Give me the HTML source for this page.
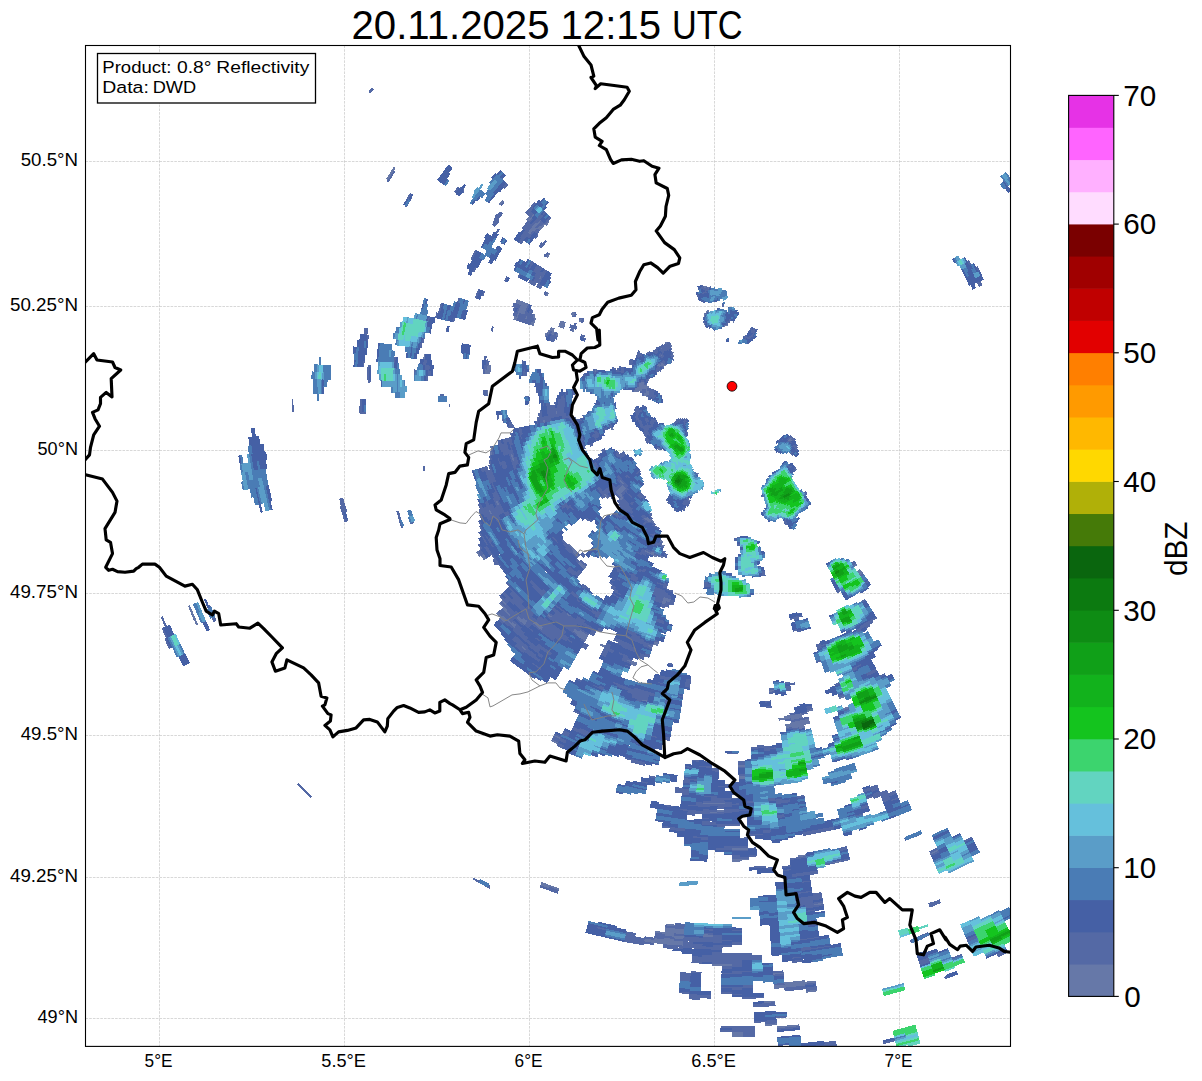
<!DOCTYPE html><html><head><meta charset="utf-8"><title>Radar</title><style>html,body{margin:0;padding:0;background:#fff}</style></head><body><svg width="1202" height="1081" viewBox="0 0 1202 1081" style="display:block;font-family:'Liberation Sans',sans-serif">
<rect width="1202" height="1081" fill="#fff"/>
<defs><clipPath id="fc"><rect x="85.5" y="45.5" width="925.0" height="1000.9"/></clipPath></defs>
<g clip-path="url(#fc)">
<path d="M159.50 45.5V1046.4M344.50 45.5V1046.4M529.50 45.5V1046.4M714.50 45.5V1046.4M899.50 45.5V1046.4M85.5 161.50H1010.5M85.5 306.50H1010.5M85.5 450.50H1010.5M85.5 593.50H1010.5M85.5 735.50H1010.5M85.5 877.50H1010.5M85.5 1018.50H1010.5" stroke="#b0b0b0" stroke-opacity="0.62" stroke-width="0.8" stroke-dasharray="2.6 1.1" fill="none"/>
<g fill="none" stroke-width="2.18" shape-rendering="crispEdges"><path fill="#5469a5" d="M339.8 501.9L342.8 500.6L348.5 521.1L344.3 522.4ZM291.8 398.7L293.3 398.7L293.8 412.4L292.3 412.4ZM359.8 402.4L364.8 402.4L366.0 414.4L363.0 414.4L362.3 408.7L359.8 407.9ZM368.5 365.0L370.5 365.0L370.0 382.5L368.3 382.5ZM190.0 611.2L192.0 611.2L195.5 620.0L193.7 620.0ZM206.2 605.0L210.0 605.0L216.2 620.0L213.7 622.5ZM296.9 784.3L298.4 782.8L311.9 796.8L310.4 798.3ZM386.2 181.2L392.4 170.0L395.4 171.2L388.7 182.5ZM404.4 206.2L410.4 196.2L412.4 197.5L406.2 207.9ZM455.4 193.7L459.9 187.5L464.9 186.2L463.6 192.5L458.6 196.2ZM499.8 203.7L503.6 201.2L504.3 202.9L501.1 206.2ZM492.3 224.9L496.1 213.7L499.8 213.7L498.6 222.4L494.8 227.4ZM501.1 240.4L504.8 240.4L504.8 243.9L501.1 243.9ZM539.8 244.9L544.8 241.2L546.0 242.9L541.0 246.9ZM543.5 253.6L547.3 253.6L547.3 256.9L543.5 256.9ZM504.8 278.6L507.8 278.6L507.8 281.9L504.8 281.9ZM543.5 292.4L546.0 292.4L546.0 295.4L543.5 295.4ZM476.1 293.6L479.9 290.6L482.9 293.6L478.6 297.9ZM368.7 364.8L370.5 364.8L370.5 382.3L368.7 382.3ZM462.4 347.3L469.9 346.1L469.9 352.3L467.4 358.5L462.9 358.5ZM482.9 364.8L487.4 358.5L489.4 364.8L486.1 373.5L482.9 372.3ZM438.7 402.2L439.9 393.5L443.6 393.5L447.4 402.2ZM448.6 403.5L449.9 403.5L449.9 407.2L448.6 407.2ZM360.0 402.2L366.2 402.2L366.2 413.5L360.0 413.5ZM446.1 327.8L447.9 327.8L447.9 332.3L446.1 332.3ZM491.6 328.1L493.1 328.1L493.1 331.6L491.6 331.6ZM559.8 322.3L564.8 322.3L564.8 327.3L559.8 327.3ZM572.3 312.3L576.0 312.3L576.0 316.8L572.3 316.8ZM578.5 317.8L583.5 317.8L583.5 322.3L578.5 322.3ZM571.0 324.8L576.0 324.8L576.0 329.3L571.0 329.3ZM579.8 336.1L583.5 336.1L583.5 339.8L579.8 339.8ZM368.0 92.1L372.0 87.6L374.0 89.1L370.0 93.6ZM501.0 411.9L506.0 412.9L515.0 427.9L508.0 427.9ZM483.6 392.4L488.0 392.4L488.0 396.0L483.6 396.0ZM497.0 411.9L499.0 411.9L499.0 416.9L497.0 416.9ZM524.9 396.0L528.9 396.0L528.9 403.9L524.9 403.9ZM667.8 359.0L671.8 359.0L671.8 363.0L667.8 363.0ZM628.9 360.0L631.9 360.0L631.9 363.6L628.9 363.6ZM494.0 560.0L498.0 560.0L498.0 565.0L494.0 565.0ZM667.8 663.9L672.8 663.9L672.8 666.9L667.8 666.9ZM721.6 303.0L724.4 303.0L724.4 307.0L721.6 307.0ZM725.6 338.9L728.4 338.9L728.4 341.5L725.6 341.5ZM680.0 419.9L687.0 419.9L687.0 429.9L680.0 429.9ZM789.3 616.9L793.9 612.9L800.9 613.5L798.9 616.9L791.9 618.8ZM789.0 617.0L794.0 613.0L801.0 613.6L798.0 617.0ZM760.0 702.9L770.0 702.9L770.0 705.9L760.0 705.9ZM726.9 751.0L737.9 751.0L737.9 754.0L726.9 754.0ZM679.9 881.9L697.9 880.9L697.9 884.3L680.9 884.9ZM731.9 917.5L749.9 917.5L749.9 919.1L731.9 919.1ZM679.8 882.0L697.3 882.0L697.3 884.5L679.8 884.5ZM777.1 1027.2L798.4 1026.0L798.4 1029.7L777.1 1031.7ZM732.2 917.9L749.7 917.9L749.7 919.2L732.2 919.2ZM759.7 917.4L769.7 917.4L769.7 918.7L759.7 918.7ZM928.6 903.1L937.4 900.8L938.8 903.6L930.3 907.5ZM910.1 940.0L918.0 936.5L927.7 932.1L928.6 935.6L919.8 940.0L911.0 943.5ZM944.0 976.9L954.1 973.9L954.9 976.0L945.3 979.2ZM904.0 838.1L919.1 832.2L920.0 835.3L905.3 840.8ZM928.2 903.1L937.4 900.4L938.7 904.0L929.7 907.7ZM472.1 879.1L474.1 877.9L490.7 885.8L489.6 888.8ZM396.1 510.5L398.8 510.5L403.5 527.2L401.1 528.2ZM409.5 512.5L412.1 512.5L413.8 523.2L409.5 524.9ZM422.8 466.0L424.8 466.0L424.8 470.6L422.8 470.6Z"/>
<path stroke="#6678a8" d="M686.7 419.7L685.8 418.4M724.3 325.5L728.0 325.1M732.9 321.5L734.5 321.6M672.5 356.4L673.3 354.9M672.1 353.5L672.9 352.0M704.0 324.1L705.5 323.4M664.9 366.2L665.4 364.5M662.9 366.9L663.8 364.0M661.3 366.4L662.6 362.2M670.2 346.6L671.2 345.1M659.2 367.2L660.1 364.2M703.6 316.7L705.3 316.1M657.6 366.7L658.5 363.7M661.0 356.5L661.8 354.9M704.2 314.6L705.9 314.0M791.6 437.9L788.4 441.3M665.8 343.7L666.9 342.2M706.1 312.1L709.2 311.1M791.9 440.0L790.7 441.4M660.9 348.9L661.8 347.2M648.6 395.4L648.2 390.5M648.1 388.1L648.1 386.1M648.3 380.8L648.4 378.8M647.0 397.1L646.5 390.9L646.4 384.7M645.1 395.8L644.8 392.2M644.7 389.7L644.7 384.6M643.0 389.8L643.0 381.5M641.3 391.4L641.3 381.4M647.1 354.1L647.9 352.1M639.6 391.5L639.5 382.9M698.4 474.5L696.4 473.7M637.9 391.6L637.7 386.1M659.7 449.6L658.3 447.9M636.1 391.7L636.0 387.8M634.4 391.8L634.3 389.6M707.3 288.3L709.5 287.7M703.4 287.5L707.3 286.5M796.6 468.7L794.8 470.1M690.5 501.1L688.1 500.2M612.6 430.1L611.7 427.6M595.2 372.3L595.5 369.4M623.5 484.4L619.9 480.2M625.8 489.3L621.9 485.2M624.5 490.5L620.6 486.3M623.3 491.7L619.3 487.5M622.0 492.9L618.1 488.7M622.7 496.1L616.8 489.8M653.9 522.1L646.5 517.6M623.4 499.2L615.5 491.0M650.7 522.2L643.3 517.5M622.2 500.4L619.9 498.2M576.8 425.4L574.9 416.7M574.4 423.0L573.2 417.0M579.8 322.1L581.2 319.0M608.1 498.3L604.0 493.5M572.4 331.7L573.6 328.5M662.9 542.2L659.8 540.7M664.3 546.5L661.1 545.1M573.1 315.9L574.5 312.7M571.5 315.2L573.0 312.0M556.9 414.4L556.4 410.8M562.6 328.3L564.9 322.0M561.0 327.8L563.3 321.4M556.5 336.3L557.5 332.8M559.3 327.2L561.7 320.8M663.2 557.3L659.8 555.9M654.4 553.5L651.0 551.9M656.6 556.4L644.5 550.5M553.2 335.4L554.2 331.8M551.5 334.9L553.6 328.2M550.8 331.3L551.9 327.6M544.4 423.1L543.7 419.3M548.2 333.9L549.3 330.3M545.6 336.7L546.6 333.0M546.1 296.0L547.9 292.3M532.6 325.7L535.0 318.3M530.9 325.2L532.2 321.2M533.2 318.2L534.6 314.3M856.7 564.1L853.2 566.5M525.4 319.5L526.8 315.5M523.4 314.8L527.6 303.5M539.0 279.7L541.1 275.9M671.0 600.2L663.1 597.7M521.7 314.3L526.0 302.9M860.7 569.8L857.1 572.3M670.5 601.8L662.5 599.4M520.1 313.7L524.4 302.2M861.7 571.2L858.0 573.7M666.2 602.4L662.0 601.0M516.0 320.6L522.8 301.6M546.9 257.1L549.5 253.5M862.7 572.6L859.0 575.1M665.7 604.0L661.5 602.7M577.0 552.9L568.2 544.3M514.4 320.1L515.7 315.9M519.5 305.1L521.2 300.9M578.8 556.9L572.6 551.1M517.9 304.5L519.6 300.3M513.7 461.8L511.1 453.7M516.3 303.9L518.0 299.7M585.8 567.4L579.2 561.8M584.7 568.7L578.0 563.2M489.3 373.9L489.9 365.0M487.4 395.2L487.2 390.4M487.5 373.8L488.2 364.8M485.8 373.7L486.1 369.0M545.8 224.9L549.0 221.3M492.3 450.9L491.1 446.2M538.9 230.4L544.8 223.3M491.8 455.5L490.5 450.9M537.6 229.3L540.7 225.5M533.5 231.6L536.5 227.8M529.4 234.1L540.9 219.9M528.1 233.0L536.7 222.2M498.6 505.6L496.3 501.1M528.2 221.7L534.4 214.3M526.8 220.6L530.1 216.6M658.6 643.4L653.6 641.9M658.1 645.1L653.1 643.6M652.6 647.0L647.6 645.5M491.5 514.5L489.1 509.9M571.0 616.8L566.6 613.7M588.2 636.0L579.1 630.5M605.2 647.0L600.2 644.5M587.3 637.5L574.0 629.3M586.5 639.0L573.0 630.7M636.8 663.7L626.7 660.1M585.6 640.5L576.4 634.9M551.7 617.6L547.3 614.1M636.2 665.4L630.9 663.5M499.4 205.0L502.9 200.6M486.3 558.8L483.0 554.0M484.9 559.8L481.6 555.0M480.4 556.4L477.2 551.6M775.0 690.5L769.2 691.2M543.1 628.5L534.4 621.5M542.1 629.9L533.3 622.8M424.3 359.7L424.9 353.9M527.3 622.2L522.9 618.3M526.2 623.5L517.7 615.9M506.3 604.7L502.2 600.4M525.1 624.8L516.5 617.1M507.7 611.1L499.7 602.7M510.5 616.2L502.2 607.9M516.3 626.3L511.8 622.2M515.1 627.6L502.5 615.6M647.8 701.5L641.9 699.8M505.6 621.2L497.2 612.8M504.4 622.4L500.0 618.0M845.0 696.0L839.1 698.1M812.8 709.5L806.7 710.9M801.8 713.8L784.1 717.1M526.1 650.3L521.1 646.4M802.2 715.5L778.6 719.6M802.6 717.2L790.5 719.5M849.1 707.4L843.0 709.5M809.1 719.3L791.1 722.9M809.5 720.9L785.5 725.6M809.9 722.6L785.7 727.3M804.4 725.6L792.0 728.0M804.7 727.3L798.3 728.6M745.5 765.9L738.4 766.1M745.9 776.3L738.6 776.5M745.9 778.0L738.6 778.2M560.5 738.7L553.9 735.4M558.2 743.4L551.5 740.0M387.1 179.5L394.8 167.1M725.0 804.1L702.6 803.2M724.8 811.1L716.9 810.8M717.4 812.6L709.4 812.2M748.4 848.9L731.7 849.2M748.8 859.3L731.7 859.6M806.5 855.4L797.8 856.7M740.5 861.2L731.7 861.3M841.8 860.9L833.0 862.8M938.8 850.2L930.2 853.9M823.4 903.4L813.9 905.0M559.0 889.5L541.1 883.0M549.7 888.0L540.5 884.6M675.6 925.8L665.7 924.7M684.7 930.2L665.2 928.1M684.5 931.9L665.0 929.8M713.1 935.3L703.0 934.9M684.4 933.6L664.8 931.6M713.0 937.1L702.9 936.6M674.7 934.4L655.1 932.0M684.1 937.1L664.4 935.0M683.9 938.8L673.8 937.8M674.1 939.6L664.0 938.4M683.6 942.2L654.1 938.9M683.5 943.9L644.2 939.1M683.3 945.7L643.9 940.8M732.3 965.1L711.6 964.7M197.1 624.8L188.9 605.5M783.6 973.2L772.8 974.0M805.3 981.3L784.0 983.6M815.9 981.7L773.7 986.1M805.7 984.8L773.8 987.9M817.1 990.3L806.1 991.7M775.3 1001.6L764.0 1002.3M776.8 1024.1L765.2 1024.8M799.4 1025.5L776.6 1027.5M743.5 1032.5L731.7 1032.6M743.6 1034.2L731.7 1034.3M743.6 1035.9L731.7 1036.0"/>
<path stroke="#5469a5" d="M747.4 343.2L748.7 343.7M748.8 341.9L750.1 342.4M744.5 338.7L746.7 339.3M743.2 336.6L746.9 337.6L750.5 338.8M745.4 335.4L747.7 336.0M748.9 336.4L752.0 337.6M750.4 335.1L753.5 336.3M751.9 333.8L754.2 334.7M687.2 420.4L686.4 419.2M748.7 330.9L750.1 331.4M750.6 331.5L754.9 333.2M686.5 422.3L683.8 418.6M750.2 329.6L755.6 331.6M685.8 424.2L683.0 420.4M682.7 420.0L681.8 418.7M750.7 327.9L752.2 328.4M752.8 328.6L757.2 330.4M684.4 425.2L683.5 424.0M681.2 420.9L679.8 418.7M680.4 422.8L677.7 418.7M709.1 327.5L710.6 327.0M725.2 323.6L727.8 323.4M687.9 434.0L685.2 431.3M678.4 422.9L676.3 419.6M672.6 360.2L673.3 358.8M705.4 327.2L706.9 326.6M726.1 321.8L730.0 321.6M686.8 435.3L685.6 434.1M676.9 423.9L675.4 421.5M671.5 358.5L672.8 355.9M704.7 325.7L706.2 325.0M728.3 319.9L731.1 319.8M675.5 424.8L673.9 422.4M670.5 356.7L672.4 353.1M705.1 323.6L706.6 322.9M665.3 365.0L665.8 363.4M670.6 352.7L671.4 351.2M703.3 322.5L704.9 321.8M780.2 439.6L778.0 441.6M660.9 396.6L660.7 394.9M662.3 369.3L663.1 366.4M663.6 364.5L665.1 360.4M669.1 351.8L669.9 350.3M670.3 349.6L671.2 348.1M783.3 439.1L782.0 440.3M660.0 371.4L660.7 368.4M660.9 367.6L661.4 365.9M662.4 362.7L663.4 359.8M667.6 351.0L670.5 346.1M703.0 318.8L704.7 318.1M658.1 372.3L659.4 366.7M660.0 364.6L660.9 361.7M662.1 358.4L663.9 354.4M665.4 351.3L670.5 343.0M791.1 435.7L787.2 440.1M655.8 397.4L655.4 394.2M655.2 392.0L655.1 390.2M656.1 373.3L657.7 366.2M658.3 364.1L658.9 362.4M660.5 357.8L661.2 356.1M661.6 355.3L665.0 348.5L669.1 342.0M705.4 314.1L707.2 313.5M792.5 436.8L791.2 438.2M788.8 440.9L787.5 442.2M654.3 399.0L653.3 388.9M658.9 357.1L660.8 352.9M661.1 352.1L666.1 343.3M793.8 437.9L791.6 440.4M791.0 441.1L789.7 442.5M779.5 451.3L777.9 452.4M652.6 399.2L651.6 389.0M659.6 351.4L661.1 348.4M661.5 347.6L663.2 344.8M795.1 439.0L792.9 441.6M792.3 442.3L790.9 443.7M650.7 398.1L649.8 387.6M656.3 354.5L658.3 350.2M659.3 348.0L660.2 346.3M656.1 422.1L654.7 419.0M649.2 399.8L648.5 394.9M648.2 391.0L648.1 387.6M648.4 379.3L648.6 377.4M654.7 353.8L658.0 346.8M794.8 444.6L792.4 447.1M654.5 422.8L652.5 418.2M646.4 385.2L646.4 383.2M646.5 382.2L646.7 378.7M653.1 353.2L654.5 350.0M797.1 444.7L793.6 448.4M653.6 424.9L650.9 418.9M644.9 392.7L644.7 389.2M644.6 385.1L644.8 381.6M797.3 447.0L794.8 449.6M792.9 451.4L790.3 453.8M652.7 427.1L649.9 421.0M645.6 408.2L645.1 406.2M643.4 396.0L643.0 389.3M643.0 382.0L643.1 379.9M648.7 354.7L650.1 351.4M702.8 302.2L704.7 301.6M797.5 449.3L796.0 450.8M793.0 453.7L791.4 455.1M651.2 427.9L649.6 424.6M648.5 422.1L646.6 417.2M643.6 407.1L643.1 405.0M641.4 393.0L641.3 390.9M641.3 381.9L641.4 379.8M700.7 301.1L702.7 300.4M649.6 428.6L644.9 417.8M639.5 383.4L639.6 381.3M696.9 473.9L694.9 473.1M662.1 449.7L659.6 446.8M648.9 430.9L645.8 424.5M641.4 412.6L640.5 409.0M637.7 386.7L637.8 382.9M658.6 448.3L657.2 446.6M649.8 436.1L644.2 425.2M639.8 413.1L638.4 407.8M640.6 357.0L641.9 353.3M697.4 296.9L699.4 296.1M789.7 465.3L787.9 466.6M657.3 449.4L655.9 447.7M647.5 435.5L643.4 427.7L640.1 419.6M638.6 415.2L636.3 406.5M638.5 358.1L640.2 352.7M696.7 295.2L698.8 294.5M701.6 293.5L706.9 291.9M792.1 465.7L788.9 468.0M649.7 442.2L643.3 431.3M642.0 428.7L637.9 418.8L635.0 408.5M632.7 391.9L632.6 389.6M636.8 357.6L639.2 350.5M704.3 290.8L709.9 289.4M648.2 443.2L645.1 438.3M637.0 421.2L635.1 415.8M633.0 365.6L633.4 363.4M702.2 289.7L707.8 288.1M709.0 287.8L711.2 287.4M795.6 467.4L793.7 468.8M630.3 370.5L630.7 368.3M631.3 365.2L632.6 359.5M700.0 288.6L703.9 287.4M795.2 469.8L793.3 471.2M629.6 364.9L631.0 359.1M701.2 286.4L703.4 285.7M622.9 373.3L623.9 367.1M621.2 373.0L622.2 366.8M763.5 495.3L761.1 495.9M619.5 372.8L619.8 370.4M620.0 368.9L620.5 366.5M617.8 372.6L618.4 368.2M616.1 372.4L616.4 369.9M614.6 370.2L615.0 367.6M689.1 498.7L686.7 497.8M612.9 369.9L613.3 367.3M688.5 500.4L686.1 499.4M616.1 424.3L615.3 421.8M689.9 502.7L683.4 500.2M689.3 504.3L682.8 501.8M640.4 472.1L638.6 470.1M688.7 506.0L682.1 503.3M670.6 497.7L668.2 496.4M639.2 473.3L637.3 471.3M625.5 455.9L622.9 451.7M611.9 428.0L610.3 423.3M806.1 491.8L803.9 493.4M637.9 474.5L636.1 472.5M624.0 456.8L621.4 452.6M610.2 428.6L609.3 426.0M807.1 493.2L804.8 494.8M685.4 508.4L682.8 507.4M668.9 500.8L666.5 499.4M622.6 457.7L619.9 453.5M684.8 510.0L682.2 509.0M670.1 503.4L667.6 502.0M621.1 458.7L616.1 450.3M606.9 429.7L606.1 427.1M807.2 497.4L804.8 499.0M618.4 457.7L615.8 453.2M605.3 430.3L604.4 427.6M677.0 510.6L674.4 509.4M596.9 372.5L597.2 369.6M630.0 478.6L626.5 474.6M595.0 374.7L595.2 371.8M627.1 478.0L625.2 475.7M593.5 372.1L593.8 369.2M645.4 497.7L639.3 492.6M599.6 434.9L598.6 432.1M644.3 499.0L638.2 494.0M604.9 451.4L603.6 448.7M598.8 437.8L596.2 430.3M786.3 520.2L783.5 521.3M641.3 498.8L637.0 495.3M628.3 486.9L618.0 475.1M603.4 452.2L602.1 449.5M597.2 438.4L594.5 430.8M787.0 521.8L784.2 523.0M628.8 489.9L623.2 484.0M620.2 480.6L616.7 476.2M596.6 441.4L593.7 433.8M787.6 523.5L784.8 524.6M627.6 491.2L625.4 489.0M622.2 485.6L616.9 479.3M593.1 437.2L592.1 434.3M584.4 376.3L584.7 373.3M632.1 497.8L624.2 490.2M621.0 486.7L618.9 484.4M601.2 459.2L598.6 454.1M740.2 537.6L737.0 537.7M652.0 514.9L649.3 513.2M625.1 493.6L622.9 491.4M619.7 487.9L617.6 485.5M599.7 460.0L598.2 457.2M592.8 445.8L591.6 442.9M584.0 418.1L583.4 415.0M737.6 539.4L734.4 539.5M651.1 516.4L648.4 514.7M633.8 503.8L631.4 501.8M623.9 494.8L621.7 492.6M618.4 489.0L616.3 486.7M598.2 460.8L596.7 458.1M591.2 446.5L590.0 443.5M652.5 519.2L649.7 517.6M632.7 505.2L630.2 503.1M624.6 498.0L622.3 495.7M617.1 490.2L609.8 481.5M581.2 421.5L580.5 418.3M583.9 341.4L584.8 338.3M646.9 517.8L642.0 514.5M629.5 504.7L623.1 498.8M615.8 491.3L608.5 482.6M599.4 469.6L594.9 462.1M579.5 421.9L578.8 418.7M583.0 338.3L584.0 335.2M740.5 544.5L737.3 544.6M655.5 525.0L650.3 522.0M643.7 517.8L641.0 515.9M632.6 509.6L621.9 500.1M620.2 498.5L608.8 485.8M596.4 468.1L593.4 462.9M583.3 440.8L580.5 432.4M578.5 424.9L577.1 419.1M573.9 394.9L573.8 391.7M581.4 337.7L582.4 334.6M659.6 529.1L651.8 524.9M649.8 523.7L642.3 518.9M633.7 512.7L618.7 499.4M615.1 495.7L607.5 486.9M584.8 449.2L578.1 430.3M577.5 428.1L576.7 424.9M646.5 523.7L643.7 521.9M632.6 514.0L617.4 500.6M613.9 496.9L606.1 488.0M575.1 425.8L574.3 422.5M645.6 525.2L642.8 523.4M633.8 517.1L631.2 515.1M627.1 511.8L618.3 503.8M612.6 498.1L610.3 495.6M608.8 493.8L604.8 489.1M572.8 423.4L570.1 408.9M581.4 322.8L582.8 319.7M609.4 497.1L603.4 490.2M570.4 421.0L569.3 414.8M661.7 537.8L653.4 533.7M604.3 493.9L598.5 486.7M568.2 418.5L567.5 415.1M565.3 395.4L565.1 392.0M575.0 329.5L576.2 326.3M655.6 536.8L650.0 533.8M604.9 497.2L597.1 487.7M566.5 418.8L565.4 412.5M564.6 407.2L563.5 395.0M573.4 328.9L575.7 323.0M622.7 517.1L620.0 514.8M603.6 498.4L601.3 495.7M564.8 419.2L562.9 407.2L561.8 395.1M570.8 331.2L573.0 325.1M662.2 543.8L659.0 542.3M621.5 518.4L616.6 514.2M563.1 419.5L560.3 398.2M570.2 327.8L571.4 324.5M574.6 316.6L576.1 313.4M661.5 545.3L655.6 542.6M618.1 517.8L613.2 513.4M560.8 416.8L558.5 398.3M663.6 548.1L660.4 546.7M658.0 545.6L649.3 541.3M559.1 417.1L557.3 404.5M654.5 545.9L645.8 541.4M557.4 417.4L556.8 413.9M556.4 411.3L556.0 407.8M555.7 405.2L555.3 401.6M665.2 552.5L661.8 551.1M555.7 417.7L553.9 404.9M667.4 555.3L664.0 553.9M554.0 418.0L552.2 405.0M666.8 556.9L663.4 555.5M655.1 551.9L651.8 550.3M619.8 530.4L614.5 526.1M552.3 418.3L550.5 405.2M555.6 339.4L556.6 335.9M660.2 556.1L653.9 553.3M651.5 552.1L645.3 549.0M551.2 421.8L548.4 402.2M553.2 342.1L555.9 332.3M644.9 550.7L641.6 548.9M549.5 422.1L546.7 402.4M551.5 341.7L553.3 334.9M764.8 571.2L761.1 571.8M649.9 555.2L640.8 550.4M547.8 422.5L546.6 415.5M549.8 341.2L551.6 334.4M765.1 572.9L761.4 573.5M646.2 555.3L639.9 552.0M546.1 422.8L544.9 415.8M543.6 406.4L543.3 402.7M549.8 334.4L550.9 330.8M765.4 574.6L761.7 575.3M642.5 555.3L636.2 551.8M543.8 419.8L543.1 416.1M547.3 337.2L548.3 333.5M542.7 423.5L540.5 409.7M592.2 521.8L589.5 519.0M541.0 423.8L539.2 413.2M537.5 393.4L537.4 389.5M588.6 520.5L585.9 517.6M538.7 420.7L538.0 416.9M708.1 583.0L704.2 582.5M537.6 424.4L536.9 420.6M711.4 585.1L703.9 584.2M711.2 586.9L703.7 585.9M573.3 510.7L568.8 504.7M646.3 570.7L642.7 569.0M569.8 508.9L565.3 502.8M645.6 572.3L638.7 568.9M568.4 510.0L563.9 503.8M641.6 572.3L637.9 570.5M564.9 508.1L562.5 504.8M525.5 375.8L525.8 371.7M667.8 584.7L663.9 583.4M563.5 509.1L561.1 505.8M523.8 375.7L524.4 368.0M544.5 295.2L546.4 291.5M667.3 586.4L656.4 582.5M522.9 364.7L523.4 360.5M532.0 321.7L533.3 317.7M666.7 588.0L662.8 586.7M636.0 575.3L632.3 573.4M529.3 324.7L532.9 313.7M854.8 561.3L851.3 563.7M673.3 591.8L665.7 589.5M638.6 578.5L628.2 573.1M527.6 324.2L532.6 309.6M855.7 562.7L852.2 565.1M665.7 591.3L654.6 587.4M637.8 580.1L630.7 576.5M621.3 571.1L614.5 566.9M522.2 435.1L520.5 427.3M526.0 323.7L531.0 309.0M540.0 288.8L541.9 285.1M668.8 594.1L654.0 589.0M637.0 581.7L629.8 578.0M620.4 572.6L616.7 570.4M521.4 439.2L518.8 427.6M524.3 323.2L525.6 319.1M526.6 316.0L528.1 311.9M538.4 288.1L540.4 284.2M671.9 596.8L653.3 590.6M522.6 322.7L529.2 304.2M536.9 287.3L546.5 270.2M671.4 598.5L652.7 592.2M521.0 322.1L523.5 314.4M537.1 283.1L539.2 279.2M540.9 276.3L545.1 269.3M674.7 601.2L670.5 600.0M663.5 597.9L652.1 593.8M519.3 321.6L521.9 313.8M533.8 285.7L541.6 271.7M674.3 602.9L670.0 601.7M663.0 599.5L655.1 596.8M620.2 580.5L616.4 578.3M585.2 555.6L581.9 552.7M517.7 321.1L520.3 313.2M532.3 284.9L542.1 267.5M673.8 604.5L665.8 602.2M662.5 601.2L654.5 598.5M584.1 557.0L580.7 554.0M512.1 437.4L511.1 433.1M509.7 425.8L509.0 421.5M530.7 284.1L532.8 280.2M534.4 277.2L540.7 266.6M669.5 605.2L665.2 603.9M661.9 602.8L654.0 600.1M615.0 581.5L611.2 579.2M580.0 555.6L576.7 552.6M518.3 464.4L515.6 456.5M512.3 445.5L510.3 437.3M515.6 316.3L519.7 304.6M529.2 283.3L531.3 279.4M534.9 272.9L539.2 265.6M545.5 256.1L548.1 252.5M863.7 574.0L860.0 576.6M839.8 588.7L835.8 590.8M669.1 606.8L660.9 604.3M572.9 551.5L561.5 539.6M516.7 465.0L508.6 437.7M513.9 315.8L515.3 311.5M516.5 308.2L518.1 304.0M533.4 272.0L537.7 264.7M840.6 590.2L836.6 592.3M664.7 607.3L660.4 606.0M613.3 584.5L609.4 582.1M586.8 566.0L580.3 560.5M577.6 558.2L562.9 543.7M516.5 469.4L513.5 461.4M511.2 454.2L509.9 449.8M508.0 442.5L506.9 438.1M503.9 422.8L503.3 418.3M513.5 311.4L516.5 303.4M615.9 588.0L611.9 585.7M579.5 562.2L576.1 559.2M570.5 554.0L564.4 547.9M514.9 470.0L509.5 454.4L505.2 438.5M513.3 307.1L514.9 302.8M618.6 591.5L611.1 587.2M578.4 563.5L575.0 560.4M558.0 543.4L552.3 536.9M507.9 455.2L503.5 438.9M528.9 269.4L533.3 262.0M621.4 595.0L613.7 590.8M506.2 455.7L502.8 443.3M498.2 419.5L497.6 414.9M529.5 265.0L531.9 261.1M540.8 247.8L546.1 240.8M868.6 581.1L864.8 583.7M504.6 456.2L500.2 439.7M539.4 246.8L542.2 243.0M802.3 615.5L789.7 618.9M619.7 598.1L612.0 593.8M581.4 572.8L577.8 569.8M506.9 468.6L504.0 460.2M501.7 452.7L498.5 440.1M518.4 277.8L520.6 273.7M798.8 618.3L794.2 619.6M580.3 574.1L576.7 571.1M505.3 469.2L502.4 460.7M579.2 575.5L569.2 566.9M503.7 469.8L500.8 461.3M664.8 621.8L656.1 619.1M578.1 576.8L568.0 568.2M500.6 466.3L497.8 457.7M488.1 365.3L488.6 360.6M664.3 623.4L655.6 620.8M573.7 575.4L566.9 569.4M485.6 395.3L485.5 390.5M486.1 369.5L486.9 360.4M491.7 331.2L492.9 326.5M535.0 238.2L537.9 234.4M589.8 589.9L582.4 584.5M493.4 455.1L492.1 450.4M483.9 395.3L483.8 390.5M484.1 373.7L484.7 364.5M485.1 360.7L485.6 355.9M536.2 233.8L539.2 230.0M544.5 223.7L550.6 216.9M585.3 588.8L581.4 585.9M505.3 281.0L507.4 276.6M534.9 232.7L537.9 228.9M540.3 225.9L543.5 222.2M865.6 599.7L861.4 602.3M797.4 629.5L792.7 630.7M491.4 460.2L490.0 455.5M528.2 238.6L533.8 231.2M536.2 228.2L542.2 221.1M802.1 630.0L797.4 631.3M491.0 465.0L489.6 460.3M526.8 237.6L529.7 233.7M495.5 482.2L489.2 465.0M520.3 243.9L528.4 232.6M536.4 222.6L545.5 212.2M509.6 515.1L507.2 510.7M493.9 482.9L489.0 469.8M518.9 242.9L529.6 228.2L541.2 214.3M508.1 515.9L505.7 511.6M499.7 500.0L492.2 483.3L485.9 466.1M520.0 238.3L531.2 223.4M579.2 597.2L571.5 591.4M506.6 516.8L494.0 492.1M490.7 484.2L484.3 466.6M523.9 229.9L532.7 218.8M601.2 613.5L596.8 610.9M578.1 598.6L570.4 592.8M502.9 513.7L498.4 505.2M496.5 501.5L492.5 492.8M484.3 472.0L482.7 467.2M522.5 228.9L528.5 221.3M600.3 615.0L592.0 610.0M580.9 602.7L576.7 599.7M501.4 514.5L492.8 497.7M482.6 472.5L481.0 467.7M529.7 217.0L533.1 213.1M659.0 641.7L654.1 640.3M637.1 634.4L628.0 630.7M599.4 616.5L579.5 603.8M499.9 515.4L495.3 506.7M482.4 295.8L484.2 291.0M528.4 215.9L531.7 212.0M967.9 260.7L970.3 265.3M977.9 281.7L979.9 286.5M640.8 637.7L627.3 632.3M598.6 618.0L594.1 615.4M500.6 520.3L491.7 503.3M527.1 214.8L533.5 207.4M979.5 281.1L981.5 285.9M644.7 640.8L631.0 635.7M499.2 521.1L490.1 504.1M525.8 213.7L535.4 202.7M653.1 645.4L626.0 635.5M497.7 522.0L486.5 500.6M475.9 298.5L479.3 289.1M976.8 266.7L979.1 271.5M876.6 617.3L859.7 627.1M820.9 643.9L816.0 645.6M648.0 645.6L625.3 637.1M493.8 518.7L491.3 514.1M489.3 510.3L484.9 501.3M873.4 621.3L856.3 630.8M826.0 644.0L816.5 647.3M652.1 648.7L642.5 645.6M492.3 519.6L485.4 506.4M870.2 625.2L865.6 627.9M861.8 629.9L857.0 632.4M822.1 647.2L817.0 648.9M602.7 630.2L598.0 627.6M490.8 520.4L483.9 507.1M632.7 645.7L614.4 637.9M601.9 631.7L597.2 629.1M585.1 622.0L576.5 616.5M546.4 592.9L542.5 589.3M489.3 521.2L480.2 503.5M636.7 649.0L613.7 639.5M596.8 630.9L575.6 617.9M545.2 594.2L530.8 580.3M485.4 517.8L478.7 504.3M650.0 655.3L644.9 653.7M636.1 650.7L617.4 643.1M595.9 632.4L570.5 616.5M567.0 614.0L554.9 604.7M544.1 595.5L529.6 581.5M481.6 514.3L479.2 509.4M496.1 233.5L499.1 229.0M649.5 657.0L639.7 653.8M635.5 652.3L621.2 646.7M612.7 642.9L607.8 640.5M595.1 633.9L590.4 631.2M582.3 626.4L561.6 612.1M542.9 596.8L531.8 586.2M482.4 519.4L479.9 514.6M473.5 271.6L475.8 266.6M673.1 664.8L667.7 663.6M644.3 657.1L639.1 655.4M594.2 635.4L589.5 632.7M577.2 625.2L552.7 607.4M643.8 658.8L638.5 657.0M611.2 646.0L606.3 643.6M589.1 634.5L569.8 622.4L551.6 608.8M492.0 542.5L489.1 537.9M481.7 525.4L479.1 520.6M453.0 322.2L454.3 316.9M458.1 302.9L459.8 297.7M821.2 660.3L816.0 661.9M610.5 647.6L605.5 645.2M579.6 630.8L554.5 613.2M493.3 547.7L485.0 534.5M482.7 530.6L479.9 525.8M493.1 225.5L502.1 212.9M628.4 657.0L618.5 653.0M614.4 651.2L604.7 646.7M574.4 629.6L553.4 614.6M471.4 259.6L476.3 250.1M494.5 220.4L500.7 211.8M632.5 660.4L622.6 656.6M613.7 652.8L604.0 648.3M573.4 631.0L548.4 612.8M487.7 545.4L479.4 531.9M627.1 660.2L621.9 658.2M608.3 652.3L603.2 649.8M576.8 635.2L551.3 617.3M504.3 571.1L485.9 545.9M631.4 663.7L621.3 659.8M607.6 653.8L602.5 651.4M584.7 642.0L579.9 639.1M554.7 622.1L546.2 615.5M496.6 564.1L493.2 559.6M490.5 555.8L484.5 546.8M691.0 680.2L685.3 679.4M606.8 655.4L601.7 653.0M588.4 646.0L583.4 643.2M566.3 632.5L561.6 629.3M690.7 682.0L685.1 681.1M670.2 678.4L659.6 675.9M630.2 666.9L624.8 664.9M606.1 657.0L601.0 654.5M587.5 647.5L582.6 644.7M565.3 633.9L544.0 618.2M510.4 586.3L506.6 582.0M481.9 549.1L478.8 544.3M690.5 683.7L684.8 682.8M669.8 680.0L659.1 677.6M586.7 649.0L581.7 646.2M568.7 638.3L538.9 616.2M531.3 609.6L527.1 605.7M523.7 602.5L508.8 587.1M483.3 554.5L480.1 549.7M789.8 682.7L784.2 683.7M690.2 685.4L684.5 684.5M572.2 642.5L554.6 630.6L537.8 617.5M534.1 614.4L525.9 607.0M522.5 603.7L511.0 592.1M481.9 555.4L478.7 550.6M430.3 376.1L430.5 370.4M439.0 313.6L441.9 302.9M504.0 188.5L507.8 184.2M795.4 683.3L789.7 684.5M690.0 687.1L684.3 686.2M566.8 641.2L536.6 618.8M533.0 615.7L509.8 593.3M428.6 376.1L429.1 365.0M436.1 318.3L437.5 312.7M502.7 187.4L506.5 183.1M790.5 686.1L784.8 687.1M774.7 688.7L769.0 689.5M663.6 684.0L657.9 682.6M561.5 639.7L535.7 620.3L512.2 598.3M426.7 381.3L426.8 375.5M427.1 370.7L427.4 364.9M862.0 664.6L851.8 669.2M790.8 687.8L785.1 688.9M560.5 641.1L542.7 628.2M534.8 621.8L518.7 607.3L503.6 591.7M425.3 370.6L426.1 359.4M857.8 668.4L852.4 670.8M791.2 689.5L785.4 690.6M775.2 692.2L769.4 692.9M555.1 639.5L541.7 629.6M533.7 623.1L521.2 612.1M513.8 604.9L502.3 592.8M423.9 365.1L424.4 359.2M554.1 640.9L536.6 627.7L520.0 613.3M508.8 602.3L504.7 598.0M428.2 322.1L429.5 316.3M531.5 625.8L526.9 621.9M523.2 618.6L514.9 610.9M507.5 603.5L499.8 595.2M422.7 343.2L423.6 337.3M683.1 696.6L677.2 695.6M667.0 693.6L661.1 692.3M530.4 627.1L525.8 623.2M518.0 616.2L506.0 604.3M420.3 348.4L421.1 342.5M840.2 683.0L834.6 685.0M533.5 631.9L524.7 624.5M516.9 617.5L500.9 601.5M876.3 669.1L865.9 674.2M770.9 701.5L764.9 702.1M655.4 694.5L633.7 688.2M523.9 626.2L507.3 610.7M414.7 375.6L415.0 369.5M877.1 670.7L866.7 675.8M655.0 696.2L633.4 690.0L612.2 682.2M540.1 641.5L535.3 637.8M514.5 620.0L510.1 615.8M671.0 701.5L665.0 700.3M649.2 696.4L616.8 685.9M521.6 628.8L501.0 609.1M771.6 706.6L765.5 707.3M670.7 703.2L664.7 701.9M648.7 698.1L626.7 691.4M551.8 654.0L537.6 643.9M524.8 633.7L515.9 626.0M512.1 622.5L499.7 610.3M648.3 699.8L631.5 694.8M550.8 655.5L536.6 645.3M528.1 638.6L514.8 627.3M502.8 615.9L498.5 611.5M885.3 674.2L879.8 677.1M642.4 699.9L631.0 696.5M540.5 650.4L522.4 636.2L505.3 620.8M844.4 694.4L838.5 696.5M641.9 701.6L635.9 699.8M604.1 688.3L598.4 685.8M539.5 651.8L512.4 629.9M508.6 626.3L504.1 622.1M812.0 706.1L805.9 707.6M603.5 689.9L592.5 685.0M543.2 656.5L528.9 645.9M503.2 623.6L498.8 619.3M812.4 707.8L806.3 709.3M581.8 681.7L576.2 678.8M542.2 657.9L537.1 654.3M528.2 647.6L514.5 636.3M795.8 713.3L789.6 714.4M536.5 656.0L513.3 637.6M807.5 712.5L801.4 713.9M540.2 660.8L525.7 650.0M521.5 646.7L512.2 638.9M539.2 662.2L515.5 644.0M791.0 719.4L784.7 720.5M524.0 653.1L514.4 645.3M394.6 363.1L395.1 356.7M454.8 192.6L458.5 187.4M808.7 717.6L790.8 721.2M541.1 669.8L531.0 662.7M849.7 709.0L843.6 711.2M1008.9 177.5L1012.8 182.7M792.5 728.0L786.0 729.0M798.8 728.5L792.3 729.7M670.2 738.3L663.6 737.0M669.9 740.0L663.3 738.7M657.6 737.6L651.0 736.1M763.7 745.7L756.9 746.2M579.8 713.4L573.7 710.5M770.1 746.8L750.7 748.4M776.6 747.8L763.5 749.2M367.9 380.3L368.3 367.1M770.5 750.3L763.6 750.9M367.1 341.8L368.0 335.0M649.2 746.3L636.2 743.1M363.1 367.3L363.6 360.4M366.2 335.2L367.2 328.4M361.8 412.5L361.1 399.1M364.5 335.0L365.5 328.1M360.1 412.7L359.7 405.7M591.9 733.8L579.4 728.5M407.5 199.3L411.1 193.3M745.4 762.4L738.3 762.6M699.5 761.3L692.4 760.6M591.3 735.4L572.8 727.3M745.4 764.2L738.3 764.4M590.6 737.0L572.0 728.9M745.6 767.6L738.4 767.8M712.3 767.4L698.5 766.4M718.9 769.4L711.7 769.1M692.2 767.5L685.1 766.7M570.3 733.8L563.8 730.7M718.8 771.1L711.6 770.8M569.6 735.4L563.0 732.3M645.3 763.2L625.2 758.0M568.8 736.9L562.3 733.8M745.8 774.5L738.5 774.7M644.9 764.9L631.2 761.5M561.2 737.1L554.7 733.9M566.6 741.6L560.0 738.5M565.9 743.2L553.1 737.0M697.8 780.2L683.6 778.7M558.9 741.8L552.3 738.5M690.7 781.3L683.4 780.4M564.4 746.3L557.7 743.1M732.3 785.2L724.8 785.1M690.6 783.0L683.2 782.2M656.2 777.9L648.8 776.4M563.7 747.9L557.0 744.7M732.3 786.9L717.8 786.6M689.8 789.9L675.3 788.1M647.9 783.3L640.5 781.6M346.2 512.0L342.0 498.0M739.4 793.7L731.7 793.8M689.7 791.6L675.1 789.8M344.6 512.5L340.3 498.5M689.5 793.3L674.8 791.5M345.2 519.8L340.7 505.8M717.9 797.0L703.1 796.3M689.3 795.1L681.7 794.2M739.5 798.9L710.2 798.4M775.6 798.4L767.9 799.2M725.0 800.7L710.1 800.2M804.5 796.1L796.8 797.4M783.0 799.3L768.0 800.9M754.0 801.9L746.3 802.2M732.3 802.5L702.7 801.4M790.4 800.1L775.4 801.9M739.5 804.1L724.5 804.1M703.1 803.2L695.3 802.6M790.6 801.8L775.6 803.7M732.3 805.9L695.2 804.3M724.9 807.6L717.0 807.4M710.2 807.1L687.7 805.3M739.6 809.3L724.4 809.3M877.5 785.4L863.0 790.4M754.5 810.5L724.3 811.0M717.4 810.9L702.1 810.1M673.1 807.0L665.3 805.8M878.1 787.0L863.5 792.1M732.3 812.8L716.9 812.6M709.9 812.3L679.8 809.6M878.7 788.7L871.2 791.3M724.8 814.5L687.0 812.2M694.8 814.7L686.8 813.9M879.9 791.9L872.3 794.6M784.9 814.8L776.9 815.7M887.5 790.9L865.7 798.6M785.1 816.5L777.1 817.4M709.6 819.2L701.5 818.7M888.2 792.5L873.4 797.9M895.9 791.3L881.2 797.0M717.0 823.0L701.3 822.1M896.5 792.9L881.8 798.6M739.9 824.9L701.2 823.9M890.0 797.4L882.4 800.2M868.3 805.1L860.5 807.5M724.6 826.6L716.4 826.4M890.6 799.0L882.9 801.8M868.8 806.7L861.0 809.2M898.5 797.7L890.8 800.8M771.1 830.2L762.8 830.8M685.7 829.5L662.1 826.4M863.0 814.0L855.0 816.3M771.2 831.9L762.9 832.5M685.5 831.2L669.5 829.2M763.6 834.2L747.4 835.1M834.0 827.1L802.5 833.3M748.0 838.5L739.6 838.7M708.6 838.2L692.3 837.1M834.4 828.8L802.8 835.0M708.5 839.9L700.1 839.4M748.3 847.2L723.7 847.4M756.5 848.5L747.9 848.9M732.3 849.2L715.6 848.9M748.5 850.6L731.7 850.9M756.8 855.4L748.1 855.8M740.4 856.0L731.7 856.1M748.7 857.5L731.7 857.8M847.1 847.1L838.6 849.2M847.5 848.8L839.0 850.9M806.8 857.1L789.8 859.5M765.9 867.0L748.6 867.9M791.2 866.3L782.3 867.3M774.4 868.1L765.5 868.8M850.1 858.9L841.3 861.0M833.5 862.7L824.7 864.5M791.6 869.7L782.7 870.8M817.7 871.1L791.7 874.9M818.0 872.8L791.9 876.7M810.6 881.0L801.5 882.4M938.0 848.6L929.5 852.3M939.5 851.7L930.8 855.5M972.2 837.7L963.9 842.0M812.2 891.3L794.1 893.8M821.6 893.2L812.3 894.8M821.9 894.9L794.7 899.0M822.2 896.6L794.9 900.7M822.5 898.3L795.1 902.4M813.8 901.5L795.3 904.1M823.1 901.7L795.5 905.9M814.4 905.0L804.8 906.4M823.7 905.1L805.1 908.1M815.2 910.1L805.5 911.5M558.5 891.1L549.2 887.8M557.9 892.7L539.9 886.2M685.1 925.0L675.2 924.0M817.1 922.0L807.2 923.5M685.0 926.7L675.1 925.8M817.4 923.7L807.5 925.2M741.7 930.4L731.7 930.5M713.3 930.2L703.3 929.7M684.8 928.4L665.4 926.4M713.1 933.6L703.1 933.2M722.7 935.6L712.6 935.3M722.6 937.3L712.5 937.1M684.2 935.3L674.2 934.4M722.6 939.1L683.6 937.0M664.9 935.0L654.8 933.7M939.9 900.4L930.5 904.1M732.3 940.9L683.4 938.7M674.3 937.9L654.6 935.4M940.6 902.0L931.1 905.7M742.0 942.5L731.7 942.6M722.5 942.5L673.6 939.5M664.5 938.5L654.3 937.1M635.7 934.2L625.6 932.3M819.5 937.4L799.7 940.2M742.0 944.2L731.7 944.3M693.3 943.0L683.1 942.2M654.6 938.9L644.5 937.4M635.4 935.9L625.3 934.0M606.7 930.1L596.8 927.7M732.3 946.1L712.2 945.7M703.0 945.3L683.0 943.9M644.7 939.2L625.0 935.7M722.5 947.7L682.8 945.6M644.4 940.9L624.6 937.4M722.4 949.4L663.1 945.3M653.9 944.1L624.3 939.1M683.0 949.1L662.9 947.0M643.9 944.3L624.0 940.8M811.1 947.4L800.8 948.8M722.4 952.9L712.0 952.6M830.9 946.0L801.0 950.5M752.1 954.4L711.9 954.4M762.1 955.6L701.9 955.6M762.2 957.4L691.9 956.8M762.3 959.1L691.7 958.5M802.4 957.3L791.9 958.5M742.3 961.5L691.6 960.2M742.3 963.3L711.6 963.0M702.1 962.6L691.5 961.9M802.8 960.7L792.2 961.9M742.3 965.0L731.7 965.1M742.4 966.7L721.6 966.7M732.3 968.5L721.6 968.5M752.7 971.6L731.7 972.0M783.4 971.5L772.7 972.3M742.5 973.6L721.5 973.6M701.5 972.9L690.8 972.3M691.2 974.0L680.4 973.2M783.7 974.9L773.0 975.8M691.0 975.8L680.3 974.9M690.9 977.5L680.1 976.6M690.8 979.2L680.0 978.4M690.7 981.0L679.8 980.1M784.5 983.5L773.6 984.4M753.2 985.5L742.2 985.8M976.7 935.5L966.7 939.9M753.2 987.2L721.3 987.5M977.5 937.1L967.3 941.5M816.2 983.4L805.2 984.8M742.8 989.2L731.7 989.3M929.1 958.0L918.6 961.5M805.9 986.5L784.4 988.8M929.6 959.6L919.1 963.2M816.6 986.8L784.6 990.5M732.3 992.8L721.2 992.7M930.2 961.3L919.7 964.8M816.9 988.5L805.9 990.0M742.9 994.4L731.7 994.5M689.8 993.0L678.8 992.2M711.0 995.9L689.2 994.7M764.3 997.1L742.4 997.9M710.9 997.6L689.1 996.4M962.0 954.9L951.5 959.0M700.2 998.9L689.0 998.2M166.0 626.9L161.7 616.6M775.4 1003.4L753.3 1004.5M167.1 638.2L162.6 627.8M775.5 1005.1L753.4 1006.2M170.0 648.7L165.3 638.4M1007.1 949.9L996.8 954.9M1007.9 951.5L997.5 956.4M787.4 1016.3L775.9 1017.2M776.6 1020.6L753.9 1021.8M776.7 1022.3L765.1 1023.0M754.6 1027.0L720.6 1027.3M754.7 1028.7L731.7 1029.1M799.6 1027.3L776.7 1029.3M754.7 1030.4L720.5 1030.7M754.8 1032.2L743.0 1032.5M754.9 1033.9L743.1 1034.2M754.9 1035.6L743.1 1035.9M836.0 1041.6L824.1 1043.4M836.3 1043.4L812.8 1046.7M836.6 1045.1L824.6 1046.9M895.3 1040.2L883.3 1043.0"/>
<path stroke="#4560a5" d="M746.7 343.0L747.9 343.4M726.2 340.9L729.1 340.6M743.3 340.2L744.6 340.5M746.5 341.1L749.3 342.1M727.6 339.0L728.9 338.9M742.8 338.3L745.0 338.8M746.2 339.2L751.5 341.1M750.1 338.7L753.0 339.9M747.2 335.9L749.4 336.6M751.5 337.4L754.5 338.7M746.8 333.9L750.9 335.3M753.1 336.1L756.1 337.5M748.2 332.6L752.4 334.0M753.7 334.5L755.1 335.1M688.5 422.0L686.9 420.0M749.7 331.2L751.1 331.7M754.4 333.0L755.8 333.6M687.1 423.1L686.2 421.9M755.1 331.4L756.5 332.0M686.4 425.0L685.5 423.8M683.3 420.8L682.4 419.6M713.3 329.7L714.8 329.3M720.4 327.9L721.9 327.6M751.8 328.3L753.2 328.8M686.5 427.7L684.1 424.9M683.8 424.4L680.9 420.5M722.1 325.8L723.7 325.5M686.8 430.4L682.1 425.1M681.7 424.6L680.1 422.4M710.2 327.1L711.7 326.6M721.9 324.1L725.6 323.6M685.5 431.6L683.6 429.6M679.7 424.7L678.1 422.5M706.4 326.8L711.1 325.0M725.0 321.9L726.6 321.8M731.7 319.8L734.6 319.8M687.6 436.1L686.4 434.9M685.9 434.5L684.7 433.3M677.6 424.8L676.6 423.4M671.1 359.5L671.7 358.0M705.7 325.2L707.3 324.6M724.8 320.2L728.8 319.9M730.6 319.8L732.3 319.8M732.9 318.1L735.8 318.2M676.2 425.8L675.2 424.4M667.3 364.4L667.9 362.8M669.5 358.8L670.7 356.2M706.2 323.1L707.7 322.5M725.8 318.3L731.1 318.1M731.7 316.3L735.9 316.4M665.7 363.8L668.0 357.9L670.8 352.2M704.4 322.0L707.1 320.9M725.6 316.6L732.3 316.3M731.7 314.6L734.8 314.7M736.8 314.8L738.5 314.9M784.7 435.2L779.9 439.9M778.3 441.2L776.0 443.1M662.1 402.8L660.9 396.1M664.9 360.9L666.9 356.1L669.3 351.4M669.7 350.7L670.6 349.2M703.7 320.4L705.3 319.7M724.2 315.0L732.3 314.6M731.7 312.9L738.7 313.2M787.7 434.4L786.5 435.8M785.1 437.3L782.9 439.5M782.3 440.0L779.1 442.9M658.9 394.3L658.7 392.6M660.6 368.9L661.0 367.1M663.3 360.3L665.4 355.3L667.8 350.5M704.2 318.3L705.9 317.7M725.3 313.2L728.4 313.0M729.2 312.9L732.3 312.9M731.7 311.1L737.5 311.3M789.0 435.6L782.2 442.5M658.7 403.6L658.3 401.8M658.2 401.0L657.6 397.9M657.5 397.1L656.9 391.4M660.8 362.1L662.3 358.0M663.7 354.8L665.7 350.8M704.8 316.2L706.5 315.6M729.1 311.2L732.3 311.1M787.6 439.7L784.3 442.9M777.5 448.5L774.8 450.4M656.7 402.7L655.7 396.9M655.5 394.7L655.2 391.5M655.9 374.6L656.2 372.8M658.7 362.8L659.3 361.1M659.6 360.3L660.7 357.3M706.7 313.7L708.4 313.1M729.1 309.5L730.9 309.4M778.5 449.9L775.8 451.8M663.3 424.8L662.4 423.1M654.5 400.3L654.2 398.5M653.8 377.1L655.0 370.0L656.8 363.1M658.4 358.4L659.1 356.7M660.6 353.4L661.4 351.7M716.7 309.2L719.9 308.6M727.6 307.8L729.5 307.7M790.0 442.1L788.7 443.5M780.6 450.5L779.1 451.6M661.1 424.4L660.2 422.7M652.8 400.6L652.5 398.7M652.0 378.2L652.2 376.3M652.5 374.1L653.4 369.4M657.3 356.5L659.8 350.9M793.2 441.2L791.9 442.6M791.3 443.3L789.9 444.7M781.7 451.9L780.1 453.0M659.6 425.2L658.7 423.5M650.9 399.5L650.6 397.6M650.2 378.1L650.5 376.1M650.6 375.2L651.7 369.1M655.7 355.8L656.5 354.1M658.0 350.6L659.6 347.6M795.5 441.3L791.2 445.9M658.7 427.3L655.9 421.6M654.9 419.4L654.1 417.6M648.5 377.9L649.7 370.1M654.1 355.2L654.9 353.4M795.8 443.5L794.5 445.0M792.7 446.8L791.3 448.2M657.2 428.1L654.3 422.4M652.7 418.7L652.0 416.9M646.4 383.7L646.5 381.7M646.7 379.2L647.2 374.2M652.0 355.9L653.3 352.7M794.0 448.0L790.3 451.5M656.5 430.3L653.4 424.5M651.1 419.4L649.8 416.0M644.7 382.1L645.0 378.5M649.8 356.8L651.7 352.0M707.7 302.5L709.6 301.9M713.6 301.0L718.6 300.1M795.2 449.2L792.6 451.7M654.2 429.8L652.5 426.6M650.1 421.4L647.7 415.2M646.0 409.7L645.5 407.7M643.1 380.4L643.3 378.4M648.2 356.2L648.9 354.2M704.2 301.7L706.2 301.1M716.3 298.7L718.3 298.4M796.4 450.4L792.6 454.1M652.7 430.7L651.0 427.4M649.8 425.0L648.3 421.7M646.7 417.7L644.6 411.2M644.3 410.1L643.4 406.6M641.4 380.3L641.7 376.7M646.6 355.6L647.3 353.6M702.2 300.6L704.2 299.9M798.8 450.5L796.1 453.2M795.3 453.9L793.7 455.3M786.6 461.1L782.2 464.2M665.6 450.9L662.0 446.9M652.0 432.9L649.4 428.2M645.1 418.3L641.8 407.0M639.6 381.8L639.8 378.1M642.5 362.7L644.6 356.0M698.6 300.1L702.1 298.8M706.2 297.5L709.9 296.5M798.8 452.9L794.9 456.6M659.9 447.2L658.6 445.5M653.1 438.0L648.6 430.4M646.0 425.0L642.8 416.9M641.9 414.2L641.3 412.1M640.6 409.5L640.1 407.4M637.8 383.4L637.9 381.2M640.9 362.2L643.5 353.9M698.0 298.5L709.4 294.9M775.8 471.8L772.4 473.5M697.8 476.1L695.8 475.3M657.5 447.0L655.2 444.0M652.5 440.3L649.6 435.6M644.4 425.7L641.8 419.2L639.6 412.6M638.5 408.2L638.0 406.1M636.0 388.3L636.0 386.1M639.6 360.2L640.8 356.5M698.9 296.3L709.0 293.2M792.4 463.3L789.3 465.6M788.3 466.3L786.5 467.6M770.4 476.3L768.4 477.1M656.2 448.1L653.8 445.0M651.1 441.3L647.2 435.1M640.2 420.1L638.5 414.7M634.3 390.1L634.3 387.9M638.0 359.7L638.6 357.6M698.3 294.6L702.0 293.4M706.5 292.1L708.6 291.5M793.4 464.6L791.7 466.0M789.3 467.7L787.4 469.0M767.9 479.2L765.8 480.0M650.7 443.7L649.4 441.8M643.5 431.8L641.7 428.2M632.6 390.1L632.5 387.9M634.6 366.0L636.9 357.1M696.1 293.6L698.2 292.8M701.0 291.9L704.8 290.7M709.4 289.5L711.6 289.0M794.5 466.0L788.4 470.4M641.1 431.0L636.8 420.8M635.3 416.2L634.2 412.4M630.9 390.2L630.8 387.9M631.7 372.6L633.1 365.1M633.3 363.9L634.3 360.0M700.5 290.2L702.6 289.5M794.1 468.5L789.4 471.9M637.3 426.8L633.0 414.5M629.1 390.2L629.1 387.9M629.8 374.1L630.4 370.1M698.3 289.2L700.4 288.4M793.7 470.9L790.3 473.3M633.7 422.4L631.3 415.0M627.4 390.3L627.3 388.0M628.3 372.1L629.0 368.0M697.7 287.5L701.6 286.2M625.7 390.4L625.6 386.1M626.6 371.8L627.3 367.7M623.9 390.4L623.9 388.0M624.7 373.5L625.6 367.4M622.7 375.2L623.0 372.8M621.0 375.0L621.3 372.6M619.3 374.8L619.6 372.3M619.8 370.9L620.1 368.4M617.6 374.6L617.8 372.1M615.8 374.4L616.1 371.9M691.7 497.8L687.4 496.2M615.7 409.3L614.6 402.6M614.1 374.3L614.7 369.7M617.1 421.8L616.4 419.3M612.2 397.1L611.9 392.4M612.4 374.1L613.0 369.4M686.5 499.6L684.1 498.6M610.7 399.4L610.5 396.8M610.9 371.8L611.3 369.2M683.9 500.4L681.5 499.3M633.4 461.0L630.5 457.1M614.4 424.9L613.6 422.3M683.2 502.0L676.8 499.0M673.3 497.3L669.1 494.9M639.0 470.5L634.4 465.1M633.3 463.8L626.7 454.5M613.5 427.5L612.0 422.8M767.3 508.6L764.7 509.3M682.5 503.5L670.1 497.5M640.7 474.9L638.8 472.9M637.7 471.7L634.4 467.9M629.3 461.3L625.2 455.4M605.5 373.4L605.8 370.7M686.0 506.8L675.3 502.1M673.7 501.4L667.3 497.9M639.5 476.1L637.6 474.1M636.4 472.8L633.1 469.1M626.6 460.5L623.8 456.4M609.5 426.5L608.7 423.8M604.4 404.6L604.0 401.9M603.8 373.2L604.1 370.4M763.8 513.1L761.1 513.7M683.3 507.6L676.6 504.7M675.0 503.9L668.5 500.5M638.2 477.3L633.3 471.9M629.2 467.0L627.5 464.8M625.2 461.5L622.3 457.3M608.6 429.2L607.7 426.5M602.1 373.0L602.4 370.2M806.2 496.0L803.9 497.5M764.3 514.8L761.5 515.4M682.7 509.2L677.9 507.2M674.2 505.5L669.6 503.1M643.6 484.9L638.2 479.8M635.4 476.8L632.0 473.0M629.3 469.9L627.6 467.7M623.7 462.5L620.9 458.3M606.2 427.5L605.4 424.9M600.4 372.8L600.7 370.0M682.0 510.8L670.9 505.7M642.5 486.2L634.7 478.7L627.6 470.6M619.7 459.6L618.2 457.2M616.0 453.7L613.5 449.1M604.6 428.1L603.7 425.4M599.3 405.3L598.6 400.2M598.6 372.6L599.0 369.8M808.1 498.8L805.8 500.4M679.2 511.5L676.5 510.4M637.8 484.3L626.3 471.7M617.0 458.6L613.1 452.0M612.2 450.4L610.9 447.8M604.5 433.1L602.8 428.1M597.6 405.5L596.9 400.3M596.7 374.8L597.0 372.0M809.1 500.3L806.7 501.9M633.2 482.1L629.6 478.2M626.8 475.0L623.5 470.9M603.7 435.9L602.7 433.2M595.8 405.8L595.5 402.9M594.8 377.1L595.0 374.2M770.6 520.2L767.8 521.0M630.3 481.6L626.7 477.6M625.5 476.1L619.2 468.1M602.1 436.5L601.0 433.8M593.2 374.5L593.5 371.6M811.1 503.2L808.6 504.8M639.7 493.0L637.5 491.0M630.8 484.5L620.7 473.0M601.4 439.4L599.4 434.4M598.8 432.5L597.8 429.7M591.2 394.0L591.1 391.1M807.8 507.3L805.3 508.9M785.7 518.6L782.9 519.7M648.3 502.0L643.9 498.7M638.6 494.3L636.3 492.3M631.3 487.5L624.3 480.0L617.9 472.1M616.7 470.5L612.2 463.9M607.3 455.8L604.7 451.0M599.8 440.1L598.7 437.3M596.3 430.7L595.4 427.9M788.7 519.3L785.9 520.4M643.3 500.4L640.9 498.5M637.4 495.6L627.9 486.6M618.3 475.5L610.7 464.9M605.8 456.7L603.2 451.8M598.2 440.7L597.1 437.9M594.7 431.3L593.8 428.4M587.9 376.6L588.4 371.1M791.7 519.8L786.5 522.0M642.2 501.7L628.5 489.6M617.0 476.6L613.6 472.1M604.3 457.5L601.6 452.5M593.9 434.2L592.9 431.3M588.5 414.5L588.0 411.5M585.8 389.2L585.8 386.1M586.2 376.5L586.4 373.4M799.4 518.1L796.6 519.5M792.4 521.4L787.2 523.6M635.1 498.2L627.2 490.8M617.2 479.7L615.3 477.3M602.8 458.3L600.1 453.3M594.9 442.0L592.9 436.8M592.2 434.8L591.2 431.9M584.2 381.5L584.5 375.8M797.8 520.8L787.8 525.2M636.0 501.2L631.7 497.4M619.2 484.8L615.5 480.4M602.5 461.4L601.0 458.7M593.3 442.7L589.6 432.4M582.4 381.4L582.7 375.7M793.8 524.6L788.5 526.8M748.1 536.9L739.7 537.6M639.0 505.8L624.8 493.3M617.9 485.9L615.9 483.5M601.0 462.3L599.5 459.6M591.7 443.3L589.7 437.9M584.6 420.7L583.9 417.6M792.1 527.2L789.1 528.4M648.8 514.9L639.7 508.5M637.9 507.2L633.4 503.5M631.7 502.1L623.6 494.5M616.6 487.0L612.9 482.6M611.5 480.9L609.6 478.3M599.5 463.2L598.0 460.4M590.1 444.0L588.0 438.5M583.5 423.7L582.2 418.0M650.2 517.8L638.6 509.9M636.9 508.6L632.3 504.8M630.6 503.4L624.3 497.6M610.1 481.9L608.2 479.4M602.3 470.9L595.2 458.9M588.5 444.6L587.4 441.7M581.8 424.1L581.1 421.0M740.4 542.7L737.2 542.9M642.4 514.8L629.1 504.4M608.8 483.0L605.2 478.2M600.8 471.9L599.1 469.2M595.2 462.5L593.6 459.7M585.0 440.2L583.0 434.5M582.3 432.4L579.4 421.4M582.2 340.9L583.2 337.8M759.7 542.2L756.5 542.8M641.4 516.2L632.2 509.3M609.1 486.2L602.2 477.0M597.9 470.5L596.2 467.7M593.7 463.4L590.8 458.0M585.3 445.9L583.2 440.3M580.7 432.9L578.3 424.5M573.8 392.2L573.7 388.9M580.5 340.4L581.5 337.2M652.2 525.1L649.4 523.4M642.7 519.2L633.3 512.3M607.8 487.3L599.2 475.7M578.2 430.7L577.4 427.6M572.4 397.8L572.0 388.9M743.5 547.7L740.2 547.9M661.3 531.9L646.1 523.4M644.1 522.2L632.2 513.7M606.5 488.4L599.4 479.0M583.2 449.8L578.6 437.7L575.0 425.3M743.7 549.5L740.3 549.7M655.5 530.9L645.2 524.9M643.2 523.6L633.4 516.8M631.5 515.4L626.7 511.5M610.7 496.0L608.5 493.5M605.1 489.5L597.9 480.0M573.4 426.2L572.6 422.9M570.1 409.4L569.4 403.2M659.8 535.0L645.3 527.1L631.7 517.7L619.1 507.1M603.8 490.6L596.5 481.0M571.1 423.8L570.3 420.5M569.3 415.3L568.0 406.3M567.0 395.3L566.8 389.0M653.8 533.9L645.8 529.4M598.8 487.1L595.1 482.0M568.8 421.4L568.1 418.0M567.6 415.6L565.3 394.9M764.4 551.9L761.0 552.6M741.1 554.8L737.6 555.0M660.9 539.4L655.2 536.6M650.4 534.0L644.9 530.9M628.4 519.5L623.4 515.5M597.4 488.1L595.4 485.3M567.1 421.7L566.4 418.3M565.4 413.0L564.6 406.7M563.6 395.5L563.4 392.0M764.8 553.6L761.3 554.3M660.2 540.9L649.4 535.4L639.0 529.2M627.3 520.8L622.3 516.8M620.4 515.2L617.8 512.9M601.6 496.1L594.0 486.4M561.8 395.6L561.6 389.1M738.3 558.4L734.8 558.5M659.5 542.5L653.6 539.7M641.0 532.5L635.5 529.0M623.9 520.3L621.2 518.1M617.0 514.5L614.4 512.1M594.7 490.2L592.6 487.4M560.3 398.7L560.0 392.2M738.3 560.2L734.8 560.2M656.0 542.8L650.2 539.8M620.4 519.7L617.7 517.5M593.3 491.2L589.4 485.9M561.4 419.8L560.7 416.3M558.6 398.8L558.4 395.2M738.4 561.9L734.8 562.0M660.8 546.9L657.6 545.4M649.8 541.6L646.7 539.9M617.0 519.1L612.1 514.7M591.9 492.3L589.8 489.4M559.7 420.2L559.0 416.6M557.4 405.0L556.8 398.4M760.0 561.5L756.4 562.0M662.9 549.7L659.6 548.3M657.3 547.2L654.0 545.7M646.2 541.6L634.1 534.3L622.6 526.0M558.0 420.5L557.3 416.9M556.0 408.3L555.6 404.7M760.3 563.2L756.7 563.7M653.7 547.4L636.9 538.1M629.5 533.2L621.6 527.3M610.1 517.5L607.4 515.0M601.2 508.7L598.8 506.0M556.3 420.8L555.6 417.2M738.6 567.1L734.9 567.2M664.5 554.1L661.1 552.7M653.0 549.0L636.0 539.6M623.4 530.9L606.2 516.3M600.0 509.9L595.4 504.8M554.6 421.1L553.9 417.5M760.8 566.6L757.2 567.2M738.6 568.8L734.9 568.9M663.9 555.7L660.5 554.3M652.2 550.6L646.1 547.4M622.4 532.3L619.4 530.1M614.9 526.4L605.0 517.5M594.4 506.3L592.0 503.5M552.9 421.5L552.2 417.8M764.2 567.8L760.6 568.4M645.7 549.2L642.5 547.4M618.8 531.7L613.4 527.4M606.5 521.3L603.8 518.8M593.1 507.5L588.7 502.2M764.5 569.5L760.8 570.1M642.1 549.2L638.8 547.3M636.4 545.9L627.8 540.4M607.7 524.8L597.1 514.4L587.3 503.2M546.0 386.7L546.1 382.9M732.3 574.1L725.2 574.0M652.9 556.6L649.5 555.0M641.2 550.7L637.9 548.8M606.6 526.1L597.0 516.8L588.0 506.9M546.6 416.0L545.0 402.5M761.9 573.5L758.1 574.0M732.3 575.8L728.4 575.8M649.2 556.8L645.8 555.1M640.4 552.2L637.1 550.3M605.4 527.3L602.6 524.8M595.9 518.2L586.7 508.0M546.8 426.0L546.0 422.3M544.9 416.3L543.6 406.0M543.3 403.2L543.0 399.4M542.6 390.0L542.8 376.2M548.1 340.8L550.0 333.9M762.2 575.2L758.4 575.7M755.5 576.1L751.7 576.5M648.4 558.3L642.0 555.1M636.6 552.1L633.3 550.1M606.8 530.8L601.4 526.0M599.4 524.1L585.4 509.1M545.1 426.4L544.3 422.6M543.2 416.6L541.3 399.5M541.1 396.7L541.3 372.8M546.5 340.4L547.4 336.7M647.7 559.9L635.3 553.3M608.2 534.3L602.7 529.6M598.2 525.3L595.4 522.6M593.4 520.6L584.1 510.2M539.9 403.5L539.1 382.8M539.4 376.6L539.9 369.3M653.1 564.3L634.5 554.8M589.8 519.3L582.7 511.3M537.4 390.0L537.4 382.8M537.8 373.1L538.1 369.2M652.4 565.9L648.8 564.3M640.0 559.9L633.6 556.3M586.2 518.0L579.2 509.8M575.3 504.8L571.0 498.8M540.0 427.5L538.6 420.3M535.6 386.7L535.8 379.3M711.5 583.4L707.6 583.0M661.2 571.4L651.2 567.3M585.0 519.1L569.6 499.8M538.3 427.8L537.5 424.0M533.9 383.2L534.0 379.2M660.6 573.0L644.2 565.9M583.7 520.3L568.2 500.8M535.9 424.8L535.2 420.9M532.2 383.2L532.3 379.2M829.9 562.6L826.4 564.5M656.7 573.4L640.3 565.9M637.6 564.5L631.0 560.8M594.7 534.0L591.8 531.2M580.1 518.8L573.0 510.3M569.1 505.1L566.8 501.8M534.9 428.5L534.1 424.6M711.0 588.6L703.5 587.7M649.5 572.2L645.9 570.5M643.1 569.2L630.1 562.3M578.8 519.9L569.5 508.5M529.2 400.8L529.0 396.8M652.1 575.2L645.1 572.1M639.2 569.2L635.5 567.3M592.4 536.5L589.4 533.7M570.6 512.8L568.1 509.6M564.2 504.2L561.9 500.8M527.8 404.5L527.5 400.5M527.5 372.3L527.8 368.3M668.4 583.1L664.5 581.8M661.5 580.8L641.1 572.1M638.4 570.7L634.7 568.8M569.2 513.9L564.6 507.7M530.6 433.1L529.0 425.6M526.1 404.7L525.8 400.6M525.8 372.2L526.4 364.5M754.0 593.7L749.9 594.1M664.4 583.6L650.5 578.3L637.1 572.0M570.1 517.8L563.2 508.7M561.4 506.2L559.0 502.8M528.9 433.5L527.3 425.9M524.3 368.5L525.1 360.7M656.9 582.7L649.6 579.8M643.4 577.0L636.4 573.6M594.3 545.2L591.2 542.4M564.3 513.1L559.7 506.8M528.1 437.5L525.6 426.3M522.1 375.6L523.0 364.2M548.0 284.7L550.1 281.1M663.2 586.9L652.4 582.8M642.7 578.6L635.6 575.1M632.7 573.6L629.0 571.6M572.2 525.6L567.1 519.6M526.4 437.9L523.9 426.6M520.2 379.3L520.4 375.1M548.3 280.7L550.5 277.0M666.2 589.7L655.2 585.8M641.9 580.1L638.1 578.3M628.6 573.4L625.0 571.3M622.2 569.7L612.3 563.4M597.7 552.6L591.6 547.5M525.7 441.9L522.2 426.9M543.2 286.3L550.9 273.0M672.9 593.5L665.2 591.2M641.2 581.7L637.4 579.9M631.1 576.7L620.9 570.9M596.6 553.9L590.5 548.8M524.0 442.4L522.1 434.6M541.7 285.5L549.5 272.1M676.0 596.2L668.3 594.0M630.3 578.2L620.0 572.4M617.2 570.7L613.5 568.4M598.5 557.6L595.2 555.0M592.6 552.9L589.4 550.1M523.4 446.5L521.3 438.7M527.9 312.4L530.8 304.8M540.2 284.7L548.0 271.1M835.0 579.5L831.1 581.5M675.6 597.9L671.4 596.7M636.3 583.2L629.0 579.5M619.5 574.1L612.6 569.8M591.5 554.2L588.2 551.4M562.1 524.3L557.1 517.9M522.8 450.6L517.1 427.9M835.8 581.0L831.9 583.0M675.2 599.5L671.0 598.4M618.6 575.6L611.7 571.3M590.4 555.5L587.1 552.7M558.3 522.4L555.7 518.9M516.3 432.5L515.4 428.2M836.6 582.6L832.7 584.6M627.9 582.8L610.7 572.7M589.3 556.9L586.0 554.0M515.4 436.7L513.7 428.6M541.3 272.1L543.6 268.4M837.4 584.1L833.5 586.1M655.6 597.0L651.5 595.5M623.6 582.5L619.8 580.3M616.8 578.6L609.8 574.2M563.1 533.6L560.2 530.2M514.7 440.8L512.8 432.7M838.2 585.6L834.3 587.7M622.8 584.0L608.8 575.6M561.8 534.7L558.9 531.3M519.9 463.9L512.0 436.9M509.1 422.0L508.4 417.6M532.5 280.6L534.7 276.7M839.0 587.1L835.1 589.2M628.9 589.2L614.6 581.3M563.1 538.8L557.6 532.4M519.7 468.2L518.1 464.0M515.7 456.9L512.2 445.0M508.0 426.2L506.7 417.8M532.9 276.3L535.1 272.4M661.4 604.5L653.4 601.7M628.2 590.8L610.3 580.7M561.8 540.0L556.2 533.6M518.1 468.8L516.5 464.6M515.2 312.0L516.7 307.8M531.4 275.5L533.6 271.6M660.9 606.1L652.8 603.3M627.4 592.3L612.8 584.2M563.3 544.1L552.4 531.6M518.0 473.1L516.3 468.9M510.1 450.3L507.8 442.0M526.1 281.8L528.2 277.8M531.9 271.1L536.3 263.8M660.3 607.8L656.0 606.3M626.6 593.8L615.4 587.8M576.5 559.5L570.2 553.6M564.8 548.2L551.0 532.6M523.0 488.6L514.7 469.6M501.1 415.0L500.6 410.5M524.6 281.0L526.7 276.9M530.4 270.3L534.8 262.9M845.9 591.3L841.8 593.5M625.8 595.4L618.1 591.3M575.3 560.8L557.6 543.1M552.6 537.3L547.1 530.5M521.4 489.4L513.9 472.3L507.8 454.7M499.4 415.2L498.8 410.7M523.0 280.2L525.1 276.1M526.9 273.0L529.1 269.0M867.7 579.7L863.8 582.3M846.7 592.8L842.6 595.0M797.3 613.3L788.9 615.6M659.3 611.1L651.0 608.2M625.0 596.9L620.9 594.8M583.6 570.1L565.0 553.4L548.3 534.8M516.4 482.7L514.5 478.4M511.6 471.3L506.1 455.2M502.9 443.8L501.9 439.3M497.6 415.4L497.1 410.8M521.5 279.4L523.6 275.3M525.3 272.1L529.7 264.6M847.5 594.3L843.5 596.5M801.8 613.8L789.3 617.3M624.2 598.5L612.8 592.3M582.5 571.4L569.8 560.4L557.9 548.4M555.4 545.8L552.3 542.3M549.9 539.5L547.0 535.9M510.0 471.9L504.4 455.7M519.9 278.6L522.1 274.5M523.8 271.3L526.1 267.2M869.6 582.5L865.8 585.2M848.4 595.8L844.3 598.1M662.2 615.6L653.8 612.9M578.2 570.1L574.6 567.1M565.7 558.9L559.5 552.7M511.5 480.3L506.8 468.1M504.2 460.7L501.6 452.2M522.3 270.5L528.9 259.2M870.6 583.9L866.7 586.6M852.9 595.3L845.1 599.6M665.7 618.5L653.2 614.5M618.9 599.6L611.1 595.3M577.1 571.4L570.3 565.6M519.0 499.9L511.5 484.6L505.1 468.7M502.6 461.2L497.8 444.5M520.8 269.6L525.3 261.9M868.1 587.8L860.6 592.7M799.2 620.0L794.7 621.2M665.2 620.1L656.7 617.5M618.1 601.1L610.3 596.8M569.5 567.2L563.0 561.1M519.5 504.5L509.8 485.0M506.7 477.7L503.5 469.3M500.9 461.7L498.3 453.2M519.3 268.8L523.8 261.0M807.9 619.1L803.3 620.6M795.6 622.8L791.0 624.0M668.9 622.9L664.3 621.6M617.3 602.7L605.7 596.1M568.4 568.5L564.9 565.3M553.1 553.5L549.9 550.0M512.1 493.9L500.5 465.9M498.0 458.2L496.6 453.6M517.8 267.9L520.1 263.8M796.0 624.5L791.4 625.7M672.6 625.7L663.8 623.3M616.5 604.2L604.8 597.6M577.1 578.1L573.3 575.1M567.2 569.8L551.5 554.3M510.5 494.7L500.3 470.7L492.7 445.8M514.2 270.9L520.8 259.2M796.5 626.1L791.8 627.3M668.0 626.3L655.0 622.4M611.9 603.6L603.9 599.1M572.6 576.7L565.7 570.7M556.6 562.1L547.3 552.3M505.3 487.6L498.7 471.3L493.3 454.6M484.7 365.0L485.1 360.2M506.9 281.7L509.0 277.3M514.8 266.3L517.1 262.1M528.5 244.2L536.5 233.4M833.9 614.7L829.4 616.6M796.9 627.8L792.2 629.0M667.5 627.9L654.5 624.1M611.0 605.2L599.3 598.3M592.4 593.8L584.9 588.5M581.8 586.2L577.9 583.2M555.4 563.3L546.1 553.5M505.5 492.3L497.8 473.9L491.6 455.1M482.6 369.2L483.4 360.0M529.6 239.7L535.2 232.3M543.2 222.6L549.3 215.7M801.6 628.3L796.9 629.6M671.3 630.7L662.4 628.3M606.4 604.5L602.1 602.0M584.2 590.2L580.3 587.3M560.5 570.7L550.8 561.1M502.1 489.0L495.4 472.3M492.7 464.4L491.2 459.8M525.7 242.2L528.5 238.2M541.9 221.4L545.1 217.8M866.5 601.2L862.3 603.8M810.6 627.4L801.6 630.1M662.4 630.1L657.7 628.7M583.2 591.6L575.8 586.0M569.3 580.7L565.5 577.5M559.3 571.9L549.5 562.3M510.5 509.5L506.1 501.2M498.8 485.7L490.9 464.5M524.2 241.2L527.1 237.2M540.6 220.3L546.8 213.4M952.9 258.6L955.3 262.9M867.4 602.7L863.2 605.3M666.2 632.9L657.2 630.4M578.6 590.3L554.6 569.8M511.1 514.2L504.5 502.0M497.2 486.3L495.3 481.8M868.4 604.1L864.1 606.7M577.6 591.7L553.4 571.0M514.3 522.8L509.4 514.6M507.4 511.2L493.7 482.4M540.9 214.7L544.3 211.0M962.3 268.8L970.2 285.6M869.3 605.6L865.0 608.2M602.9 610.5L598.6 608.0M576.5 593.1L560.6 580.1L545.8 565.9M505.9 512.0L499.4 499.6M517.4 242.0L520.3 237.8M530.8 223.8L537.0 216.5M542.7 210.2L546.1 206.6M967.9 276.1L973.5 289.1M664.9 638.0L660.0 636.6M602.0 612.0L597.7 609.4M571.9 591.7L556.1 578.4L541.4 563.8M494.2 492.5L490.5 483.7M516.0 241.0L524.2 229.5M532.4 219.2L535.7 215.4M544.5 205.7L548.1 202.1M967.5 271.3L975.1 288.4M664.4 639.6L655.1 637.0M597.2 611.2L592.9 608.5M581.9 601.2L577.7 598.3M570.8 593.1L566.9 589.9M560.2 584.4L537.1 561.6M505.1 517.7L502.6 513.2M492.7 493.2L490.6 488.6M487.4 480.6L484.1 471.5M514.6 240.0L520.1 232.1M534.0 214.6L537.4 210.8M540.1 207.8L543.6 204.2M964.8 262.3L974.9 283.5M664.0 641.3L654.6 638.6M592.4 610.3L580.5 602.4M577.1 600.0L569.4 594.1M503.6 518.5L501.1 514.1M493.0 498.1L487.3 485.0M485.8 481.2L482.5 472.1M532.7 213.5L536.1 209.7M538.9 206.7L542.4 203.0M964.1 257.4L976.5 282.9M872.9 611.5L868.6 614.2M641.4 636.0L636.6 634.2M628.5 630.9L619.5 627.0M579.9 604.1L568.3 595.5M502.1 519.4L499.6 514.9M495.5 507.2L487.5 489.9M484.2 481.8L479.4 468.2M468.4 354.3L469.8 344.6M531.4 212.4L534.8 208.5M537.6 205.5L544.4 198.4M970.0 264.8L972.3 269.5M976.1 277.5L978.1 282.2M873.9 612.9L865.4 618.0M654.1 642.1L649.2 640.5M645.2 639.2L640.3 637.5M627.8 632.5L614.6 626.5M594.6 615.6L567.2 596.9M521.5 551.2L518.4 547.1M508.0 532.2L500.4 519.8M491.9 503.8L489.7 499.1M482.6 482.4L477.7 468.8M466.2 358.7L468.0 344.3M479.2 299.6L482.6 290.4M533.2 207.7L539.9 200.5M977.7 276.8L979.7 281.5M874.8 614.4L866.3 619.5M845.9 630.1L841.2 632.3M653.6 643.7L644.2 640.7M631.5 635.9L613.8 628.1M597.7 619.5L581.6 609.4L566.2 598.2M523.1 555.9L510.3 538.8L498.9 520.7M490.3 504.6L488.1 499.9M465.0 353.9L466.3 344.1M477.6 299.1L480.9 289.8M494.4 260.3L501.5 247.6M503.7 244.1L506.5 239.7M973.1 263.3L977.5 272.2M979.2 276.0L981.3 280.8M875.7 615.9L854.7 627.7M850.9 629.6L846.2 631.9M824.8 640.7L819.9 642.5M626.4 635.7L608.9 627.5M576.9 608.3L561.4 596.7M518.8 553.3L507.5 537.8L497.4 521.6M486.7 501.0L484.6 496.3M463.2 353.7L464.6 343.8M490.7 263.7L500.1 246.7M978.8 271.0L982.9 280.2M860.1 626.9L855.5 629.3M851.7 631.2L838.2 637.3M829.9 640.7L820.5 644.1M625.8 637.3L616.6 633.2M608.5 629.3L603.9 626.9M572.0 607.0L567.8 603.9M549.9 589.1L534.4 574.0L520.1 557.7M506.2 539.0L493.6 518.3M485.2 501.8L483.0 497.0M476.0 479.8L472.8 470.4M461.5 353.4L462.9 343.5M489.1 262.9L493.8 254.1M495.9 250.4L498.6 245.9M500.8 242.2L503.6 237.8M856.7 630.6L852.0 633.0M830.5 642.3L825.5 644.2M643.0 645.7L615.9 634.8M603.5 628.6L590.6 621.3M548.7 590.3L528.1 569.7M522.1 562.8L515.8 555.0M507.5 543.9L499.3 531.5M497.1 527.8L492.1 519.1M485.7 506.8L483.4 502.1M489.8 257.9L492.3 253.2M866.0 627.6L861.3 630.2M826.6 645.6L821.6 647.4M651.6 650.4L633.1 644.0L615.2 636.4M598.4 627.9L573.5 612.3M547.5 591.6L526.8 570.9M520.8 564.0L504.6 542.7L490.5 520.0M484.1 507.6L481.8 502.8M464.2 319.9L466.8 310.1M866.8 629.1L862.1 631.7M822.6 648.9L817.6 650.6M641.8 649.0L632.3 645.5M597.6 629.4L584.6 621.7M576.9 616.7L572.5 613.7M561.2 605.4L557.1 602.0M542.8 589.6L527.4 574.1L513.2 557.3L500.4 539.5L489.0 520.8M480.5 504.0L478.2 499.1M462.5 319.5L465.2 309.6M818.6 652.0L813.4 653.7M645.9 652.2L636.2 648.9M576.0 618.2L556.0 603.4M531.2 580.7L517.8 565.8M512.0 558.6L497.7 538.6L485.2 517.3M460.8 319.1L463.5 309.1M494.9 238.6L497.8 234.0M645.4 653.8L635.6 650.5M529.9 581.9L516.5 566.9M510.6 559.7L498.8 543.4M486.2 522.9L481.4 513.8M463.1 304.4L464.7 299.3M477.1 267.8L481.6 258.5M490.9 241.8L496.4 233.1M640.1 653.9L635.0 652.1M621.7 646.9L612.2 642.6M590.8 631.5L581.9 626.1M562.0 612.4L553.8 606.1M532.2 586.6L521.6 575.5M512.3 564.6L503.0 552.5M484.7 523.7L482.1 519.0M475.5 267.1L480.1 257.8M486.9 245.2L494.9 232.1M639.6 655.6L607.0 642.1M589.9 633.0L576.8 624.9M541.8 598.1L523.7 580.3M511.0 565.7L501.6 553.5M483.2 524.6L480.6 519.8M455.8 317.8L459.9 303.0M469.9 275.4L480.8 252.6M485.4 244.3L490.8 235.4M672.7 666.5L667.3 665.3M639.0 657.2L610.8 645.8M540.6 599.3L519.1 577.8M512.8 570.6L491.7 542.1M489.3 538.3L481.5 525.0M454.1 317.4L458.3 302.5M468.3 274.8L479.3 251.8M481.5 247.8L489.3 234.5M638.5 658.8L610.0 647.4M554.9 613.5L550.5 610.1M539.4 600.6L514.4 575.2M511.5 571.7L508.0 567.5M499.1 555.9L493.1 547.3M485.2 535.0L482.4 530.2M451.3 321.8L456.6 301.9M468.8 269.5L477.8 251.0M485.0 238.3L487.9 233.5M633.1 658.8L627.9 656.8M619.0 653.2L613.9 651.0M553.8 614.9L549.4 611.4M538.3 601.9L513.1 576.3M510.2 572.9L494.6 552.6L480.9 531.1M447.5 331.4L448.6 325.9M449.6 321.5L452.2 311.2M467.2 268.8L469.5 263.7M681.6 673.5L666.2 670.4M623.0 656.8L613.2 652.6M537.1 603.2L518.9 585.3L502.2 565.8L487.4 545.0M447.9 321.1L449.2 315.6M691.4 676.8L660.8 670.9M622.4 658.4L607.8 652.1M547.7 614.4L543.3 610.9M532.2 601.0L528.1 597.2M514.3 582.8L510.5 578.6M507.5 575.1L504.0 570.7M486.2 546.3L480.5 537.2M448.7 310.7L450.2 305.3M691.2 678.5L660.4 672.5M621.7 660.0L607.1 653.6M580.3 639.4L554.3 621.8M546.6 615.8L542.2 612.2M509.6 580.1L505.9 575.8M484.8 547.3L479.0 538.1M444.5 320.3L448.5 304.9M685.8 679.5L680.2 678.5M675.6 677.7L660.0 674.2M630.8 665.3L606.4 655.2M583.9 643.5L574.6 637.9M570.6 635.4L565.9 632.2M562.0 629.6L545.1 616.8M489.1 556.8L480.3 543.4M881.4 644.7L871.9 650.0M778.9 681.1L773.3 682.0M685.6 681.2L679.9 680.2M660.0 676.0L654.5 674.6M625.3 665.1L605.7 656.8M583.0 645.0L564.9 633.7M544.4 618.5L540.0 614.8M532.5 608.3L510.1 585.9M487.7 557.8L481.6 548.7M441.2 319.5L443.8 308.9M877.7 648.8L868.0 654.0M784.4 682.0L778.7 682.9M685.3 682.9L679.6 682.0M659.6 677.7L654.1 676.3M629.6 668.5L600.2 656.1M582.1 646.5L568.3 638.0M527.5 606.1L523.3 602.1M432.0 376.2L432.6 365.2M439.5 319.1L443.5 303.4M873.9 652.8L864.1 657.8M685.0 684.6L679.3 683.7M664.3 680.6L653.6 677.9M614.3 664.4L599.4 657.6M581.3 648.0L571.8 642.3M538.1 617.8L533.8 614.1M526.3 607.4L522.1 603.4M511.4 592.5L507.5 588.2M430.5 370.9L431.3 359.8M437.8 318.7L439.1 313.1M874.8 654.4L855.3 663.9M790.2 684.4L784.5 685.4M684.8 686.3L679.0 685.4M663.9 682.3L653.2 679.6M613.6 666.0L603.5 661.5M580.4 649.5L566.4 640.9M537.0 619.1L532.6 615.4M510.1 593.6L506.2 589.4M429.1 365.5L430.1 354.4M499.3 191.4L503.0 187.0M875.6 655.9L851.1 667.6M689.8 688.8L678.7 687.1M668.8 685.1L663.1 683.9M658.4 682.7L647.6 679.8M579.5 651.0L561.0 639.4M512.5 598.7L504.9 590.5M426.8 376.0L427.1 370.2M427.4 365.3L428.4 354.2M433.3 323.2L434.5 317.5M488.0 202.8L505.3 181.9M871.6 659.9L861.5 664.8M780.3 689.7L774.5 690.5M668.4 686.8L647.1 681.5M578.7 652.5L560.1 640.8M425.0 381.3L425.1 375.4M426.1 359.9L426.6 354.1M429.5 333.3L432.9 317.1M493.2 193.3L504.0 180.7M872.4 661.4L857.4 668.6M780.6 691.4L774.7 692.2M577.8 654.0L572.7 651.0M568.6 648.4L554.7 639.2M521.6 612.4L513.5 604.6M423.6 370.5L424.0 364.6M428.8 327.7L431.2 316.7M873.2 663.0L867.9 665.6M858.5 670.0L853.1 672.3M786.2 692.2L775.0 693.9M610.9 672.3L600.5 667.7M558.6 644.0L553.7 640.6M520.4 613.7L508.4 601.9M505.1 598.4L501.1 594.0M422.2 365.0L422.7 359.1M427.1 327.4L428.3 321.6M501.1 178.8L505.1 174.4M874.0 664.5L868.7 667.2M786.5 693.9L780.6 694.9M683.4 694.9L677.5 693.9M667.3 691.9L661.5 690.6M625.4 679.9L599.8 669.3M553.1 642.3L531.1 625.4M515.3 611.2L507.2 603.1M420.5 364.9L420.9 358.9M426.5 321.7L427.8 315.9M499.8 177.6L503.8 173.3M874.8 666.1L869.4 668.7M661.6 692.4L634.7 684.9M624.8 681.5L599.1 670.9M538.9 634.0L530.0 626.8M421.0 342.9L421.9 337.0M875.6 667.6L870.2 670.3M682.9 698.3L676.9 697.3M666.6 695.3L660.7 694.0M655.9 692.8L629.0 684.8M624.3 683.2L598.3 672.4M542.2 638.7L533.1 631.6M418.0 353.6L419.4 342.2M476.4 201.0L480.0 196.2M497.2 175.3L501.3 170.9M866.4 674.0L860.9 676.5M840.8 684.6L829.9 688.4M765.4 702.1L759.4 702.7M671.7 698.1L665.8 696.9M634.1 688.4L613.1 680.7L592.6 671.6M545.6 643.4L523.5 625.8M415.7 359.0L416.9 347.5M425.3 304.5L426.9 298.7M471.8 204.5L475.3 199.6M492.2 178.3L496.3 173.8M867.1 675.6L861.6 678.1M836.2 688.1L825.1 691.7M771.1 703.2L759.6 704.4M682.3 701.7L665.4 698.6M612.7 682.4L601.9 677.9M558.4 654.2L539.7 641.2M535.7 638.1L514.1 619.7M414.0 358.8L414.6 352.8M422.2 309.4L423.8 303.5M877.9 672.2L862.3 679.7M836.7 689.7L825.6 693.4M771.4 704.9L759.7 706.1M682.0 703.4L670.5 701.4M654.6 697.8L648.7 696.3M617.2 686.1L596.1 677.1M557.4 655.7L538.9 642.7L521.3 628.4M878.7 673.8L868.1 678.9M837.3 691.4L831.5 693.3M681.8 705.1L670.2 703.1M654.2 699.5L648.3 698.0M627.2 691.5L616.1 687.5M611.4 685.6L595.4 678.7M556.5 657.1L551.4 653.7M538.0 644.2L524.4 633.4M410.6 358.5L411.8 346.8M879.5 675.3L874.0 678.1M837.8 693.0L832.0 695.0M670.4 704.9L664.3 703.6M653.8 701.2L647.8 699.7M632.0 695.0L620.8 691.1M610.7 687.2L605.0 684.9M555.5 658.6L550.4 655.2M537.0 645.6L527.7 638.3M843.8 692.8L837.9 694.8M805.6 704.1L799.6 705.4M653.4 702.9L647.4 701.3M631.5 696.6L620.2 692.8M610.1 688.9L599.1 684.2M554.6 660.0L540.1 650.1M407.1 358.2L407.7 352.1M886.1 675.7L880.6 678.6M811.6 704.4L794.3 708.3M681.0 710.2L669.2 708.2M647.4 703.1L641.4 701.5M636.4 700.0L619.6 694.4M609.4 690.5L603.7 688.1M598.9 686.0L588.1 680.9M558.5 664.6L553.2 661.2M548.9 658.3L539.1 651.5M512.8 630.2L508.2 626.0M892.0 674.5L886.5 677.5M806.4 707.5L794.6 710.0M635.9 701.6L624.5 697.9M592.9 685.2L582.2 679.9M562.5 669.0L542.8 656.2M529.3 646.3L502.9 623.3M892.8 676.0L887.3 679.0M806.8 709.1L795.0 711.7M602.8 691.5L581.4 681.5M561.6 670.5L541.8 657.6M537.5 654.6L527.8 647.3M514.8 636.6L510.1 632.4M502.0 624.9L497.6 620.5M893.7 677.5L888.1 680.6M807.2 710.8L795.3 713.4M586.2 685.8L575.4 680.3M560.7 672.0L555.3 668.7M550.8 665.8L536.1 655.7M513.7 637.9L509.0 633.7M500.8 626.1L496.3 621.7M459.1 195.6L462.7 190.5M585.5 687.4L574.6 681.9M559.8 673.5L539.8 660.5M512.6 639.2L495.1 622.9M457.6 194.6L464.8 184.7M590.0 691.5L568.7 680.6M558.9 675.0L538.8 661.9M515.9 644.3L493.9 624.2M396.0 369.0L396.8 356.8M456.2 193.6L459.9 188.4M1005.5 187.4L1009.2 192.6M679.3 720.5L661.4 717.2M584.0 690.5L578.2 687.6M558.0 676.4L523.6 652.8M514.8 645.6L501.2 633.6M394.2 368.9L394.6 362.6M1003.3 181.6L1010.6 191.6M679.1 722.2L672.7 721.1M557.1 677.9L529.8 659.7L504.3 638.9M556.2 679.4L540.7 669.5M531.4 663.0L521.4 655.5M844.0 711.0L837.9 713.1M550.2 677.8L520.4 656.9M844.6 712.7L838.4 714.7M549.3 679.2L524.1 661.9M839.4 716.2L833.2 718.2M672.0 728.0L653.7 724.3M548.4 680.7L523.1 663.3M840.0 717.9L833.7 719.8M792.8 729.7L786.3 730.7M671.7 729.7L653.3 726.0M547.5 682.2L541.9 678.6M527.3 668.6L512.4 657.2M805.1 729.0L798.6 730.3M787.0 732.4L780.5 733.4M671.4 731.4L653.0 727.7M601.0 711.3L589.3 706.3M541.4 680.3L511.3 658.5M381.7 386.7L381.7 380.0M665.1 732.0L652.6 729.4M611.8 717.3L594.2 710.4M577.9 702.9L571.9 700.0M535.3 678.4L510.3 659.8M443.5 184.7L447.3 179.3M670.8 734.9L652.2 731.1M622.9 722.9L599.2 714.3M577.1 704.5L571.2 701.5M442.1 183.7L449.6 173.3M670.5 736.6L651.8 732.7M628.3 726.5L621.9 724.4M616.5 722.6L604.4 718.2M576.4 706.0L570.4 703.1M377.3 361.8L379.2 342.8M440.6 182.7L452.0 167.3M664.1 737.1L651.4 734.4M439.2 181.7L450.6 166.3M663.7 738.8L657.1 737.5M580.5 711.8L574.4 708.9M437.8 180.7L449.3 165.2M782.4 743.6L775.7 744.4M663.4 740.5L650.6 737.8M626.8 731.4L620.3 729.4M597.1 720.9L579.3 713.2M896.8 709.2L890.7 712.3M782.7 745.3L769.6 746.9M656.9 741.0L650.2 739.5M626.3 733.1L613.8 729.0M590.6 720.1L578.6 714.8M369.6 380.3L370.1 367.2M897.6 710.8L891.4 713.8M838.7 734.6L832.1 736.5M782.9 747.0L776.1 747.9M764.0 749.2L750.8 750.1M662.8 743.9L643.7 739.7M776.8 749.5L770.0 750.3M764.1 750.9L757.3 751.4M732.3 752.3L725.4 752.2M662.4 745.6L643.2 741.4M839.7 737.9L833.1 739.9M777.1 751.3L763.8 752.6M662.1 747.3L630.4 739.7M618.6 736.1L600.0 729.5M364.9 405.9L364.6 399.0M365.8 354.6L367.1 341.3M777.3 753.0L751.1 755.3M661.8 749.0L648.7 746.2M636.6 743.2L630.0 741.4M618.1 737.8L599.4 731.1M587.9 726.5L575.7 721.0M363.6 412.4L362.9 399.0M363.5 360.9L364.7 347.5M365.4 341.6L366.3 334.7M900.7 716.9L894.4 720.0M834.5 743.0L827.8 744.9M764.6 756.1L751.2 757.0M655.1 749.4L635.7 744.8M593.2 730.6L574.9 722.6M361.4 367.2L364.6 334.5M835.0 744.7L828.3 746.6M822.4 748.1L815.6 749.7M758.3 758.3L751.3 758.7M592.6 732.2L574.2 724.2M359.7 367.1L362.8 334.3M409.0 200.2L412.6 194.2M896.4 722.9L890.1 726.0M751.9 760.4L744.8 760.7M629.0 746.5L622.3 744.5M579.9 728.7L573.5 725.7M358.0 367.0L361.1 334.0M404.3 205.0L407.8 198.9M891.2 727.3L884.8 730.2M706.0 761.8L699.0 761.2M647.6 753.1L615.5 744.2M357.8 347.3L358.6 340.3M712.5 763.9L692.2 762.3M653.7 756.2L615.0 745.8M354.5 366.9L354.9 359.8M355.4 353.7L356.1 346.6M824.1 754.8L810.7 757.9M712.4 765.6L692.1 764.0M627.6 751.5L608.1 745.4M590.0 738.6L571.3 730.5M353.7 353.6L354.4 346.5M699.0 766.4L685.3 765.0M659.5 760.9L652.4 759.5M627.1 753.2L607.6 747.0M577.1 735.0L564.6 729.1M745.6 769.4L738.4 769.5M712.2 769.1L691.7 767.5M633.1 756.6L607.0 748.6M582.5 739.2L569.8 733.6M745.7 771.1L738.5 771.3M712.1 770.8L698.2 769.8M692.0 769.2L684.8 768.4M658.8 764.3L629.1 757.3L600.1 748.0M575.7 738.1L569.1 735.2M745.7 772.8L738.5 773.0M718.8 772.8L698.1 771.6M651.9 764.7L644.8 763.1M619.2 756.2L605.9 751.9M581.2 742.4L568.4 736.7M845.8 757.7L832.3 761.6M718.7 774.6L697.9 773.3M562.0 735.6L555.5 732.3M852.8 757.3L845.8 759.5M718.6 776.3L711.3 776.0M705.0 775.6L697.8 775.0M605.2 755.3L598.3 752.9M579.8 745.6L560.8 736.9M718.6 778.0L711.2 777.7M704.9 777.3L690.8 776.1M598.2 754.7L591.3 752.1M579.1 747.2L566.2 741.4M746.0 779.7L738.6 779.9M718.5 779.7L711.2 779.4M697.9 778.5L683.8 777.0M677.5 776.2L663.4 774.0M597.6 756.3L590.7 753.7M578.4 748.8L565.4 743.0M746.0 781.5L738.6 781.6M725.4 781.6L711.1 781.2M677.2 777.9L669.9 776.8M571.4 747.6L558.5 741.6M753.0 782.9L731.7 783.4M725.3 783.4L711.0 782.9M697.6 781.9L690.2 781.2M677.0 779.6L669.6 778.5M577.1 752.0L564.0 746.1M746.2 784.9L731.7 785.2M725.3 785.1L710.9 784.6M676.8 781.3L669.4 780.2M576.4 753.6L563.2 747.7M739.2 786.8L731.7 786.9M718.3 786.7L710.8 786.3M690.4 784.7L682.9 783.9M655.8 779.6L648.5 778.1M575.7 755.2L568.9 752.2M739.3 788.6L731.7 788.6M725.2 788.6L710.7 788.1M655.5 781.3L641.3 778.3M746.3 790.1L731.7 790.4M725.2 790.3L710.6 789.8M690.0 788.2L682.5 787.3M655.2 783.0L640.9 779.9M746.4 791.8L710.5 791.5M654.8 784.7L647.4 783.2M746.5 793.6L738.9 793.8M732.3 793.8L717.5 793.6M647.5 785.0L633.2 781.7M346.9 519.3L344.4 512.1M838.1 781.5L830.7 783.5M753.7 795.0L738.9 795.5M732.3 795.5L703.2 794.5M696.6 794.0L689.0 793.3M647.2 786.7L625.9 781.5M322.9 393.8L322.9 379.0M753.8 796.7L738.9 797.2M732.3 797.3L717.4 797.0M703.6 796.3L688.8 795.0M632.8 785.1L625.4 783.2M796.8 793.9L789.2 795.0M753.8 798.4L739.0 798.9M710.7 798.5L681.5 795.9M646.5 790.0L625.0 784.9M782.7 797.6L775.1 798.5M753.9 800.2L724.5 800.7M710.6 800.2L695.6 799.1M625.0 786.7L617.6 784.6M797.3 797.3L782.5 799.4M746.8 802.2L731.7 802.5M703.2 801.5L695.5 800.9M804.8 797.8L789.9 800.2M775.9 801.9L768.2 802.6M754.1 803.6L739.0 804.1M695.8 802.6L680.8 801.1M797.9 800.7L790.1 801.9M754.2 805.3L731.7 805.9M695.7 804.4L680.6 802.8M805.4 801.2L775.8 805.4M739.6 807.6L724.4 807.6M717.5 807.4L709.7 807.1M688.2 805.4L680.4 804.5M623.2 793.4L615.6 791.3M869.9 786.3L862.5 788.8M805.7 802.9L797.9 804.2M783.8 806.2L776.0 807.1M754.4 808.8L739.1 809.3M717.5 809.1L680.2 806.2M658.8 803.0L651.0 801.6M702.6 810.1L672.6 806.9M665.8 805.9L650.7 803.3M806.3 806.3L798.5 807.6M754.6 812.2L731.7 812.8M680.3 809.7L650.4 805.0M871.6 791.2L864.1 793.7M799.2 809.3L791.3 810.4M747.2 814.3L724.3 814.5M687.5 812.3L650.1 806.7M879.3 790.3L871.7 793.0M784.6 813.1L776.7 814.0M747.3 816.0L701.8 815.2M687.3 814.0L671.9 812.1M872.8 794.4L865.1 797.0M792.3 813.8L784.4 814.8M754.8 817.4L746.8 817.8M739.8 818.0L701.6 817.0M687.1 815.7L671.7 813.8M792.6 815.5L784.6 816.6M754.9 819.2L746.9 819.5M739.8 819.7L731.7 819.8M717.1 819.5L709.1 819.2M686.9 817.4L656.5 813.1M852.2 804.6L844.4 806.7M785.3 818.2L777.2 819.1M762.6 820.4L746.9 821.2M739.8 821.4L693.8 819.8M686.8 819.1L656.2 814.8M762.7 822.1L747.0 823.0M739.9 823.2L716.5 823.0M701.8 822.2L686.1 820.8M867.8 803.4L860.0 805.9M762.8 823.9L747.1 824.7M701.7 823.9L693.5 823.3M897.2 794.5L889.6 797.5M716.9 826.4L701.0 825.6M671.0 822.4L655.3 820.0M897.8 796.1L890.2 799.1M861.5 809.0L846.2 813.4M678.4 825.2L662.6 822.9M891.3 800.6L883.5 803.5M869.4 808.3L854.1 813.0M786.3 826.8L778.1 827.7M770.9 828.4L755.0 829.5M678.2 826.9L662.3 824.6M899.1 799.3L884.1 805.1M869.9 810.0L847.1 816.8M840.0 818.6L824.4 822.2M786.5 828.5L770.6 830.2M763.3 830.8L747.3 831.6M740.0 831.8L724.0 831.8M701.2 830.8L685.2 829.4M899.8 800.9L884.7 806.7M832.8 822.1L809.4 826.9M786.7 830.2L770.7 831.9M763.4 832.5L747.4 833.3M701.1 832.5L685.0 831.1M893.1 805.4L885.3 808.3M833.2 823.8L802.0 829.8M787.0 832.0L763.1 834.3M700.9 834.3L669.3 830.9M893.7 807.0L885.9 810.0M833.6 825.5L794.7 832.7L755.3 836.5M740.1 837.0L708.4 836.4L676.8 833.7M901.7 805.8L886.5 811.6M841.7 825.3L833.5 827.3M803.0 833.2L794.7 834.4M771.7 837.1L755.4 838.2M740.1 838.7L708.1 838.2M692.8 837.1L676.6 835.4M909.7 804.3L887.1 813.2M842.1 827.0L833.9 828.9M795.4 836.1L787.1 837.2M771.8 838.8L763.4 839.4M748.1 840.2L708.0 839.9M700.6 839.4L684.3 838.0M787.8 838.8L771.5 840.5M748.2 842.0L716.1 842.0L684.1 839.7M780.1 841.5L771.6 842.3M748.2 843.7L707.8 843.3M700.3 842.9L683.9 841.5M896.8 815.1L888.9 818.1M748.3 845.4L707.7 845.1M692.2 844.0L683.7 843.2M867.0 827.2L858.8 829.7M851.6 831.7L843.3 833.8M724.2 847.4L707.6 846.8M852.0 833.3L843.7 835.5M716.1 848.9L707.5 848.5M756.6 850.3L748.0 850.6M732.3 850.9L715.5 850.6M756.7 852.0L731.7 852.6M699.7 851.5L691.1 850.8M756.7 853.7L723.6 854.3M699.6 853.2L691.0 852.6M748.6 855.8L739.9 856.0M707.7 855.5L690.8 854.3M707.6 857.2L690.7 856.0M266.4 460.4L265.1 451.8M814.4 852.3L805.8 853.8M707.5 858.9L698.7 858.4M266.1 468.8L262.3 443.8M814.7 854.0L806.0 855.5M707.4 860.6L690.4 859.5M271.3 501.5L267.4 484.9M264.4 469.1L260.6 444.0M271.7 510.0L265.7 485.2M262.7 469.4L258.0 436.0M848.0 850.5L839.4 852.5M807.1 858.8L790.0 861.2M261.0 469.7L256.2 436.2M807.3 860.5L790.3 862.9M257.9 461.7L253.7 428.0M848.8 853.8L840.1 855.9M807.6 862.2L790.5 864.6M257.6 470.3L252.0 428.1M849.2 855.5L840.5 857.6M807.9 863.9L790.7 866.4M766.0 868.7L748.6 869.6M255.9 470.6L251.1 436.7M849.6 857.2L832.6 861.1M808.2 865.7L782.5 869.0M774.5 869.8L757.1 871.0M254.2 470.9L251.4 453.7M250.4 445.8L249.4 436.9M816.8 866.0L791.1 869.8M774.7 871.5L757.2 872.7M261.7 512.7L255.6 487.4M817.1 867.7L782.8 872.5M817.4 869.4L783.0 874.2M792.2 874.9L783.2 875.9M948.7 830.2L932.7 837.7M792.4 876.6L783.4 877.6M949.5 831.8L933.4 839.3M809.8 875.9L783.6 879.4M810.1 877.6L801.0 879.0M240.8 464.5L239.4 455.4M810.3 879.3L801.2 880.7M784.4 882.7L775.3 883.6M802.0 882.3L775.4 885.4M960.4 834.1L952.1 838.2M810.9 882.7L775.6 887.1M811.1 884.4L775.7 888.8M811.4 886.2L793.4 888.7M946.8 846.5L938.3 850.4M811.7 887.9L802.4 889.2M947.5 848.0L939.0 851.9M811.9 889.6L793.8 892.1M948.3 849.6L931.5 857.1M776.8 895.6L758.5 896.9M973.0 839.2L964.6 843.6M940.9 854.9L932.2 858.7M812.5 893.0L794.3 895.6M777.0 897.4L767.5 898.1M941.6 856.5L932.9 860.3M812.8 894.7L794.5 897.3M777.1 899.1L767.7 899.8M974.7 842.2L966.2 846.6M777.3 900.8L758.8 902.1M975.5 843.8L967.0 848.2M976.3 845.3L967.8 849.7M977.1 846.8L968.6 851.3M822.8 900.0L813.3 901.6M977.9 848.4L969.4 852.8M805.3 906.3L795.7 907.6M769.0 911.9L759.3 912.5M824.0 906.8L805.3 909.8M778.3 912.9L759.4 914.2M824.3 908.5L814.7 910.2M778.5 914.6L768.7 915.4M815.5 911.8L805.8 913.2M824.9 912.0L806.0 914.9M778.8 918.1L759.7 919.4M778.9 919.8L759.8 921.1M779.1 921.5L759.9 922.8M779.2 923.2L760.0 924.6M816.8 920.3L807.0 921.8M779.4 924.9L769.5 925.7M779.5 926.7L769.6 927.5M741.7 928.7L703.4 928.0M779.7 928.4L769.7 929.2M732.3 930.5L712.8 930.1M817.6 925.5L807.7 926.9M779.8 930.1L769.8 930.9M741.8 932.1L703.2 931.5M780.0 931.8L769.9 932.6M722.7 933.9L712.6 933.6M808.7 930.3L798.7 931.6M780.1 933.6L770.1 934.4M741.8 935.6L722.2 935.6M818.4 930.6L798.9 933.3M780.3 935.3L770.2 936.1M741.9 937.3L722.1 937.3M703.4 936.7L683.7 935.3M818.7 932.3L799.1 935.0M780.4 937.0L770.3 937.8M741.9 939.0L722.1 939.0M617.3 927.1L598.0 922.7M819.0 934.0L799.3 936.8M780.6 938.7L770.4 939.5M741.9 940.8L731.7 940.9M626.4 930.7L607.0 926.6M819.3 935.7L799.5 938.5M780.7 940.5L770.5 941.3M732.3 942.6L722.0 942.5M626.1 932.4L587.8 923.6M829.1 935.8L819.0 937.5M780.9 942.2L770.7 943.0M732.3 944.3L692.8 942.9M597.3 927.8L587.4 925.2M829.4 937.5L790.3 943.0M712.7 945.7L702.5 945.3M606.3 931.8L586.9 926.9M810.4 942.3L790.4 944.7M606.0 933.5L586.5 928.6M781.3 947.4L771.0 948.2M605.6 935.1L586.0 930.3M791.3 948.1L771.2 949.9M722.4 951.2L682.5 949.1M624.5 940.9L585.6 931.9M830.6 944.3L810.6 947.5M801.3 948.7L771.3 951.6M712.5 952.6L672.5 949.8M840.7 944.2L830.4 946.1M801.5 950.4L771.4 953.3M712.4 954.4L682.2 952.5M209.0 608.7L205.0 599.1M841.0 945.9L801.2 952.2M781.9 954.2L771.5 955.1M702.4 955.7L692.0 955.0M801.9 953.9L781.6 956.0M812.1 954.3L781.7 957.7M822.2 954.5L801.9 957.4M792.4 958.4L781.9 959.5M752.3 961.3L741.8 961.5M832.4 954.5L782.0 961.2M752.4 963.0L741.8 963.3M712.1 963.0L701.6 962.6M209.2 630.5L204.8 620.8M822.8 957.9L802.3 960.8M772.6 963.7L762.0 964.3M752.4 964.7L741.8 965.0M207.6 631.2L203.2 621.5M813.0 961.1L802.5 962.5M752.5 966.5L741.9 966.7M772.9 967.1L762.2 967.8M752.6 968.2L731.7 968.5M773.0 968.8L762.3 969.5M752.6 969.9L721.6 970.2M773.1 970.6L762.4 971.2M732.3 972.0L721.5 971.9M773.2 972.3L742.0 973.6M773.3 974.0L721.5 975.4M701.4 974.7L690.7 974.0M763.2 976.4L752.4 976.8M742.6 977.1L721.4 977.1M701.3 976.4L690.5 975.7M783.9 976.6L773.1 977.5M701.2 978.1L690.4 977.5M784.0 978.4L773.2 979.2M701.1 979.9L690.3 979.2M701.1 981.6L690.2 980.9M1012.8 914.0L1003.1 919.1M926.8 951.5L916.5 954.9M701.0 983.3L690.1 982.6M976.0 933.9L966.0 938.3M937.3 949.6L917.0 956.6M742.7 985.7L721.3 985.7M700.9 985.0L689.9 984.4M937.8 951.2L917.5 958.2M700.8 986.8L689.8 986.1M948.3 949.2L938.0 953.0M928.5 956.4L918.1 959.9M753.3 988.9L742.3 989.2M732.3 989.3L721.2 989.2M816.4 985.1L805.4 986.6M753.4 990.7L721.2 990.9M690.1 989.6L679.1 988.7M753.4 992.4L731.7 992.8M711.1 992.4L678.9 990.4M764.1 993.6L742.4 994.4M711.0 994.1L689.3 993.0M930.8 962.9L920.2 966.5M764.2 995.4L731.7 996.2M188.8 663.5L183.8 653.5M187.2 664.3L182.2 654.3M173.4 635.4L169.0 625.1M185.7 665.0L180.7 655.0M171.8 636.1L167.4 625.8M184.1 665.8L179.1 655.8M170.3 636.8L165.8 626.5M764.5 1002.3L753.3 1002.8M168.7 637.5L164.2 627.2M171.6 648.0L166.9 637.7M1006.4 948.4L986.1 957.8M957.0 971.8L946.3 975.8M776.0 1012.0L753.6 1013.2M957.6 973.4L946.8 977.4M787.1 1012.8L753.7 1014.9M765.3 1016.1L753.8 1016.6M776.4 1017.2L753.8 1018.3M776.5 1018.9L753.9 1020.1M732.3 1029.1L720.5 1029.0M799.8 1029.0L776.8 1031.0M800.5 1035.9L777.3 1037.9M789.8 1043.9L777.8 1044.8M824.3 1041.7L800.9 1044.5M824.6 1043.4L801.1 1046.2M894.8 1038.5L882.9 1041.3"/>
<path stroke="#4a7cb5" d="M737.9 342.7L742.2 343.5M738.9 341.1L740.2 341.3M741.3 341.5L744.3 342.2L747.2 343.1M741.6 339.8L743.8 340.3M744.1 340.4L746.9 341.2M726.8 339.1L728.1 339.0M754.6 334.9L756.0 335.5M755.3 333.4L756.7 334.0M688.4 424.6L686.8 422.7M688.5 427.3L686.1 424.6M714.3 329.4L716.8 328.7M717.3 328.5L720.9 327.8M688.0 429.2L686.2 427.3M711.8 328.4L716.3 327.0M721.1 326.0L722.6 325.7M682.4 425.5L681.4 424.2M711.2 326.8L712.7 326.3M720.8 324.3L722.4 324.0M684.0 430.0L679.4 424.3M710.6 325.1L712.2 324.6M720.5 322.6L725.5 321.9M685.1 433.7L681.6 429.9M678.3 425.8L677.3 424.4M669.3 363.9L671.3 359.1M706.8 324.7L709.5 323.7M723.6 320.3L725.3 320.1M731.7 318.1L733.4 318.1M686.5 437.3L683.5 434.5M667.7 363.3L669.7 358.4M723.4 318.6L726.3 318.3M730.6 318.1L732.3 318.1M735.4 316.4L737.1 316.5M689.1 441.8L687.7 440.7M674.1 425.8L672.4 423.3M706.7 321.1L708.3 320.5M722.0 317.1L726.1 316.6M734.3 314.6L737.3 314.8M704.9 319.9L707.7 318.8M720.5 315.5L724.7 315.0M786.8 435.4L784.7 437.7M779.5 442.6L778.1 443.7M660.4 403.2L658.9 393.8M705.4 317.8L707.1 317.2M722.8 313.5L725.8 313.1M727.9 313.0L729.7 312.9M782.5 442.2L775.0 448.2M658.4 402.3L658.1 400.5M657.7 398.4L657.4 396.6M706.0 315.8L707.7 315.2M723.9 311.6L727.0 311.3M727.8 311.3L729.6 311.2M731.7 309.4L734.9 309.5M784.7 442.5L783.3 443.8M779.6 446.9L777.0 448.8M659.1 361.6L659.7 359.8M708.0 313.3L709.7 312.7M715.7 311.1L724.2 309.8M727.7 309.5L729.6 309.5M730.4 309.4L732.3 309.4M787.8 441.9L785.5 444.1M780.7 448.3L778.1 450.2M664.0 426.0L663.0 424.3M654.8 401.7L654.4 399.8M656.7 363.6L658.6 358.0M729.0 307.7L732.3 307.7M789.1 443.1L787.7 444.4M782.8 448.8L780.2 450.8M661.8 425.6L660.9 423.9M652.1 376.8L652.6 373.6M653.3 369.9L654.4 365.3M656.8 357.8L657.5 356.0M790.3 444.3L788.9 445.7M782.8 451.0L781.3 452.2M691.1 457.7L689.5 456.7M662.4 430.2L659.3 424.8M650.4 376.6L650.7 374.7M651.6 369.6L652.0 367.7M655.2 357.2L655.9 355.4M791.5 445.6L790.1 446.9M786.1 450.5L782.3 453.6M660.2 429.8L658.5 426.9M649.6 370.6L650.0 368.7M653.1 357.9L654.3 354.7M723.0 303.0L724.9 302.8M791.7 447.8L790.2 449.2M788.4 450.9L785.7 453.1M658.0 429.4L657.0 427.7M647.2 374.7L647.7 371.3M650.9 358.8L652.1 355.5M790.6 451.2L789.1 452.5M657.2 431.6L656.2 429.9M650.0 416.5L648.8 413.2M644.9 379.0L645.5 374.0M649.3 358.2L650.0 356.3M709.1 302.1L714.1 300.9M718.1 300.2L720.1 299.9M655.0 431.2L654.0 429.4M647.8 415.6L645.9 409.2M643.2 378.9L643.4 376.8M647.7 357.6L648.4 355.7M705.7 301.3L710.7 299.9M713.2 299.3L716.8 298.6M717.8 298.4L722.9 297.8M661.6 443.8L658.4 439.6M653.5 432.0L652.4 430.2M644.8 411.7L644.2 409.7M641.6 377.2L641.9 375.1M644.2 363.1L646.7 355.1M703.7 300.1L711.8 297.8M714.4 297.3L720.9 296.3L727.5 295.7M796.5 452.8L794.9 454.3M662.3 447.3L657.6 441.5L653.4 435.2M652.8 434.3L651.7 432.5M639.8 378.6L640.0 376.5M642.1 364.3L642.7 362.2M644.4 356.5L645.1 354.5M701.6 299.0L706.7 297.4M709.4 296.7L716.2 295.2M718.9 294.8L727.4 294.0M787.6 462.5L780.3 467.3M695.4 473.3L693.4 472.4M658.9 445.9L652.8 437.5M642.9 417.3L641.8 413.7M637.8 381.7L638.3 376.3M640.5 363.8L641.0 361.8M708.9 295.0L711.0 294.5M720.3 292.8L727.3 292.2M788.6 463.9L785.5 466.1M780.2 469.4L775.4 472.1M696.3 475.5L694.3 474.7M655.5 444.4L652.3 439.9M636.0 386.7L636.1 381.1M638.4 365.0L639.8 359.7M708.5 293.3L710.6 292.8M721.7 290.9L725.6 290.6M772.0 475.6L770.0 476.5M697.2 477.7L693.6 476.3M654.1 445.4L650.8 440.9M634.3 388.4L634.3 386.1M635.0 374.7L635.8 369.2M636.0 368.0L638.1 359.2M708.1 291.6L710.3 291.1M713.1 290.5L718.6 289.6M769.5 478.5L767.4 479.4M632.5 388.4L632.5 386.1M633.0 376.3L634.8 365.5M697.7 293.0L701.5 291.7M711.1 289.2L715.0 288.4M768.5 480.8L766.4 481.6M630.8 388.4L630.8 386.1M631.3 376.1L631.8 372.1M698.8 290.8L701.0 290.1M789.8 471.6L787.9 472.9M767.4 483.0L765.3 483.8M629.1 388.4L629.1 386.1M629.6 375.9L629.9 373.6M764.6 485.9L762.4 486.6M662.2 464.3L660.4 462.8M627.4 388.5L627.4 384.3M628.1 373.9L628.4 371.6M793.2 473.4L791.3 474.7M625.6 386.7L625.7 382.4M626.2 375.5L626.7 371.3M623.9 388.5L623.9 386.1M624.4 375.3L624.7 373.0M622.3 380.9L622.4 378.5M622.5 377.1L622.8 374.7M697.8 492.6L695.4 491.8M620.8 376.9L621.1 374.5M765.4 494.7L763.0 495.4M695.3 493.6L693.0 492.8M619.1 376.8L619.3 374.3M765.9 496.3L763.5 497.1M640.3 455.8L638.8 453.8M617.4 376.6L617.6 374.1M692.3 496.2L689.9 495.3M615.5 394.8L615.4 392.3M615.6 376.5L615.9 373.9M636.3 456.3L634.8 454.2M614.0 397.0L613.6 390.3M613.9 376.3L614.2 373.8M687.2 498.0L684.8 497.0M616.5 419.8L615.8 417.3M613.3 405.5L612.2 396.6M611.9 392.9L611.8 390.3M612.2 376.2L612.5 373.6M684.6 498.8L682.2 497.7M615.4 422.3L614.7 419.8M611.3 403.6L610.7 398.9M610.5 397.3L610.2 392.5M610.7 373.9L611.0 371.3M768.4 504.6L765.9 505.4M681.9 499.5L671.8 494.5M636.0 464.4L633.1 460.6M609.9 406.0L608.6 394.8M609.0 373.7L609.3 371.1M802.3 490.2L800.1 491.7M768.9 506.3L766.3 507.0M677.2 499.2L672.9 497.0M634.7 465.5L633.0 463.4M612.1 423.3L611.4 420.7M608.2 406.3L607.0 397.1M607.0 375.7L607.5 370.9M634.8 468.3L629.0 460.9M610.5 423.8L609.7 421.2M606.4 406.5L605.1 395.0M605.3 375.6L605.6 372.9M765.6 510.8L762.9 511.5M675.7 502.4L673.3 501.1M642.6 479.3L639.1 475.8M633.4 469.4L626.3 460.1M604.7 406.8L604.3 404.1M604.1 402.4L603.2 390.6M603.6 375.4L603.8 372.7M805.2 494.5L802.9 496.1M766.0 512.5L763.4 513.2M677.0 504.9L674.5 503.7M643.1 482.1L637.9 477.0M633.6 472.3L628.9 466.6M627.8 465.2L624.9 461.1M607.9 427.0L607.0 424.3M602.7 404.8L601.4 388.4M601.9 375.3L602.1 372.5M678.4 507.4L673.8 505.2M638.6 480.2L635.0 476.5M632.3 473.4L629.0 469.5M627.9 468.1L623.4 462.1M601.3 407.4L600.1 397.7M766.9 515.8L764.2 516.6M628.0 471.0L619.4 459.2M603.9 425.8L603.1 423.1M599.6 407.6L599.2 404.8M598.7 400.7L598.2 395.5M598.4 375.0L598.7 372.1M767.4 517.5L764.6 518.2M641.3 487.5L637.5 483.9M626.6 472.1L616.7 458.2M613.3 452.5L612.0 449.9M602.9 428.6L602.1 425.9M597.9 407.9L597.5 405.1M596.5 396.1L596.4 393.3M770.2 518.5L767.4 519.3M636.6 485.5L632.9 481.8M623.8 471.3L616.0 460.3L609.3 448.6M602.8 433.7L601.1 428.7M596.2 408.2L595.8 405.3M594.5 381.8L594.8 376.6M810.1 501.7L807.6 503.3M779.9 517.2L777.1 518.2M773.0 519.5L770.1 520.3M640.8 491.7L636.8 488.1M633.7 485.1L630.0 481.2M619.5 468.5L615.1 462.0M610.3 454.1L607.8 449.4M601.2 434.3L599.5 429.2M594.5 408.4L594.1 405.5M592.9 393.9L592.8 388.6M593.1 376.9L593.3 374.0M809.0 504.5L800.1 509.8M775.8 520.4L773.0 521.3M637.8 491.3L630.4 484.2M621.0 473.4L613.6 463.0M608.8 455.0L606.3 450.2M598.0 430.2L597.1 427.4M593.6 413.5L592.7 408.2M591.1 391.6L591.0 388.6M591.5 374.4L591.8 371.4M805.7 508.6L798.8 512.5M788.0 517.7L785.2 518.8M636.7 492.6L630.9 487.1M618.2 472.5L616.4 470.1M612.4 464.3L610.8 461.8M608.5 458.0L607.0 455.4M591.9 413.9L591.4 410.9M589.4 391.6L589.3 388.6M589.6 376.7L590.1 371.2M797.8 515.0L795.1 516.3M791.0 518.3L788.2 519.5M645.3 501.9L642.9 500.1M611.0 465.3L605.5 456.2M590.8 416.7L589.7 411.2M587.6 391.7L587.5 386.1M796.3 517.7L791.2 520.0M613.9 472.5L604.0 457.1M593.0 431.8L592.1 428.9M589.1 417.0L588.5 414.0M585.8 386.7L585.9 381.0M586.0 379.0L586.2 376.0M797.1 519.2L791.9 521.6M643.2 504.7L634.8 497.9M615.6 477.7L612.2 473.1M605.3 462.8L602.5 457.9M591.4 432.3L590.5 429.4M587.4 417.4L586.8 414.4M584.2 391.8L584.2 381.0M650.7 512.0L648.1 510.3M642.1 506.1L635.6 500.9M615.9 480.8L610.8 474.2M605.2 465.9L602.3 461.0M589.8 432.9L586.1 419.8M585.7 417.8L585.1 414.7M582.4 384.0L582.5 380.9M796.2 523.5L793.3 524.8M649.8 513.5L638.6 505.5M616.2 483.9L607.9 473.0M606.6 471.3L600.8 461.9M589.8 438.4L584.4 420.2M580.7 381.4L580.8 378.2M796.9 525.1L791.6 527.4M740.3 539.3L737.1 539.4M640.1 508.8L637.5 506.9M613.2 482.9L611.2 480.5M609.9 478.7L606.4 474.0M605.2 472.2L599.3 462.7M588.2 439.0L585.5 430.9M584.2 426.3L583.4 423.2M795.2 527.7L792.3 529.0M740.4 541.0L737.2 541.1M639.0 510.2L636.5 508.3M608.5 479.8L605.0 475.0M603.8 473.2L602.0 470.5M587.5 442.1L584.7 434.0M583.2 429.3L581.7 423.6M605.5 478.6L600.6 471.5M586.9 445.3L584.8 439.7M583.2 435.0L582.2 431.9M602.5 477.4L597.6 470.1M599.5 476.1L590.6 461.3M588.3 456.8L585.7 451.3M599.6 479.4L597.8 476.6M584.3 452.4L583.0 449.4M571.2 403.6L570.3 389.0M760.6 547.4L757.3 547.9M660.6 533.4L655.0 530.6M581.6 450.5L578.3 442.1M576.6 437.2L573.3 425.7M569.4 403.7L568.5 389.0M760.9 549.1L757.6 549.6M596.8 481.4L594.9 478.6M572.5 429.4L571.0 423.3M568.0 406.8L567.0 394.8M761.2 550.8L757.9 551.3M646.2 529.6L632.7 520.6L620.1 510.3M570.1 427.0L568.7 420.9M761.5 552.5L758.1 553.0M645.3 531.1L639.9 527.7M630.7 521.3L628.0 519.2M623.8 515.8L618.9 511.6M595.7 485.7L593.7 482.9M567.7 424.6L567.0 421.2M761.8 554.2L758.4 554.7M741.2 556.6L737.7 556.7M639.4 529.4L636.5 527.5M618.2 513.2L615.6 510.9M594.3 486.8L592.3 483.9M565.4 422.1L564.7 418.7M765.1 555.3L761.6 556.0M654.1 539.9L640.6 532.2M636.0 529.2L623.5 520.0M600.3 497.2L594.4 489.8M592.9 487.8L590.9 484.9M765.4 557.0L761.9 557.7M650.6 540.0L647.5 538.3M640.1 534.0L629.8 527.1L620.1 519.4M599.0 498.3L593.0 490.8M647.1 540.1L631.3 530.2L616.6 518.8M599.6 501.8L591.6 491.9M590.1 489.8L588.0 486.9M756.9 562.0L753.4 562.4M738.4 563.6L734.8 563.7M623.0 526.3L610.9 515.9M600.4 505.2L586.6 487.9M757.2 563.7L753.6 564.2M738.5 565.3L734.9 565.4M662.3 551.3L658.9 549.9M656.6 548.8L653.3 547.2M637.3 538.4L629.1 532.9M622.0 527.7L609.7 517.2M599.1 506.4L592.7 498.9M591.1 496.8L585.2 488.9M655.8 550.4L652.5 548.8M636.4 539.8L633.3 537.9M628.5 534.6L623.0 530.6M595.7 505.2L591.3 500.0M585.9 492.9L583.8 489.9M660.9 554.5L654.6 551.7M646.5 547.7L633.9 540.3L622.0 532.0M598.7 511.1L594.1 506.0M592.3 503.9L584.2 493.5M761.1 568.3L757.4 568.9M642.9 547.7L630.3 540.0L618.4 531.4M613.8 527.7L606.2 521.0M599.6 514.6L592.8 507.1M589.0 502.5L584.7 497.1M548.5 402.7L548.2 399.0M547.8 389.9L547.8 386.1M725.8 572.3L718.8 571.9M639.2 547.6L636.0 545.7M628.2 540.7L622.5 536.7M615.2 531.1L607.4 524.4M587.6 503.6L583.3 498.1M550.1 425.3L549.4 421.6M546.8 402.9L546.5 399.1M546.1 389.9L546.0 386.1M761.6 571.8L757.9 572.3M725.7 574.0L721.9 573.8M638.4 549.1L621.5 538.1M611.5 530.4L606.2 525.7M588.4 507.2L578.1 493.9M548.4 425.7L547.7 422.0M545.0 403.0L544.7 399.2M544.3 389.9L544.4 379.6M745.5 575.4L741.7 575.6M728.9 575.8L725.1 575.7M712.4 574.8L708.7 574.4M637.5 550.6L631.4 546.9M626.3 543.6L617.8 537.5M610.4 531.7L605.1 527.0M603.0 525.1L595.6 517.8M587.0 508.4L584.6 505.4M580.9 500.6L574.8 492.1M543.0 399.9L542.6 389.5M542.8 376.7L543.0 372.9M758.9 575.7L755.0 576.2M735.6 577.5L731.7 577.6M712.3 576.5L708.5 576.1M633.8 550.4L630.5 548.4M628.1 546.9L616.8 538.9M609.3 533.0L606.4 530.5M601.8 526.4L599.0 523.7M585.7 509.5L583.3 506.5M577.5 499.0L575.3 495.8M541.3 400.0L541.1 396.2M708.7 577.9L704.9 577.4M635.8 553.6L632.4 551.6M627.2 548.3L618.4 542.3M603.1 529.9L597.8 525.0M584.4 510.6L581.9 507.6M543.4 426.7L542.6 423.0M539.1 383.3L539.4 376.1M708.5 579.6L704.7 579.1M634.9 555.1L620.2 545.7M607.1 535.7L601.6 530.9M599.4 528.9L596.6 526.2M583.1 511.7L578.5 506.0M576.7 503.7L572.4 497.8M541.7 427.1L540.9 423.3M537.4 383.3L537.9 372.6M708.3 581.3L704.4 580.8M649.2 564.5L639.6 559.7M634.0 556.6L622.0 549.0M579.6 510.2L575.0 504.4M571.3 499.2L569.1 496.0M535.8 379.8L536.4 369.0M651.7 567.5L635.7 559.5M599.6 533.8L596.7 531.1M569.9 500.2L567.6 497.0M534.0 379.7L534.4 372.3M644.6 566.1L628.9 557.5M623.4 554.1L617.2 549.9M598.5 535.1L595.5 532.4M536.6 428.2L535.8 424.3M532.3 379.7L532.7 372.2M833.0 560.8L829.5 562.8M660.0 574.6L656.3 573.2M640.7 566.1L637.2 564.2M631.4 561.1L619.1 553.3M597.3 536.3L594.4 533.6M535.7 432.0L534.8 428.1M530.5 383.1L530.7 375.6M830.8 564.1L827.2 566.0M714.5 588.9L710.5 588.5M656.1 575.0L649.1 572.0M630.6 562.6L624.1 558.7M601.5 542.3L590.6 532.5M565.6 503.2L563.3 499.9M534.0 432.4L532.4 424.9M843.9 558.2L840.4 560.4M753.7 590.3L749.6 590.6M714.4 590.6L706.8 589.8M668.9 581.4L665.0 580.2M658.8 577.9L651.7 575.0M636.0 567.5L623.2 560.1M617.6 556.5L611.3 552.1M603.2 545.9L592.0 536.2M577.4 521.1L570.3 512.4M532.3 432.8L530.7 425.3M527.5 400.9L527.3 396.9M527.8 368.8L528.1 364.7M753.9 592.0L749.8 592.4M714.2 592.4L706.6 591.6M664.9 582.0L661.1 580.6M635.2 569.1L622.2 561.6M602.1 547.2L588.2 534.9M576.1 522.2L568.9 513.5M562.8 505.2L560.5 501.8M531.5 436.7L530.5 432.7M525.8 401.1L525.5 397.0M848.8 559.1L845.3 561.4M714.1 594.1L706.3 593.3M637.6 572.3L633.9 570.3M601.0 548.6L592.3 541.2M574.8 523.4L569.8 517.4M529.8 437.1L528.8 433.1M750.6 595.8L746.4 596.1M650.1 580.0L642.9 576.8M636.8 573.8L626.7 568.3M608.7 556.6L593.9 544.9M573.5 524.5L564.0 512.7M560.0 507.2L557.6 503.7M529.0 441.0L528.0 437.0M546.3 287.9L548.3 284.3M652.8 583.0L649.0 581.4M646.0 580.1L642.2 578.4M629.5 571.9L613.3 562.0M607.6 558.0L592.8 546.2M567.5 520.0L558.3 507.8M527.4 441.5L526.3 437.4M520.4 375.6L520.6 371.4M520.9 368.2L521.3 364.0M544.8 287.1L548.6 280.2M655.7 586.0L651.7 584.4M625.4 571.6L621.7 569.4M603.6 557.2L597.3 552.3M568.5 523.9L556.8 508.7M518.6 375.5L518.9 371.2M655.0 587.6L651.1 586.0M599.6 556.3L596.3 553.6M564.8 522.1L555.4 509.7M525.0 446.0L523.9 441.9M516.9 375.4L517.2 371.1M853.6 566.3L850.0 568.6M834.2 578.0L830.3 580.0M654.4 589.2L650.4 587.6M640.5 583.3L636.6 581.4M595.6 555.3L592.2 552.6M565.8 526.2L556.2 513.8M515.4 371.5L516.1 363.5M653.8 590.8L649.8 589.2M639.7 584.8L635.8 583.0M629.5 579.7L619.1 573.9M594.5 556.6L591.1 553.9M567.0 530.2L561.8 523.9M557.4 518.3L554.8 514.8M523.9 454.3L522.6 450.1M635.5 584.8L618.2 575.3M563.2 528.4L558.0 522.0M556.0 519.3L553.4 515.8M522.3 454.8L516.2 432.0M631.3 584.6L627.4 582.6M561.9 529.5L554.3 520.0M521.9 459.0L515.3 436.2M630.5 586.1L623.2 582.2M560.5 530.6L552.9 521.0M521.6 463.3L514.6 440.4M655.0 598.6L650.9 597.1M629.7 587.7L622.3 583.7M559.2 531.7L551.5 522.1M522.8 471.2L519.8 463.4M654.4 600.3L650.2 598.7M632.5 591.0L628.5 589.0M557.9 532.8L552.6 526.3M521.2 471.9L519.5 467.7M506.8 418.3L505.7 409.9M531.0 279.8L533.1 275.9M556.6 533.9L551.2 527.3M519.6 472.5L517.9 468.3M505.6 422.5L505.0 418.1M529.5 279.0L531.6 275.1M864.7 575.4L860.9 578.0M844.2 588.3L840.2 590.4M552.7 531.9L549.9 528.4M526.3 491.5L517.8 472.7M503.3 418.8L502.3 410.3M529.9 274.6L532.1 270.7M865.7 576.9L861.9 579.4M845.0 589.8L841.0 592.0M656.5 606.5L652.2 605.0M551.3 533.0L548.5 529.5M524.8 492.3L522.8 488.2M528.4 273.8L530.6 269.8M866.7 578.3L862.9 580.9M663.7 610.6L651.6 606.6M523.2 493.0L521.2 488.9M524.9 276.6L527.1 272.5M663.2 612.3L658.8 610.9M548.6 535.2L545.8 531.6M523.6 497.5L516.2 482.2M514.7 478.9L511.5 470.8M523.4 275.8L525.6 271.7M865.2 583.5L861.3 586.0M662.7 614.0L650.4 609.8M558.2 548.8L555.1 545.4M552.6 542.6L549.6 539.1M524.1 501.9L518.1 490.5M516.5 487.2L509.8 471.4M521.9 274.9L524.1 270.9M525.9 267.7L530.4 260.1M866.2 584.9L862.3 587.5M852.0 593.8L847.9 596.1M666.2 616.8L661.7 615.5M623.4 600.0L619.3 597.8M575.0 567.4L565.4 558.6M559.8 553.0L551.0 543.4M548.6 540.6L545.6 537.0M522.6 502.8L511.3 479.8M520.3 274.1L522.6 270.0M867.2 586.3L852.5 595.5M622.7 601.5L618.5 599.4M570.7 565.9L549.7 544.5M521.0 503.6L518.8 499.5M518.8 273.3L521.0 269.2M669.3 621.2L664.8 620.0M657.1 617.6L652.6 616.1M563.3 561.4L548.4 545.7M510.1 485.5L506.5 477.2M498.4 453.6L496.1 445.0M517.3 272.5L519.5 268.3M803.8 620.4L795.1 622.9M656.6 619.3L652.1 617.8M565.2 565.6L552.8 553.2M550.2 550.4L547.1 546.8M518.0 505.3L511.9 493.5M496.8 454.1L494.4 445.4M515.7 271.7L518.0 267.5M519.9 264.2L522.3 260.1M808.4 620.8L795.6 624.6M656.1 620.9L651.5 619.4M551.9 554.7L548.6 551.2M516.5 506.1L510.3 494.2M800.7 625.0L796.0 626.3M672.2 627.3L667.5 626.1M615.7 605.7L611.4 603.4M579.4 582.2L572.2 576.4M566.1 571.1L556.3 561.8M515.0 507.0L505.1 487.1M857.2 602.8L853.0 605.2M801.1 626.6L796.5 627.9M671.8 629.0L667.1 627.8M614.9 607.2L610.6 604.9M599.7 598.5L595.6 595.9M578.3 583.5L574.5 580.5M571.5 578.1L555.1 563.0M513.5 507.8L511.2 503.5M507.4 496.2L505.3 491.8M527.1 243.2L529.9 239.3M861.9 602.0L857.6 604.5M834.6 616.3L830.1 618.2M805.8 627.0L801.1 628.4M662.9 628.4L654.0 625.7M610.2 606.7L605.9 604.3M602.6 602.3L594.7 597.4M587.8 592.7L583.8 589.9M580.7 587.6L576.8 584.6M573.8 582.2L560.1 570.3M551.1 561.4L544.8 554.6M512.0 508.7L501.9 488.6M495.6 472.7L492.5 463.9M544.8 218.2L548.1 214.5M666.6 631.3L661.9 630.0M658.1 628.8L653.4 627.4M605.5 606.0L601.3 603.5M576.2 586.3L568.9 580.4M565.9 577.8L559.0 571.6M549.9 562.6L543.5 555.8M512.6 513.3L510.2 509.1M506.3 501.7L498.6 485.2M604.6 607.5L600.4 605.0M582.2 593.0L578.2 590.0M554.9 570.1L548.3 563.5M536.7 550.6L533.5 546.8M515.7 521.8L510.9 513.8M504.8 502.5L497.0 485.9M954.4 257.7L956.8 262.1M661.4 633.4L656.6 632.0M603.8 609.0L599.5 606.5M581.2 594.4L577.2 591.4M553.7 571.4L550.2 567.9M538.3 555.1L532.2 547.9M516.7 526.5L514.0 522.3M665.3 636.3L656.1 633.7M606.8 612.7L602.5 610.3M580.2 595.8L576.1 592.8M546.1 566.2L539.6 559.3M512.8 523.7L507.9 515.5M536.6 216.9L543.0 209.8M963.9 268.0L968.1 276.6M870.2 607.1L865.9 609.7M660.5 636.7L655.6 635.3M606.0 614.2L601.6 611.8M598.1 609.7L593.8 607.1M582.9 599.8L578.8 596.9M541.8 564.2L538.3 560.4M535.3 215.8L538.7 212.0M541.4 209.0L544.9 205.4M965.4 267.2L967.7 271.7M871.1 608.5L866.8 611.2M634.0 629.5L625.2 625.7M605.2 615.8L600.7 613.3M593.3 608.8L581.5 601.0M567.3 590.2L559.9 584.0M537.4 562.0L534.0 558.2M490.8 489.0L487.2 480.1M543.3 204.5L546.8 200.9M872.0 610.0L867.7 612.7M642.0 634.4L616.1 623.4M604.3 617.3L599.9 614.8M569.8 594.5L565.8 591.3M559.1 585.7L545.4 573.0L532.7 559.3M518.7 541.7L515.7 537.5M487.5 485.5L485.6 480.7M542.0 203.3L545.6 199.7M869.0 613.9L864.6 616.5M654.6 640.4L649.7 638.9M645.8 637.6L640.9 635.9M620.0 627.2L615.4 625.0M603.5 618.8L599.0 616.3M568.7 595.8L564.7 592.6M554.5 583.9L534.5 563.9M531.7 560.8L528.4 556.9M522.9 550.1L511.7 534.7M506.9 527.3L501.9 519.0M487.7 490.4L484.0 481.3M467.9 358.9L468.5 353.8M534.5 208.9L538.0 205.1M972.1 269.0L974.3 273.7M865.9 617.8L861.4 620.3M845.2 628.5L840.5 630.7M649.6 640.7L644.7 639.0M615.1 626.7L610.4 624.4M602.6 620.3L598.1 617.8M567.6 597.2L563.6 594.0M546.5 578.8L530.1 561.6M524.4 554.8L521.2 550.8M518.7 547.5L507.7 531.8M489.9 499.6L482.4 482.0M971.6 264.0L975.9 272.9M866.7 619.2L853.9 626.2M850.2 628.1L845.5 630.3M614.3 628.3L609.6 626.0M566.6 598.5L562.5 595.3M538.7 573.5L531.9 566.2M526.1 559.5L522.8 555.5M488.3 500.3L486.1 495.6M479.3 478.6L476.1 469.3M464.4 358.5L465.0 353.4M855.1 627.5L850.5 629.9M609.3 627.7L604.7 625.3M596.8 621.0L576.5 608.0M554.6 590.9L547.2 584.2M544.1 581.3L530.8 567.6L518.5 552.9M484.8 496.8L480.9 487.6M477.7 479.2L474.4 469.8M502.3 243.1L505.1 238.7M838.7 637.1L829.4 640.9M604.3 627.1L583.4 614.8M579.8 612.4L571.6 606.7M568.2 604.2L560.3 598.0M553.4 592.2L549.5 588.7M520.4 558.1L517.1 554.0M511.7 546.8L506.0 538.6M483.2 497.5L475.9 479.4M493.6 254.5L496.2 249.9M852.4 632.7L843.3 637.0M835.0 640.5L830.0 642.5M591.0 621.6L574.7 611.0L559.2 599.3M552.3 593.5L548.3 590.0M528.4 570.1L521.8 562.5M516.1 555.4L507.2 543.5M499.6 531.9L496.8 527.4M483.6 502.5L475.9 484.4M492.1 253.7L494.7 249.1M857.5 632.1L852.7 634.5M573.9 612.6L558.2 600.7M527.1 571.2L520.5 563.6M482.0 503.2L479.8 498.4M488.2 257.1L493.2 248.2M862.6 631.4L857.8 633.9M827.2 647.2L822.2 649.0M651.1 652.0L641.4 648.9M572.9 614.0L560.9 605.0M550.0 596.1L546.0 592.6M465.0 310.1L468.0 300.4M486.7 256.3L491.7 247.4M823.2 650.5L818.1 652.2M650.6 653.7L645.4 652.0M556.4 603.7L552.2 600.3M548.9 597.4L544.9 593.9M518.1 566.2L511.7 558.2M463.4 309.6L466.4 299.8M482.9 259.8L495.2 238.1M868.5 632.2L863.8 634.7M819.1 653.7L814.0 655.3M555.3 605.0L551.1 601.6M547.8 598.7L543.7 595.1M516.8 567.3L510.3 559.3M499.1 543.8L486.0 522.5M459.2 318.6L463.2 304.0M481.4 259.0L483.9 254.2M486.0 250.3L491.2 241.4M869.3 633.7L864.6 636.3M819.6 655.3L814.5 657.0M522.0 575.9L512.0 564.2M503.3 552.9L497.4 544.4M489.7 532.3L484.5 523.3M457.5 318.2L463.1 298.8M479.9 258.2L482.4 253.4M484.5 249.5L487.2 244.8M870.2 635.2L865.4 637.8M820.2 657.0L815.0 658.6M524.0 580.7L510.7 565.3M501.9 553.9L483.0 524.2M459.8 303.4L461.4 298.2M483.0 248.6L485.7 243.9M871.0 636.7L866.2 639.3M820.7 658.6L815.5 660.3M552.0 609.1L547.8 605.6M519.4 578.2L512.5 570.2M446.1 401.6L445.9 396.1M514.8 575.6L511.2 571.4M508.3 567.9L498.8 555.5M444.4 401.7L444.1 396.2M826.6 660.3L821.3 662.1M681.9 671.8L671.5 669.8M513.5 576.7L509.9 572.5M442.6 401.8L442.4 396.3M452.0 311.6L455.0 301.4M827.1 661.9L821.8 663.7M686.6 674.4L681.1 673.4M548.7 613.1L544.4 609.5M440.9 401.9L440.7 396.3M449.1 316.1L451.9 305.8M878.8 640.2L869.4 645.4M827.7 663.6L822.4 665.4M536.0 604.5L531.8 600.7M528.5 597.5L513.9 582.4M510.9 579.0L507.2 574.7M439.2 402.0L438.9 396.4M446.2 320.7L448.8 310.3M879.7 641.7L870.3 647.0M828.3 665.2L822.9 667.0M534.8 605.8L519.6 591.1M516.4 587.7L509.2 579.7M880.6 643.2L871.1 648.5M828.8 666.8L823.4 668.7M680.7 678.6L675.1 677.6M575.0 638.1L570.2 635.1M545.5 617.1L541.1 613.5M533.7 607.1L507.9 580.9M442.9 319.9L446.9 304.4M872.3 649.8L867.3 652.4M829.4 668.5L824.0 670.3M680.4 680.3L669.7 678.3M536.4 611.8L532.1 608.0M443.7 309.4L445.2 303.9M830.0 670.1L824.5 671.9M779.2 682.8L773.5 683.7M539.3 616.5L531.0 609.3M864.6 657.6L849.7 664.4M669.5 681.7L663.8 680.5M624.0 668.3L613.8 664.2M855.7 663.7L850.4 666.0M669.1 683.4L663.5 682.2M623.4 669.9L613.1 665.8M617.8 669.6L602.7 663.0M684.2 689.7L678.4 688.8M607.3 667.0L602.0 664.6M425.1 375.9L425.4 370.1M486.6 201.8L493.5 193.0M852.9 670.6L842.4 674.8M785.9 690.5L780.1 691.4M683.9 691.4L678.1 690.5M668.0 688.5L646.6 683.2M621.6 674.8L616.1 672.6M606.6 668.6L601.3 666.2M573.2 651.2L568.1 648.1M423.2 381.3L423.4 375.4M427.8 333.0L428.9 327.2M485.2 200.8L502.7 179.6M868.4 665.4L858.1 670.2M683.7 693.2L677.8 692.2M667.7 690.2L641.0 683.3M620.9 676.4L610.4 672.2M576.9 655.5L558.1 643.7M421.5 381.2L421.7 375.3M421.9 370.4L422.2 364.5M426.1 332.7L427.2 326.9M487.1 195.4L501.4 178.4M869.1 667.0L853.8 673.9M662.0 690.7L625.0 679.7M566.7 651.3L552.7 642.0M420.1 370.3L420.5 364.4M423.5 337.8L424.5 331.9M485.8 194.3L489.5 189.7M496.2 181.7L500.1 177.3M869.9 668.5L854.5 675.5M677.7 695.7L666.5 693.5M635.2 685.1L624.4 681.4M565.8 652.8L538.5 633.7M418.4 370.2L418.8 364.2M426.0 316.0L427.4 310.2M481.1 197.6L484.7 192.9M494.9 180.6L502.5 172.1M870.6 670.1L855.1 677.1M672.0 696.4L666.1 695.2M661.2 694.1L655.4 692.7M629.4 685.0L623.8 683.0M574.4 660.0L541.8 638.4M416.5 375.6L416.7 369.6M419.3 342.7L420.2 336.8M424.3 315.6L427.1 304.4M479.7 196.6L483.4 191.8M490.0 183.6L497.5 175.0M861.3 676.3L855.8 678.7M682.6 700.0L671.2 698.0M666.2 697.0L655.0 694.4M573.5 661.4L545.2 643.1M414.6 381.1L414.7 375.1M416.9 348.0L417.7 342.0M422.6 315.2L425.4 304.0M475.0 200.0L482.0 190.8M862.1 677.9L856.5 680.3M841.4 686.3L835.7 688.3M660.4 697.5L654.5 696.0M602.4 678.1L591.9 673.2M572.6 662.9L557.9 654.0M414.5 353.3L415.2 347.3M420.9 314.8L422.4 308.9M423.6 304.0L425.2 298.2M470.4 203.5L480.6 189.7M862.8 679.5L857.2 681.9M842.0 687.9L836.2 689.9M665.5 700.4L659.6 699.0M596.6 677.4L591.1 674.7M571.8 664.4L557.0 655.4M412.3 358.7L413.5 347.0M868.6 678.7L863.0 681.3M665.2 702.0L659.2 700.7M616.6 687.7L610.9 685.5M595.9 678.9L590.3 676.3M561.2 660.2L556.1 656.9M411.7 347.3L412.5 341.2M416.4 319.6L417.7 313.6M843.2 691.1L837.4 693.2M681.5 706.8L669.9 704.8M659.3 702.5L653.3 701.1M605.5 685.1L589.6 677.8M570.0 667.4L564.7 664.3M560.3 661.6L555.1 658.3M408.8 358.4L410.1 346.6M880.3 676.8L874.7 679.6M681.2 708.5L664.0 705.3M658.9 704.2L652.9 702.8M599.6 684.4L588.8 679.4M569.2 668.9L554.2 659.8M407.7 352.6L408.4 346.4M881.1 678.4L875.5 681.2M669.7 708.3L663.6 707.0M588.5 681.2L582.9 678.4M563.4 667.5L558.1 664.3M553.7 661.5L548.5 658.0M404.2 386.7L404.2 380.4M405.9 352.4L406.6 346.2M886.9 677.3L881.4 680.2M850.3 694.0L844.5 696.2M680.7 711.9L663.2 708.7M646.9 704.8L635.4 701.5M624.9 698.1L619.0 696.0M608.8 692.1L603.0 689.7M851.0 695.6L845.1 697.8M680.4 713.7L674.2 712.6M640.9 704.9L623.9 699.6M510.5 632.8L501.7 624.5M851.6 697.2L845.7 699.4M680.2 715.4L673.9 714.3M640.4 706.6L628.9 703.0M596.8 690.7L585.8 685.6M555.7 669.0L550.4 665.6M509.3 634.1L500.5 625.8M399.2 398.3L399.0 392.0M399.2 375.0L399.4 368.7M894.5 679.1L888.9 682.1M679.9 717.1L673.6 716.0M640.0 708.3L633.9 706.5M590.8 689.9L585.0 687.2M397.5 398.3L398.1 362.8M1000.6 183.7L1004.4 188.8M890.2 683.4L884.5 686.3M679.6 718.8L661.8 715.5M595.4 693.9L589.6 691.3M395.7 398.4L395.6 392.0M395.7 374.9L396.0 368.5M1002.0 182.7L1005.8 187.8M891.0 684.9L885.3 687.9M661.9 717.3L655.7 715.9M594.7 695.5L583.5 690.3M578.7 687.9L567.8 682.1M396.3 345.4L397.1 339.1M397.9 333.7L399.0 327.4M673.2 721.2L655.3 717.6M577.9 689.4L567.0 683.6M392.1 392.6L392.1 386.1M392.9 362.9L393.9 350.6M396.2 333.5L397.3 327.1M1001.1 175.8L1008.6 185.8M843.5 709.4L837.3 711.4M672.9 722.9L660.7 720.6M598.7 701.0L566.1 685.1M521.8 655.8L507.7 644.1M391.1 362.8L392.2 350.4M393.6 339.1L394.6 332.7M672.6 724.6L660.4 722.2M598.1 702.6L565.3 686.6M520.8 657.2L511.1 649.3M389.4 362.7L389.9 356.2M390.5 350.8L391.2 344.3M1007.5 178.5L1011.4 183.7M850.3 710.6L844.1 712.8M672.3 726.3L654.1 722.6M597.4 704.2L564.5 688.1M524.5 662.2L514.6 654.5M412.1 515.9L409.7 509.9M387.7 362.6L389.5 344.1M1005.2 172.7L1009.2 177.9M602.3 708.1L563.6 689.7M523.5 663.6L513.5 655.8M410.5 516.6L408.1 510.5M386.0 362.5L387.8 343.9M601.6 709.7L562.8 691.2M542.4 678.9L526.9 668.3M411.2 522.8L408.7 516.8M384.2 362.3L386.0 343.7M840.5 719.5L834.2 721.5M799.1 730.2L786.6 732.5M629.8 721.5L623.5 719.5M612.4 715.7L600.5 711.1M589.7 706.5L567.3 695.6M382.5 362.2L384.3 343.5M444.9 185.7L448.7 180.3M811.4 729.4L798.9 732.0M787.3 734.1L780.7 735.1M671.1 733.1L664.6 731.9M629.3 723.1L611.4 717.1M594.7 710.6L577.4 702.7M380.8 362.1L382.6 343.2M892.8 701.5L886.9 704.5M628.8 724.8L622.4 722.8M599.7 714.5L576.7 704.3M379.1 362.0L380.9 343.0M893.6 703.1L887.6 706.0M622.4 724.6L616.0 722.5M604.8 718.4L592.9 713.6M582.0 708.7L575.9 705.8M894.4 704.6L888.4 707.6M627.8 728.1L621.4 726.1M615.9 724.3L592.2 715.1M581.2 710.3L575.2 707.4M403.3 526.2L400.7 520.0M895.2 706.1L889.1 709.2M651.5 736.2L644.9 734.7M627.3 729.8L620.8 727.7M615.4 725.9L580.1 711.6M896.0 707.7L889.9 710.7M651.1 737.9L644.5 736.3M632.8 733.2L626.3 731.3M620.8 729.5L596.6 720.7M891.1 712.0L884.9 715.0M663.1 742.2L656.4 740.9M650.7 739.6L644.1 738.0M632.3 734.9L625.8 732.9M614.2 729.2L590.2 719.9M638.0 738.2L607.4 728.6L577.9 716.3M898.3 712.3L892.2 715.4M839.2 736.2L832.6 738.2M783.2 748.7L776.3 749.6M757.8 751.4L750.9 751.8M738.6 752.2L731.7 752.3M643.7 741.5L609.9 731.3L577.1 717.9M899.1 713.8L892.9 716.9M783.4 750.4L776.6 751.3M764.3 752.6L757.4 753.1M630.9 739.9L618.2 736.0M600.5 729.7L576.4 719.5M365.3 412.3L364.9 405.4M899.9 715.4L893.7 718.5M840.2 739.5L833.6 741.5M630.4 741.5L617.6 737.6M599.9 731.3L587.5 726.3M364.6 348.0L365.4 341.1M894.9 719.8L888.6 722.8M815.7 747.9L808.9 749.4M771.0 755.4L764.1 756.1M636.2 744.9L623.3 741.2M617.6 739.4L598.8 732.7M895.7 721.4L889.3 724.4M816.1 749.6L809.3 751.1M764.7 757.8L757.8 758.3M654.7 751.1L616.6 740.9M610.9 739.0L604.3 736.6M405.8 205.9L409.3 199.8M890.5 725.7L884.1 728.7M829.2 748.1L809.6 752.8M758.4 760.0L751.4 760.4M648.0 751.4L628.5 746.4M622.7 744.7L616.0 742.5M885.3 730.0L878.8 732.9M751.9 762.1L744.9 762.5M660.4 755.8L647.1 753.0M356.2 367.0L357.8 346.8M892.0 728.9L885.5 731.8M823.7 753.1L810.3 756.2M752.0 763.9L744.9 764.2M660.1 757.5L653.2 756.1M615.4 746.0L608.7 743.7M354.9 360.3L355.5 353.2M886.7 733.2L880.1 736.0M830.5 753.1L823.6 754.9M752.1 765.6L745.0 765.9M659.8 759.2L627.1 751.4M824.5 756.5L811.1 759.6M752.2 767.3L745.1 767.6M652.9 759.6L626.6 753.0M589.3 740.2L576.6 734.8M659.1 762.6L632.6 756.5M607.5 748.8L600.7 746.4M581.8 740.8L575.2 737.9M845.3 756.1L831.8 759.9M606.4 752.1L599.5 749.7M852.3 755.7L845.3 757.9M819.6 764.8L812.5 766.3M752.6 774.2L745.3 774.6M612.2 755.9L598.9 751.3M580.5 744.0L561.5 735.4M878.4 748.0L871.6 750.7M859.2 755.2L852.3 757.5M752.7 776.0L745.4 776.3M711.8 776.0L704.5 775.5M698.2 775.1L691.0 774.4M598.8 753.1L592.0 750.5M691.3 776.1L684.0 775.3M704.8 779.0L697.4 778.5M752.9 781.2L745.5 781.5M704.7 780.8L697.3 780.2M670.4 776.9L663.1 775.7M577.8 750.4L571.0 747.4M854.9 763.9L834.5 770.0M670.1 778.6L656.0 776.1M855.5 765.6L828.2 773.4M753.1 784.6L745.7 784.9M697.5 783.7L690.1 783.0M856.0 767.2L842.2 771.4M781.1 783.9L773.6 784.7M760.2 785.9L738.7 786.8M669.6 782.0L662.2 780.8M582.2 757.8L575.3 755.0M856.5 768.9L849.4 771.1M774.3 786.4L738.8 788.6M690.2 786.4L682.7 785.6M662.4 782.6L655.0 781.2M329.8 379.6L330.3 365.1M830.0 778.3L822.6 780.1M774.5 788.1L745.8 790.1M328.1 379.6L328.6 365.0M850.8 774.3L823.0 781.7M774.7 789.8L745.9 791.8M326.3 386.7L326.9 364.9M851.4 775.9L823.4 783.4M774.8 791.6L767.3 792.3M760.7 792.8L746.0 793.6M718.0 793.6L710.4 793.2M696.7 792.3L689.2 791.6M324.6 386.7L325.2 364.8M851.9 777.6L837.7 781.7M775.0 793.3L753.2 795.0M703.7 794.6L696.1 794.0M323.1 372.4L323.4 364.7M845.5 781.3L831.2 785.1M782.3 794.2L753.3 796.7M646.8 788.3L632.4 785.0M321.2 393.8L321.2 379.0M789.7 795.0L767.7 797.5M761.0 798.0L753.3 798.5M319.9 365.1L320.4 357.4M797.1 795.6L782.2 797.7M768.4 799.1L753.4 800.2M696.1 799.2L681.3 797.6M646.1 791.7L624.5 786.6M317.9 401.1L317.7 386.1M768.5 800.9L753.5 801.9M696.0 800.9L681.0 799.3M645.7 793.4L617.1 786.3M316.0 393.9L316.0 378.9M316.2 372.1L316.5 364.4M638.3 793.5L616.6 787.9M314.3 393.9L314.8 364.3M805.1 799.5L797.4 800.8M630.8 793.5L616.1 789.6M312.5 379.3L312.7 371.5M754.3 807.1L739.1 807.6M798.4 804.1L783.3 806.3M806.0 804.6L776.1 808.8M799.0 807.6L783.7 809.7M806.6 808.0L798.7 809.3M791.8 810.4L783.9 811.4M754.7 814.0L746.7 814.3M872.2 792.8L864.6 795.3M806.9 809.7L784.1 813.1M754.7 815.7L746.8 816.1M672.4 812.2L657.1 809.7M799.8 812.7L791.8 813.9M762.4 817.0L754.3 817.5M672.2 813.9L656.8 811.4M807.5 813.1L792.1 815.6M762.5 818.7L754.4 819.2M732.3 819.8L716.6 819.5M800.3 816.1L784.8 818.3M867.2 801.8L859.5 804.2M852.6 806.2L837.4 810.3M823.1 813.6L815.1 815.2M800.6 817.8L777.4 820.9M686.6 820.9L655.9 816.5M853.1 807.9L837.9 812.0M823.4 815.3L815.4 816.9M800.9 819.5L777.6 822.6M694.0 823.3L655.6 818.2M861.0 807.4L838.3 813.7M816.3 818.5L777.8 824.3M770.6 825.0L747.1 826.4M701.5 825.6L670.5 822.4M846.6 813.3L838.7 815.3M824.1 818.7L778.0 826.0M770.8 826.7L754.9 827.8M724.5 828.4L677.9 825.1M854.6 812.9L839.1 817.0M824.5 820.4L785.8 826.9M778.6 827.7L770.4 828.5M755.5 829.5L747.2 829.9M740.0 830.1L708.8 829.5L677.7 826.8M847.5 816.6L839.5 818.7M824.9 822.1L786.0 828.6M724.5 831.8L700.7 830.8M855.5 816.2L847.5 818.4M840.4 820.3L832.4 822.2M809.9 826.8L786.3 830.3M740.1 833.5L700.6 832.5M900.4 802.6L892.7 805.6M863.5 815.6L855.5 818.0M802.5 829.8L786.5 832.0M740.1 835.3L700.4 834.2M908.3 801.1L893.3 807.2M841.3 823.6L833.1 825.6M909.0 802.7L901.2 805.9M887.0 811.4L879.0 814.2M795.2 834.4L771.2 837.1M787.6 837.1L771.3 838.8M910.3 805.9L887.7 814.8M911.0 807.5L888.3 816.5M708.3 843.4L699.8 842.9M911.7 809.1L896.4 815.3M889.3 817.9L881.3 820.8M874.2 823.2L866.1 825.7M851.1 830.0L842.9 832.1M708.2 845.1L691.7 843.9M708.1 846.8L683.6 844.9M708.0 848.6L691.4 847.4M707.9 850.3L691.3 849.1M732.3 852.6L723.6 852.6M707.8 852.0L699.2 851.5M707.8 853.7L699.1 853.2M830.6 849.2L813.9 852.4M699.2 858.4L690.5 857.7M839.1 849.1L830.5 851.0M267.5 485.4L264.3 468.6M815.0 855.7L806.3 857.2M265.9 485.7L262.6 468.9M270.0 510.4L260.9 469.2M848.4 852.2L839.7 854.2M260.8 478.2L257.8 461.3M259.1 478.6L257.5 469.8M921.2 831.4L905.1 837.9M259.1 487.2L255.8 470.1M921.8 833.0L905.7 839.5M833.1 861.0L824.3 862.8M261.2 504.0L254.1 470.4M251.5 454.2L250.3 445.3M255.7 487.9L248.6 445.5M257.9 504.9L252.2 479.4M256.2 505.3L250.5 479.7M948.0 828.7L932.0 836.1M252.5 497.4L247.2 471.6M248.9 489.3L245.5 471.9M242.5 464.2L241.1 455.1M950.3 833.3L934.1 840.9M801.5 878.9L783.7 881.1M242.2 473.0L240.7 464.0M951.0 834.9L942.7 838.8M801.7 880.6L783.9 882.8M243.9 490.4L242.0 481.4M961.2 835.6L952.8 839.8M945.4 843.3L936.9 847.2M946.1 844.9L937.6 848.8M793.9 888.6L775.9 890.5M802.9 889.2L784.8 891.4M794.3 892.1L785.0 893.1M794.5 893.8L785.2 894.8M949.0 851.2L940.4 855.1M768.0 898.1L749.7 899.0M973.8 840.7L965.4 845.1M949.7 852.7L941.1 856.7M768.2 899.8L749.7 900.8M950.5 854.3L933.5 861.9M759.3 902.1L749.8 902.5M777.4 902.5L749.8 904.2M777.6 904.3L749.9 906.0M795.8 904.1L786.3 905.2M777.7 906.0L759.0 907.3M969.8 852.6L961.2 856.9M796.0 905.8L786.5 906.9M777.9 907.7L759.1 909.0M978.7 849.9L970.1 854.3M778.0 909.4L759.2 910.7M979.5 851.4L970.9 855.9M778.2 911.2L768.5 911.9M769.2 915.3L759.5 915.9M778.6 916.3L759.6 917.7M825.2 913.7L806.3 916.7M825.5 915.4L806.5 918.4M816.5 918.6L806.8 920.1M694.7 924.0L684.8 923.2M732.3 927.0L722.3 926.9M713.4 926.7L703.5 926.3M694.5 925.7L684.6 924.9M807.7 923.4L797.8 924.7M703.9 928.0L684.5 926.7M808.0 925.2L798.1 926.5M703.8 929.8L684.3 928.4M808.2 926.9L798.3 928.2M694.2 930.9L684.2 930.1M817.9 927.2L798.5 929.9M741.8 933.9L722.2 933.9M694.1 932.6L684.0 931.8M818.2 928.9L808.2 930.4M703.5 934.9L683.9 933.6M607.5 926.7L588.3 921.9M489.2 884.9L480.1 880.3M488.4 886.4L479.3 881.9M800.2 940.1L790.1 941.3M625.8 934.1L606.3 930.0M781.0 943.9L770.8 944.7M829.7 939.2L809.9 942.4M781.2 945.6L770.9 946.4M830.0 940.9L780.8 947.4M624.8 939.2L605.1 935.0M830.3 942.6L790.8 948.2M214.5 617.1L210.4 607.5M212.9 617.8L208.8 608.2M801.7 952.2L781.4 954.3M211.3 618.5L207.2 608.9M841.3 947.6L801.4 953.9M841.7 949.3L811.6 954.3M842.0 951.0L821.7 954.6M762.4 960.8L751.8 961.3M842.3 952.7L831.9 954.6M842.7 954.4L822.3 958.0M199.4 612.7L195.4 602.9M823.0 959.6L812.5 961.2M772.7 965.4L762.1 966.0M201.9 622.7L193.8 603.6M931.3 933.4L911.7 940.1M922.3 938.4L912.2 941.8M762.9 971.2L752.2 971.7M999.7 911.1L990.0 916.0M1009.6 907.9L1000.0 912.9M773.5 975.7L762.7 976.4M752.9 976.8L742.1 977.1M1010.4 909.5L1000.8 914.5M773.6 977.5L721.4 978.8M1011.2 911.0L1001.6 916.0M773.7 979.2L721.4 980.6M1012.0 912.5L1002.3 917.5M974.6 930.8L964.6 935.1M784.2 980.1L762.9 981.6M753.0 982.0L721.3 982.3M975.3 932.3L965.3 936.7M784.3 981.8L773.4 982.7M753.1 983.7L721.3 984.0M690.6 982.7L679.7 981.8M1013.6 915.6L1003.9 920.6M690.4 984.4L679.5 983.5M690.3 986.1L679.4 985.3M938.4 952.9L928.1 956.5M700.7 988.5L679.2 987.0M978.2 938.7L968.0 943.1M948.9 950.8L938.6 954.7M700.6 990.2L689.6 989.5M978.9 940.2L968.7 944.7M949.5 952.4L929.2 959.8M184.0 654.0L179.2 643.9M951.4 957.2L940.9 961.2M962.6 956.5L952.2 960.7M177.8 657.0L168.5 637.0M995.8 951.5L985.4 956.2M787.2 1014.6L764.8 1016.1M800.7 1037.6L777.4 1039.6M800.9 1039.3L777.5 1041.4M801.1 1041.0L777.7 1043.1M801.2 1042.8L789.3 1043.9M801.4 1044.5L789.4 1045.6M906.2 1035.5L894.4 1038.6"/>
<path stroke="#5a9dc8" d="M739.7 341.2L741.8 341.6M716.3 328.8L717.8 328.4M715.9 327.1L721.6 325.9M712.2 326.4L717.0 325.1M719.7 324.5L721.3 324.2M711.7 324.8L713.3 324.3M718.3 323.0L721.0 322.5M681.9 430.3L678.0 425.3M709.0 323.9L710.6 323.3M719.0 321.1L724.1 320.3M683.9 434.9L682.7 433.7M676.9 426.8L675.9 425.4M707.3 322.7L708.9 322.1M718.7 319.4L723.9 318.5M674.7 426.8L673.8 425.4M707.8 320.6L709.4 320.1M719.6 317.4L722.5 317.0M690.0 444.6L688.6 443.6M671.9 425.7L671.0 424.2M707.2 319.0L708.9 318.4M719.3 315.7L721.0 315.5M690.0 446.8L688.6 445.7M706.6 317.4L708.3 316.8M720.3 313.8L723.3 313.4M711.0 314.1L712.8 313.6M714.8 313.1L719.2 312.2M721.3 311.9L724.4 311.5M783.7 443.4L779.2 447.2M709.3 312.9L713.6 311.6M714.4 311.4L716.2 311.0M731.7 307.7L733.6 307.7M785.9 443.8L780.3 448.6M664.7 427.2L663.7 425.5M788.1 444.1L782.4 449.1M690.8 455.5L689.2 454.5M663.9 429.2L661.5 425.2M654.2 365.8L657.0 357.3M789.3 445.3L787.9 446.7M787.2 447.3L782.4 451.3M651.9 368.2L652.3 366.3M654.2 359.9L655.4 356.7M790.5 446.6L789.0 447.9M788.3 448.6L785.7 450.8M687.7 457.7L684.9 455.8M661.0 431.1L660.0 429.4M649.9 369.2L650.3 367.3M652.6 359.3L653.2 357.5M790.6 448.9L788.0 451.2M685.6 458.4L683.9 457.3M658.7 430.7L657.7 429.0M647.6 371.8L648.0 369.8M650.5 360.2L651.1 358.3M645.5 374.5L645.8 372.5M648.8 359.6L649.5 357.7M722.6 299.5L726.2 299.2M662.9 442.7L659.8 438.6M655.8 432.5L654.7 430.7M643.4 377.3L643.8 373.8M647.2 359.1L647.8 357.2M710.2 300.0L713.7 299.2M722.4 297.8L727.6 297.4M666.8 449.7L661.3 443.4M658.7 440.0L656.6 437.0M654.3 433.4L653.2 431.6M641.8 375.6L642.1 373.5M711.3 298.0L714.9 297.2M693.1 470.4L691.2 469.5M685.9 466.7L682.7 464.8M653.6 435.7L652.5 433.9M639.9 377.0L640.2 374.9M715.7 295.3L719.4 294.7M693.9 472.6L691.9 471.7M638.2 376.8L638.4 374.7M640.1 365.4L640.6 363.3M710.5 294.6L720.8 292.8M785.9 465.9L779.8 469.7M694.7 474.9L691.2 473.3M636.1 381.6L636.7 374.5M638.0 366.7L638.5 364.6M710.2 292.9L722.2 290.9M786.9 467.3L785.0 468.5M776.6 473.4L771.5 475.8M700.4 478.9L696.7 477.6M694.0 476.5L692.0 475.6M670.7 462.5L669.0 461.1M634.3 386.7L634.3 384.4M634.8 376.4L635.0 374.2M635.7 369.7L636.1 367.5M709.8 291.2L713.6 290.4M718.1 289.6L722.0 289.2M771.1 477.9L769.0 478.7M698.2 480.0L692.9 477.9M668.3 462.8L666.6 461.3M632.5 386.7L632.5 384.4M632.9 378.0L633.1 375.8M788.8 470.2L786.9 471.4M770.1 480.1L768.0 481.0M704.3 483.8L702.2 483.1M665.8 462.9L664.1 461.4M630.8 386.7L630.8 384.4M631.2 377.8L631.4 375.6M769.1 482.4L767.0 483.2M698.7 483.8L694.9 482.4M664.7 464.2L662.9 462.7M629.1 386.7L629.1 384.4M629.4 377.7L629.7 375.4M790.7 473.0L788.8 474.3M766.3 485.3L764.1 486.0M721.3 490.5L719.0 490.3M703.4 487.1L701.2 486.4M663.5 465.6L661.8 464.0M627.3 384.8L627.5 380.7M627.7 377.5L628.1 373.4M763.3 488.1L761.1 488.7M702.9 488.7L700.7 488.1M625.7 382.9L625.8 380.6M626.0 377.4L626.2 375.0M792.7 475.9L790.7 477.2M623.9 386.7L624.5 374.8M698.3 491.0L696.0 490.2M622.2 388.6L622.3 380.4M622.4 379.0L622.6 376.6M764.9 493.0L762.5 493.7M695.9 492.0L693.6 491.2M641.9 452.2L639.4 448.6M620.5 390.5L620.4 388.1M620.4 384.7L620.9 376.4M693.5 493.0L689.3 491.4M653.5 468.1L651.7 466.3M641.7 454.8L640.2 452.8M618.9 392.6L618.7 390.1M618.9 378.7L619.1 376.3M692.9 494.6L686.8 492.2M652.3 469.3L650.5 467.6M617.1 392.7L617.0 390.2M617.2 378.6L617.4 376.1M766.4 498.0L763.9 498.7M690.4 495.5L686.1 493.8M651.1 470.6L649.3 468.8M637.7 455.2L636.2 453.2M635.3 451.9L633.9 449.8M615.4 392.8L615.3 390.2M615.5 378.5L615.7 376.0M766.9 499.7L764.4 500.4M687.8 496.4L685.5 495.4M671.2 488.1L667.2 485.7M654.4 476.0L651.0 472.9M767.4 501.3L764.9 502.0M685.3 497.2L682.9 496.1M672.1 490.7L668.1 488.2M654.9 478.7L651.4 475.6M615.9 417.8L614.8 413.2M614.4 411.6L613.2 405.0M612.0 378.3L612.2 375.7M767.9 503.0L765.4 503.7M682.6 497.9L672.7 493.0M611.6 405.7L611.2 403.1M610.2 393.0L610.1 390.4M610.5 376.0L610.7 373.4M672.3 494.7L669.9 493.4M613.8 422.8L613.0 420.3M608.6 395.3L608.4 390.5M608.8 375.9L609.0 373.2M608.5 408.4L608.1 405.8M607.1 397.6L606.6 390.5M803.3 491.7L801.0 493.2M769.4 507.9L766.8 508.7M609.8 421.7L609.1 419.1M606.8 408.7L606.4 406.0M605.2 395.5L604.9 390.6M804.3 493.1L802.0 494.6M767.8 510.2L765.1 511.0M608.8 424.3L607.4 419.5M605.1 409.0L604.7 406.3M603.2 391.1L603.1 388.4M607.2 424.8L606.4 422.2M603.0 407.1L602.6 404.3M601.4 388.9L601.4 386.1M766.5 514.2L763.8 514.9M605.5 425.3L604.7 422.6M600.2 398.2L599.7 386.1M600.1 375.1L600.4 372.3M805.2 498.7L802.8 500.2M598.3 396.0L597.9 386.1M806.2 500.2L803.8 501.7M771.9 516.2L766.9 517.6M602.2 426.3L601.4 423.6M596.4 393.8L596.2 386.1M596.5 377.2L596.7 374.3M807.1 501.6L804.7 503.2M779.3 515.6L776.5 516.5M774.7 517.1L769.7 518.7M640.2 488.8L636.3 485.2M594.7 393.8L594.6 381.4M808.1 503.1L803.5 505.9M782.1 516.3L779.4 517.4M777.6 518.0L772.5 519.7M637.2 488.4L633.3 484.7M615.3 462.5L610.1 453.7M599.6 429.7L598.7 426.9M595.3 413.2L594.4 407.9M592.8 389.1L592.7 386.1M592.8 384.2L593.1 376.4M800.6 509.6L798.0 511.0M785.0 517.0L782.3 518.1M613.9 463.4L608.6 454.5M591.0 389.1L591.0 386.1M591.2 379.3L591.6 373.9M799.2 512.3L794.3 514.8M611.1 462.2L608.3 457.5M595.6 428.4L591.8 413.4M589.3 389.1L589.3 386.1M589.5 379.2L589.6 376.2M795.5 516.1L792.8 517.4M593.9 428.9L590.6 416.2M587.5 386.7L587.6 383.6M587.7 379.1L587.9 376.1M644.2 503.3L641.8 501.4M592.3 429.4L589.0 416.5M585.9 381.5L586.0 378.5M612.5 473.5L605.1 462.4M590.6 429.9L587.3 416.9M644.2 507.6L641.7 505.8M611.1 474.6L605.0 465.5M586.2 420.3L585.6 417.3M582.4 389.3L582.4 383.5M608.1 473.4L606.4 470.8M580.7 389.3L580.7 380.9M750.9 538.3L745.1 538.9M606.7 474.4L604.9 471.8M585.7 431.4L584.0 425.8M753.8 539.7L750.6 540.1M605.3 475.4L603.5 472.8M584.8 434.5L583.1 428.8M756.7 541.0L753.5 541.5M743.4 546.0L740.1 546.2M590.8 461.7L588.1 456.3M598.0 477.1L596.2 474.3M590.6 465.0L589.1 462.1M585.5 455.0L584.1 452.0M598.2 480.4L594.8 475.2M582.8 453.1L581.4 450.0M578.5 442.6L576.4 436.7M743.8 551.2L740.4 551.4M595.2 479.0L593.3 476.2M580.0 451.2L576.7 442.7M574.9 437.7L573.1 431.7M743.9 552.9L740.5 553.1M595.4 482.4L593.5 479.5M744.0 554.6L740.6 554.9M640.3 528.0L637.5 526.1M633.1 523.0L630.3 521.0M636.9 527.8L626.9 520.5M566.0 425.0L565.3 421.6M741.3 558.3L737.8 558.4M591.1 485.3L589.2 482.4M563.7 422.4L563.0 419.0M741.3 560.0L737.8 560.2M647.9 538.6L639.7 533.7M589.7 486.3L587.7 483.4M562.0 422.8L561.3 419.3M762.7 559.3L753.2 560.7M560.3 423.2L559.6 419.7M753.9 562.4L750.3 562.8M660.1 548.5L656.8 547.0M558.6 423.5L557.9 420.0M593.0 499.3L590.7 496.4M556.9 423.9L556.2 420.3M757.4 565.4L753.8 565.9M741.7 566.9L738.1 567.1M661.6 552.9L658.2 551.5M633.7 538.2L628.1 534.3M591.7 500.4L585.6 492.5M555.2 424.2L554.5 420.6M757.6 567.1L754.0 567.6M741.8 568.7L738.1 568.8M584.5 493.9L582.3 490.9M553.5 424.6L552.8 421.0M585.0 497.5L580.9 491.9M551.8 425.0L551.1 421.3M548.2 399.5L547.8 389.4M761.3 570.0L757.6 570.6M742.0 572.1L738.2 572.3M622.9 537.0L617.3 532.8M583.6 498.5L579.5 492.9M546.5 399.6L546.3 395.9M742.1 573.8L738.3 574.0M722.4 573.9L715.4 573.4M621.9 538.4L618.8 536.2M614.1 532.4L611.2 530.0M578.4 494.3L576.2 491.2M544.8 399.7L544.3 389.4M758.6 574.0L745.0 575.4M719.0 575.4L712.0 574.8M631.8 547.2L625.9 543.3M584.9 505.8L580.6 500.2M732.3 577.6L728.4 577.5M630.9 548.6L627.7 546.6M583.6 506.9L577.2 498.6M575.6 496.3L573.4 493.1M632.9 551.9L626.7 548.0M618.8 542.6L615.7 540.3M582.2 508.0L573.8 496.8M745.8 580.5L741.9 580.8M620.6 546.0L612.0 539.6M609.7 537.8L606.7 535.3M602.0 531.2L599.1 528.6M578.8 506.4L576.4 503.3M572.7 498.2L570.5 495.0M711.7 581.7L707.8 581.3M622.4 549.3L610.9 541.0M608.6 539.2L597.9 529.8M540.7 430.8L539.9 427.0M749.5 583.7L745.6 584.0M636.2 559.8L623.2 551.9L610.9 543.1L599.3 533.4M714.8 585.5L710.9 585.1M663.9 574.3L660.2 572.9M629.3 557.8L623.0 553.8M617.6 550.2L598.1 534.7M568.5 501.2L566.2 497.9M537.4 431.6L536.5 427.7M836.0 559.0L832.6 561.1M714.7 587.2L710.7 586.8M619.5 553.6L607.9 545.2L597.0 536.0M567.0 502.2L564.8 498.9M669.4 579.8L665.6 578.5M659.4 576.3L655.6 574.8M624.5 558.9L612.5 550.9L601.1 542.0M534.8 435.8L533.9 431.9M831.6 565.6L828.0 567.5M662.1 579.1L658.3 577.7M623.6 560.4L617.2 556.2M611.7 552.4L602.8 545.6M562.2 501.2L559.9 497.8M533.1 436.2L532.2 432.3M717.8 592.6L713.7 592.3M622.7 561.9L601.7 546.9M750.4 594.0L746.3 594.4M725.0 594.7L717.2 594.3M634.4 570.6L618.3 561.1M615.6 559.4L600.6 548.3M530.7 440.6L529.7 436.6M849.7 560.5L846.3 562.8M746.9 596.1L739.1 596.5M627.1 568.6L614.3 560.5M649.4 581.6L645.6 579.9M558.5 508.2L556.2 504.7M520.6 371.9L520.9 367.7M652.2 584.6L648.3 583.0M645.3 581.7L641.5 579.9M557.1 509.2L554.7 505.7M526.7 445.5L525.6 441.5M519.1 368.0L519.5 363.8M852.6 564.8L849.1 567.2M651.5 586.2L647.6 584.6M644.6 583.3L640.7 581.5M567.2 525.0L564.5 521.8M517.1 371.6L517.8 363.6M650.9 587.8L646.9 586.2M643.9 584.8L640.0 583.1M525.6 453.7L523.2 446.0M854.6 567.7L851.0 570.1M525.2 457.9L523.8 453.8M653.2 592.4L649.1 590.8M523.5 458.4L522.1 454.3M634.8 586.3L630.9 584.4M554.6 520.4L552.0 516.9M523.2 462.7L521.7 458.5M634.0 587.9L630.1 585.9M553.2 521.4L550.6 517.9M525.9 474.2L521.4 462.8M633.3 589.4L629.3 587.4M551.8 522.5L544.7 512.4M525.9 478.5L522.6 470.7M552.9 526.7L545.5 516.7M524.3 479.2L521.0 471.4M843.3 586.8L839.4 588.9M653.8 601.9L649.6 600.3M631.7 592.5L627.7 590.5M551.5 527.7L544.1 517.7M527.9 490.7L524.1 483.0M521.1 476.2L519.4 472.0M505.0 418.5L504.0 410.1M653.2 603.5L649.0 601.9M631.0 594.1L626.9 592.1M550.2 528.8L542.7 518.7M528.0 278.2L530.1 274.2M630.2 595.6L626.1 593.6M548.8 529.9L539.0 516.3M526.7 495.9L524.6 491.8M526.4 277.4L528.6 273.4M547.4 530.9L537.5 517.3M525.1 496.7L523.0 492.6M628.7 598.8L624.6 596.7M546.1 532.0L538.4 521.6M525.6 501.1L523.4 497.0M851.2 592.3L847.1 594.6M627.9 600.3L623.8 598.2M547.3 536.3L541.9 529.4M518.3 490.9L516.3 486.7M862.7 587.2L851.6 594.0M654.2 613.0L649.8 611.5M627.2 601.9L623.0 599.8M551.3 543.8L548.3 540.2M545.9 537.4L543.0 533.7M653.7 614.7L649.2 613.1M626.4 603.4L622.2 601.3M550.0 544.9L544.3 538.1M625.7 605.0L617.7 600.9M548.7 546.1L545.6 542.4M624.9 606.5L616.9 602.4M547.4 547.2L538.9 536.9M520.1 509.0L517.8 504.9M624.2 608.1L616.0 604.0M549.0 551.5L545.8 547.9M543.3 545.1L535.0 534.6M809.0 622.4L800.2 625.1M655.5 622.6L650.9 621.0M623.4 609.6L615.2 605.5M547.7 552.7L544.5 549.1M542.0 546.2L533.6 535.6M837.9 612.9L833.4 614.9M809.5 624.1L800.7 626.8M655.0 624.2L650.4 622.7M622.6 611.2L614.4 607.0M574.9 580.8L571.1 577.7M537.9 543.9L532.2 536.6M515.6 511.6L513.2 507.4M511.4 504.0L507.2 495.8M858.1 604.3L853.8 606.7M810.0 625.7L805.4 627.2M654.5 625.9L645.7 622.8M617.9 610.8L613.6 608.5M595.1 597.6L587.4 592.4M577.2 584.9L573.4 581.9M539.3 548.4L530.8 537.7M526.0 531.0L523.2 526.9M514.1 512.5L511.7 508.2M862.7 603.5L858.5 606.0M835.3 617.8L830.8 619.8M609.3 608.2L605.1 605.8M601.7 603.8L597.5 601.2M586.8 594.2L582.8 591.3M538.0 549.5L529.4 538.7M527.1 535.6L519.3 524.2M863.6 605.0L859.4 607.5M836.0 619.4L831.5 621.4M657.6 630.5L652.9 629.0M608.5 609.7L604.2 607.3M600.8 605.3L596.6 602.7M548.6 563.8L536.4 550.2M533.8 547.2L528.1 539.8M523.1 533.0L515.5 521.4M956.6 261.6L959.0 266.0M636.0 624.7L631.4 622.8M619.6 617.4L615.1 615.2M607.7 611.2L603.3 608.8M550.5 568.2L537.9 554.8M532.5 548.3L526.7 540.8M521.7 534.0L516.4 526.1M955.9 256.9L958.3 261.2M960.2 264.8L962.6 269.2M865.4 608.0L861.1 610.5M639.5 627.9L626.6 622.6M618.8 619.0L606.4 612.5M537.0 556.3L524.1 540.2L512.5 523.2M957.4 256.0L959.8 260.4M961.8 263.9L964.1 268.4M866.3 609.4L862.0 612.0M638.9 629.6L621.7 622.3M614.0 618.5L605.6 614.0M538.7 560.8L535.3 557.0M529.8 550.4L518.6 535.5M516.3 532.2L506.4 516.4M963.3 263.1L965.6 267.6M867.2 610.9L862.8 613.5M655.6 637.1L633.6 629.3M625.6 625.9L604.7 615.5M522.8 544.3L512.1 528.9M507.5 521.6L504.9 517.2M962.6 258.3L965.1 262.8M868.1 612.4L863.7 615.0M655.1 638.8L650.2 637.2M646.3 635.9L641.5 634.2M616.6 623.6L603.9 617.0M566.2 591.6L562.2 588.3M533.1 559.7L518.4 541.3M516.0 537.9L510.6 529.9M508.4 526.4L503.4 518.1M535.8 210.1L539.2 206.3M865.0 616.3L860.5 618.8M650.2 639.0L645.3 637.4M615.8 625.2L603.0 618.5M558.0 587.0L554.1 583.6M534.8 564.3L531.4 560.4M528.7 557.3L522.6 549.7M512.0 535.1L506.7 526.9M974.1 273.2L976.3 277.9M610.9 624.7L602.2 620.1M556.8 588.3L546.1 578.5M530.4 561.9L524.1 554.4M975.7 272.5L977.9 277.2M854.4 626.0L849.7 628.3M610.1 626.2L605.5 623.8M601.8 621.8L597.3 619.2M562.9 595.6L558.9 592.3M555.7 589.6L538.3 573.1M532.3 566.6L525.8 559.1M486.3 496.0L479.1 478.2M977.3 271.8L979.4 276.5M601.0 623.3L596.4 620.7M561.8 597.0L557.8 593.6M547.5 584.6L543.7 581.0M481.1 488.1L477.5 478.8M583.8 615.1L579.4 612.2M560.7 598.3L556.7 595.0M517.4 554.3L511.4 546.4M843.8 636.8L834.5 640.7M559.6 599.7L555.6 596.3M853.2 634.3L848.4 636.6M831.1 643.9L826.1 645.8M558.5 601.0L554.4 597.6M551.2 594.8L547.2 591.3M480.0 498.9L477.9 494.0M858.3 633.7L853.5 636.1M557.5 602.3L553.3 598.9M863.4 633.0L858.6 635.5M827.8 648.9L822.7 650.7M864.2 634.5L859.4 637.0M554.2 606.4L550.0 602.9M546.6 600.0L542.5 596.4M497.6 544.8L489.4 531.9M824.9 655.4L819.7 657.1M553.1 607.7L548.9 604.2M866.6 639.1L861.8 641.6M825.5 657.0L820.2 658.8M544.3 602.6L540.2 599.0M871.9 638.2L867.0 640.8M826.0 658.7L820.8 660.4M550.9 610.4L546.7 606.9M543.2 604.0L539.1 600.3M872.7 639.7L867.8 642.4M831.3 658.6L826.1 660.5M549.8 611.8L545.5 608.2M542.1 605.3L537.9 601.6M873.5 641.2L868.6 643.9M831.9 660.2L826.7 662.1M544.8 609.9L536.8 602.9M832.5 661.9L827.2 663.7M543.7 611.2L535.6 604.1M833.1 663.5L827.8 665.4M542.6 612.5L534.4 605.4M520.0 591.5L516.1 587.4M838.6 663.3L828.4 667.0M541.5 613.8L533.3 606.7M844.0 663.0L828.9 668.6M540.4 615.2L536.0 611.5M868.5 653.7L849.3 662.7L829.5 670.3M680.1 682.0L669.3 679.9M850.2 664.2L830.0 671.9M779.5 684.5L773.8 685.4M629.0 670.2L623.6 668.1M679.5 685.4L673.8 684.4M628.4 671.8L623.0 669.8M780.0 687.9L774.2 688.8M679.2 687.1L668.3 685.0M622.8 671.6L617.4 669.4M852.2 669.0L836.8 675.0M678.9 688.9L667.9 686.7M622.2 673.2L606.9 666.8M678.6 690.6L667.6 688.4M616.6 672.8L606.2 668.4M423.4 375.9L423.6 370.0M853.6 672.2L843.1 676.4M678.3 692.3L667.2 690.1M854.2 673.7L848.7 676.0M844.1 677.8L838.6 679.9M678.0 694.0L666.8 691.8M576.1 657.0L566.3 651.1M419.8 381.2L419.9 375.3M425.4 327.1L426.6 321.2M489.2 190.1L496.5 181.3M854.9 675.3L849.4 677.6M844.8 679.4L839.2 681.5M575.2 658.5L565.4 652.6M418.0 381.2L418.4 369.7M421.8 337.5L422.8 331.6M424.8 321.4L426.1 315.5M487.8 189.0L495.2 180.2M855.6 676.9L850.0 679.2M677.4 697.4L671.5 696.3M416.3 381.1L416.5 375.1M423.1 321.0L424.4 315.1M417.6 342.5L418.5 336.5M421.4 320.6L422.7 314.7M856.9 680.1L851.3 682.4M665.9 698.7L660.0 697.3M415.2 347.7L416.0 341.7M419.7 320.3L421.1 314.4M857.6 681.7L852.0 684.0M660.1 699.1L654.1 697.7M413.4 347.5L414.2 341.5M418.0 319.9L419.4 314.0M472.2 198.0L482.8 184.2M863.5 681.0L852.6 685.6M842.6 689.5L836.8 691.5M659.7 700.8L653.7 699.4M570.9 665.9L560.8 659.9M474.2 192.4L477.9 187.6M874.4 677.8L853.3 687.2M664.8 703.7L658.8 702.4M621.3 691.3L610.3 687.1M565.1 664.6L559.9 661.4M410.0 347.1L410.8 341.0M414.7 319.2L416.0 313.2M875.2 679.4L869.6 682.1M859.6 686.5L848.6 690.9M664.4 705.4L658.4 704.1M620.7 692.9L609.6 688.7M405.9 392.3L405.9 386.1M875.9 680.9L865.1 686.0M855.0 690.3L843.9 694.5M658.5 705.9L646.9 703.0M620.1 694.5L609.0 690.3M404.4 398.1L404.2 386.1M881.8 679.9L871.1 685.2M619.5 696.2L608.3 691.9M402.6 398.2L402.5 380.4M887.8 678.8L877.0 684.3M674.7 712.7L662.9 710.4M646.5 706.5L640.4 704.8M624.4 699.7L618.5 697.6M608.1 693.7L602.3 691.3M400.9 398.2L400.7 386.1M400.8 380.9L400.9 374.6M406.7 323.4L408.0 317.3M888.6 680.3L877.8 685.8M674.4 714.4L662.5 712.1M629.3 703.2L617.9 699.3M602.1 693.0L596.3 690.5M399.0 392.5L399.2 374.5M889.4 681.9L878.5 687.4M674.1 716.1L667.9 715.0M634.4 706.6L617.3 700.9M601.4 694.6L590.3 689.7M885.0 686.1L879.3 688.9M662.3 715.6L656.1 714.2M639.5 709.9L633.4 708.1M600.8 696.2L594.9 693.7M395.6 392.5L395.7 374.4M398.0 345.6L398.8 339.3M400.6 328.2L401.7 322.0M842.3 706.1L836.3 708.1M600.1 697.8L594.2 695.3M393.8 392.6L393.8 380.2M394.0 374.8L394.3 368.4M397.0 339.6L398.0 333.2M854.1 703.7L848.0 705.9M610.4 703.9L604.4 701.5M599.4 699.4L577.4 689.2M392.1 386.7L392.1 380.2M392.5 368.9L392.9 362.4M395.3 339.3L396.3 333.0M854.7 705.3L848.6 707.6M661.2 720.7L654.9 719.3M609.8 705.5L598.3 700.8M390.3 386.7L390.4 380.2M1002.5 174.8L1010.0 184.8M855.3 706.9L849.2 709.2M660.8 722.4L654.5 720.9M603.6 704.9L597.6 702.4M388.6 386.7L388.7 380.2M389.9 356.7L390.5 350.3M1003.8 173.7L1007.8 178.9M855.9 708.5L849.8 710.8M602.9 706.5L596.9 704.0M414.4 521.5L411.9 515.5M386.9 386.7L386.9 380.1M856.5 710.1L838.9 716.4M412.8 522.2L410.3 516.1M385.1 386.7L385.2 380.1M653.8 726.1L647.4 724.6M383.4 386.7L383.5 380.1M891.3 698.4L885.3 701.4M624.0 719.7L617.7 717.6M892.1 700.0L880.6 705.6M841.0 721.1L834.7 723.1M653.0 729.5L646.6 727.9M380.0 380.5L380.2 373.9M887.3 704.3L881.3 707.1M841.6 722.8L835.2 724.8M811.8 731.1L805.3 732.5M787.6 735.8L781.0 736.8M652.7 731.2L646.2 729.6M378.4 374.3L379.1 361.5M888.1 705.8L882.0 708.7M842.1 724.4L835.7 726.5M787.9 737.5L781.2 738.5M652.3 732.9L645.8 731.3M593.3 713.8L581.5 708.5M888.8 707.4L877.1 712.9M842.6 726.1L836.2 728.1M812.6 734.4L806.0 735.9M788.1 739.2L781.5 740.2M651.9 734.5L645.3 733.0M633.8 729.9L627.3 728.0M621.8 726.2L615.5 724.1M592.6 715.3L580.8 710.1M889.6 708.9L877.8 714.4M843.2 727.7L836.7 729.8M633.3 731.5L626.8 729.6M621.3 727.9L614.9 725.7M890.3 710.5L878.5 716.0M849.7 727.4L837.2 731.4M885.4 714.8L879.2 717.6M638.4 736.5L631.9 734.7M891.9 713.6L879.9 719.2M644.1 739.8L637.5 738.1M851.4 732.3L844.8 734.5M851.9 733.9L839.2 738.0M814.9 744.5L808.2 746.0M757.9 753.1L751.0 753.5M894.1 718.3L887.9 721.3M815.3 746.2L808.5 747.7M783.7 752.1L776.8 753.0M883.2 725.3L876.8 728.1M840.7 741.2L834.0 743.2M777.5 754.7L770.5 755.5M623.7 741.3L617.1 739.2M599.2 732.9L592.8 730.4M771.2 757.1L764.2 757.8M617.0 741.0L610.4 738.8M598.6 734.5L592.1 732.0M835.5 746.4L828.7 748.2M764.9 759.5L757.9 760.0M654.4 752.8L647.5 751.3M610.3 740.6L603.7 738.3M598.0 736.2L591.5 733.6M879.3 732.7L872.7 735.4M823.3 751.4L810.0 754.5M616.0 744.3L609.3 742.1M886.0 731.6L879.5 734.5M830.1 751.5L823.2 753.2M609.2 743.9L602.5 741.5M836.9 751.4L830.0 753.3M758.7 765.2L751.6 765.6M608.6 745.5L601.9 743.1M837.4 753.0L830.5 754.9M608.0 747.2L601.3 744.8M882.0 739.0L875.3 741.8M818.4 759.7L811.4 761.3M752.3 769.1L745.1 769.4M588.7 741.8L582.0 739.0M876.4 743.2L863.4 748.2M838.3 756.3L831.4 758.3M818.8 761.4L811.8 763.0M752.4 770.8L745.2 771.1M698.7 769.9L691.5 769.2M600.6 748.2L593.8 745.7M858.1 751.9L844.8 756.2M819.2 763.1L805.5 766.0M786.1 769.3L778.9 770.2M752.5 772.5L745.2 772.8M877.7 746.4L871.0 749.1M865.1 751.3L851.8 755.9M813.0 766.2L805.9 767.7M872.0 750.5L858.8 755.3M813.4 767.9L806.2 769.4M691.5 774.4L684.2 773.6M752.8 777.7L745.4 778.0M711.7 777.7L704.4 777.3M591.8 752.3L578.7 747.0M752.8 779.4L745.5 779.7M711.7 779.4L704.3 779.0M591.2 753.9L578.0 748.6M711.6 781.2L704.2 780.7M584.1 753.0L577.3 750.2M787.5 779.5L780.1 780.5M711.5 782.9L697.1 781.9M583.5 754.6L576.6 751.8M808.3 777.8L801.0 779.2M794.6 780.2L773.4 783.0M760.1 784.2L752.6 784.6M711.4 784.6L697.0 783.6M669.9 780.3L655.7 777.8M582.9 756.2L576.0 753.4M842.6 771.3L828.6 775.1M801.8 780.8L780.6 783.9M774.1 784.7L759.7 785.9M711.3 786.4L703.8 785.9M697.3 785.4L689.9 784.7M662.7 780.9L655.3 779.5M849.8 771.0L822.2 778.4M711.2 788.1L703.7 787.6M857.1 770.5L829.5 778.4M711.1 789.8L703.6 789.4M697.0 788.8L689.5 788.1M711.0 791.5L703.5 791.1M696.9 790.6L689.3 789.8M767.8 792.2L760.2 792.8M710.9 793.3L696.2 792.2M322.9 379.5L323.1 371.9M768.2 797.4L760.5 798.0M319.5 393.9L319.5 378.9M317.7 386.7L317.7 378.9M317.9 372.2L318.2 364.5M316.0 379.4L316.2 371.6M768.7 802.6L753.6 803.6M776.1 803.6L768.3 804.4M761.5 804.9L753.7 805.4M761.8 808.3L753.9 808.8M761.9 810.1L754.0 810.5M784.2 809.6L776.3 810.5M864.6 793.5L856.9 795.9M784.4 811.4L776.5 812.3M762.2 815.2L754.2 815.7M807.2 811.4L799.3 812.8M814.9 811.8L807.0 813.2M815.3 813.5L799.8 816.2M815.6 815.2L800.1 817.9M770.3 821.5L762.2 822.2M860.5 805.7L852.6 808.0M815.9 816.8L800.4 819.6M778.1 822.5L762.3 823.9M778.3 824.2L770.1 825.0M778.5 826.0L770.3 826.8M755.4 827.8L747.2 828.2M848.0 818.3L839.9 820.4M856.0 817.9L848.0 820.1M840.8 821.9L832.7 823.9M871.5 814.9L863.5 817.4M856.5 819.5L840.8 823.7M879.5 814.1L864.0 819.1M856.9 821.2L841.2 825.4M887.6 813.1L872.1 818.4M873.6 821.5L842.5 830.5M866.5 825.6L850.6 830.1M831.0 850.9L814.2 854.1M268.3 510.9L260.7 477.8M266.7 511.3L259.0 478.1M841.0 857.5L832.3 859.4M262.9 503.6L259.0 486.7M816.5 864.2L807.7 865.7M825.5 866.1L816.6 867.7M252.3 479.9L248.0 454.2M250.6 480.2L247.5 462.9M247.3 472.1L245.8 463.1M245.6 472.4L244.1 463.4M247.2 489.7L242.4 463.7M697.6 882.6L688.4 881.9M245.5 490.1L242.1 472.5M943.2 838.6L934.8 842.5M697.4 884.3L679.6 882.7M951.8 836.4L943.4 840.4M688.6 885.4L679.4 884.5M952.5 838.0L944.2 842.0M953.3 839.5L944.9 843.6M962.0 837.2L945.6 845.1M962.7 838.7L954.4 842.9M785.3 891.3L776.0 892.2M785.5 893.1L776.2 894.0M785.7 894.8L776.3 895.7M794.8 895.5L776.5 897.4M795.0 897.2L776.6 899.1M958.6 850.4L950.0 854.5M795.2 898.9L776.8 900.9M951.2 855.9L934.2 863.4M795.4 900.6L785.9 901.7M968.2 849.5L959.7 853.8M795.6 902.4L786.1 903.4M969.0 851.0L960.4 855.3M944.4 862.8L935.6 866.6M786.8 905.1L777.2 906.0M759.5 907.3L750.0 907.7M945.1 864.4L936.2 868.2M787.0 906.8L777.4 907.8M759.6 909.0L750.0 909.4M970.6 854.1L961.9 858.4M796.2 907.5L786.6 908.6M971.4 855.7L962.7 860.0M805.6 908.0L796.0 909.3M796.7 910.9L777.8 912.9M796.9 912.7L778.0 914.6M973.7 860.3L948.1 872.5M787.9 915.4L778.1 916.4M750.8 918.0L731.7 918.4M788.0 917.2L778.3 918.1M788.2 918.9L778.4 919.8M732.3 925.3L722.3 925.2M722.8 926.9L712.9 926.7M704.0 926.3L694.0 925.7M798.3 924.7L779.0 926.7M798.6 926.4L779.2 928.4M703.7 931.5L693.7 930.9M703.6 933.2L693.6 932.6M799.2 931.6L779.6 933.6M799.4 933.3L779.8 935.3M799.8 936.7L789.7 937.9M800.0 938.4L789.9 939.6M625.5 935.8L605.9 931.7M790.9 944.7L780.7 945.7M625.1 937.5L605.5 933.3M762.4 962.6L751.9 963.0M205.0 621.3L197.0 602.3M203.4 622.0L199.2 612.3M762.8 969.5L752.1 969.9M979.7 917.0L970.0 921.5M990.5 915.7L980.7 920.4M971.8 924.4L961.9 928.7M1000.4 912.7L990.8 917.5M972.5 926.0L962.6 930.3M1001.2 914.2L991.5 919.1M973.2 927.6L963.3 931.9M973.9 929.2L964.0 933.5M1003.6 918.9L993.8 923.7M939.0 954.5L928.6 958.2M979.6 941.8L969.4 946.3M950.2 954.0L929.7 961.4M950.8 955.6L940.3 959.5M182.4 654.7L177.6 644.6M952.0 958.9L941.5 962.8M982.4 948.1L972.1 952.6M179.3 656.2L170.1 636.3M995.1 950.0L984.7 954.7M903.7 984.2L882.2 989.9M1005.6 946.8L995.3 951.7M906.6 1037.2L894.8 1040.3"/>
<path stroke="#65c0dc" d="M716.5 325.2L720.2 324.4M712.8 324.4L718.8 322.9M710.1 323.5L712.8 322.6M717.9 321.3L719.5 321.0M683.0 434.0L679.5 430.1M679.1 429.6L676.6 426.4M708.4 322.3L711.1 321.3M717.5 319.6L719.2 319.3M688.1 441.0L684.9 438.3M675.5 427.8L674.5 426.4M709.0 320.2L710.6 319.7M718.4 317.7L720.1 317.4M689.0 443.9L686.6 442.0M672.6 426.8L671.7 425.3M708.4 318.6L711.2 317.7M718.1 316.0L719.8 315.7M689.0 446.0L687.6 445.0M707.8 317.0L714.2 315.1L720.7 313.7M668.3 426.5L667.4 424.9M707.3 315.3L711.5 314.0M712.3 313.8L715.3 313.0M718.7 312.3L721.8 311.8M690.3 451.1L688.7 450.1M713.1 311.8L714.9 311.3M689.3 452.6L686.6 450.7M689.6 454.8L686.8 453.0M788.2 446.3L786.8 447.6M689.9 457.0L685.8 454.4M663.2 431.4L662.2 429.7M652.2 366.8L654.4 359.4M789.4 447.6L788.0 448.9M690.3 459.2L687.3 457.4M661.8 432.3L660.7 430.7M650.2 367.8L651.0 364.4M651.7 362.1L652.7 358.8M689.4 460.7L685.2 458.1M662.0 435.7L658.5 430.3M647.9 370.3L648.3 368.4M685.9 460.6L682.9 458.7M664.3 441.6L661.2 437.5M659.7 435.5L657.0 431.2M645.7 373.0L646.3 369.5M648.4 361.1L649.0 359.2M691.8 465.9L688.6 464.2M671.4 451.7L664.6 444.7M663.9 443.9L662.6 442.3M660.1 439.0L658.9 437.3M658.3 436.4L655.5 432.1M643.7 374.2L644.3 370.7M646.3 362.1L647.3 358.6M692.4 468.1L682.3 462.4M672.6 455.1L666.5 449.3M656.8 437.4L654.0 433.0M643.8 364.7L644.3 362.7M691.7 469.7L685.5 466.4M683.2 465.0L677.4 461.1M673.9 458.5L669.9 455.0M640.1 375.4L640.4 373.3M641.8 365.8L642.3 363.8M692.4 472.0L689.0 470.3M686.5 469.0L677.7 463.5M676.8 462.8L675.1 461.5M672.9 459.8L671.2 458.5M638.4 375.2L638.7 373.0M639.7 367.0L640.2 364.9M691.6 473.5L689.7 472.6M681.3 468.0L675.6 464.1L670.1 459.8M636.7 374.9L638.1 366.2M785.4 468.2L776.2 473.6M692.5 475.8L690.5 474.9M679.0 468.5L674.3 465.3M672.0 463.6L670.3 462.2M634.3 384.9L634.4 381.0M634.5 379.8L634.8 375.9M787.8 468.7L786.0 470.0M774.3 476.4L770.6 478.1M703.2 481.6L697.7 479.8M693.4 478.1L691.3 477.2M678.0 470.0L674.7 467.7M672.3 466.0L667.9 462.4M632.5 384.9L632.6 382.7M632.8 379.7L632.9 377.5M771.8 479.5L769.7 480.3M702.6 483.3L692.2 479.5M671.3 467.4L665.4 462.6M630.8 384.9L630.9 382.6M630.9 381.4L631.2 377.3M703.9 485.4L698.3 483.6M695.3 482.6L693.2 481.7M668.8 467.7L664.3 463.9M629.1 384.9L629.5 377.2M768.0 484.7L765.8 485.4M719.5 490.3L717.2 490.0M701.6 486.6L694.3 484.0M664.9 466.7L663.1 465.2M627.5 381.2L627.8 377.0M791.7 474.5L789.7 475.8M765.1 487.5L762.9 488.2M701.1 488.2L693.6 485.6M661.0 465.6L659.3 464.0M625.7 381.1L626.0 376.9M763.9 489.7L761.6 490.4M713.5 492.9L711.1 492.5M700.6 489.9L693.0 487.3M764.4 491.4L762.0 492.1M696.5 490.4L692.4 488.9M694.1 491.3L690.0 489.8M620.4 388.6L620.4 384.2M689.8 491.6L687.5 490.6M640.5 453.2L637.9 449.6M618.8 390.6L619.0 378.2M794.9 482.7L792.8 484.1M639.1 454.2L636.5 450.5M617.0 390.7L617.0 386.1M617.0 382.6L617.3 378.1M795.8 484.2L793.7 485.6M686.6 494.0L684.3 493.0M672.1 486.6L669.9 485.3M668.6 484.5L666.5 483.1M636.5 453.6L635.0 451.5M615.4 380.5L615.5 378.0M796.8 485.7L794.6 487.0M685.9 495.6L683.6 494.6M673.0 489.2L670.8 487.8M657.6 478.7L654.1 475.7M613.6 390.8L613.5 388.2M613.8 378.4L614.0 375.8M797.7 487.1L795.5 488.5M683.3 496.3L671.7 490.4M614.9 413.7L614.3 411.2M611.8 390.8L611.8 388.2M798.6 488.6L796.4 490.0M673.1 493.2L669.0 490.8M614.8 420.3L614.1 417.7M612.3 409.9L611.5 405.2M610.1 390.9L610.0 388.3M610.3 378.1L610.5 375.5M613.2 420.7L612.5 418.2M611.1 412.4L609.8 405.5M608.4 391.0L608.3 388.3M611.5 421.2L610.8 418.6M610.4 417.0L608.4 407.9M606.7 391.0L606.6 388.3M606.9 377.9L607.1 375.2M609.2 419.6L606.7 408.2M604.9 391.1L604.9 388.4M605.1 377.8L605.4 375.1M769.9 509.6L767.3 510.4M607.6 420.0L605.0 408.5M603.1 388.9L603.1 386.1M603.4 377.7L603.6 374.9M768.2 511.9L765.6 512.6M606.5 422.6L604.7 415.5M603.4 409.3L603.0 406.6M601.4 386.7L601.4 383.9M601.7 377.5L601.9 374.8M804.3 497.3L801.9 498.8M604.9 423.1L603.5 418.2M599.7 386.7L599.7 383.8M769.2 515.2L766.5 516.0M603.2 423.6L602.4 420.9M598.2 377.3L598.5 374.5M787.5 510.4L784.8 511.5M601.5 424.1L600.8 421.3M596.2 386.7L596.5 376.7M805.1 502.9L802.6 504.4M781.5 514.7L778.8 515.7M777.0 516.4L774.3 517.3M601.3 429.1L600.4 426.4M598.6 419.9L597.4 414.8M597.0 412.9L596.1 407.7M803.9 505.6L799.3 508.3M596.9 420.3L595.2 412.7M592.7 386.7L592.8 383.7M798.4 510.8L795.8 512.1M597.2 427.9L596.4 425.0M595.9 423.1L593.5 413.1M591.0 386.7L591.2 378.8M790.3 516.7L787.5 517.9M589.3 386.7L589.5 378.7M793.3 517.2L790.5 518.5M649.3 504.9L644.9 501.6M587.6 384.1L587.8 378.6M650.5 507.7L643.8 503.0M651.6 510.6L642.8 504.4M648.5 510.6L643.8 507.3M745.6 538.9L739.8 539.3M757.0 542.7L753.8 543.2M746.0 544.1L740.0 544.5M596.5 474.7L594.7 471.9M593.5 469.9L590.4 464.6M589.3 462.6L585.3 454.5M746.5 549.2L743.2 549.5M595.0 475.6L593.2 472.8M590.5 468.4L586.2 460.4M583.9 455.7L582.5 452.7M758.1 549.5L754.7 550.0M746.6 551.0L743.3 551.2M582.4 456.4L579.8 450.7M576.8 443.1L574.8 437.2M573.3 432.2L572.4 428.9M758.4 551.3L755.0 551.8M746.8 552.7L743.4 553.0M593.7 480.0L591.9 477.1M580.8 457.2L574.6 442.1L570.0 426.5M758.6 553.0L755.2 553.5M749.9 554.1L746.5 554.5M637.9 526.4L632.7 522.7M594.0 483.4L590.4 478.1M579.2 457.9L572.5 441.3L567.6 424.1M758.9 554.7L755.5 555.2M753.0 555.5L746.6 556.2M744.1 556.4L740.7 556.6M592.6 484.3L590.6 481.5M577.7 458.6L570.9 441.9L565.9 424.5M762.1 555.9L758.7 556.5M589.4 482.9L587.5 479.9M577.4 462.1L570.2 445.3L564.9 427.8M564.3 425.4L563.6 421.9M762.4 557.6L759.0 558.2M756.4 558.5L749.9 559.3M588.0 483.8L586.0 480.9M575.8 462.8L571.9 454.1M566.7 440.4L563.2 428.2M753.6 560.7L750.1 561.1M741.4 561.7L737.9 561.9M588.3 487.3L586.3 484.4M573.0 460.8L569.1 451.9M741.5 563.5L737.9 563.6M586.9 488.3L584.9 485.4M572.7 464.4L567.5 452.6M559.3 426.5L558.5 423.0M741.6 565.2L738.0 565.4M659.4 550.1L656.1 548.6M585.5 489.3L583.4 486.3M569.8 462.3L565.9 453.2M558.3 430.0L556.8 423.4M658.7 551.7L655.4 550.1M584.1 490.3L582.0 487.3M556.6 430.4L555.1 423.7M754.5 567.5L744.5 568.5M582.6 491.3L580.5 488.3M554.2 427.7L553.4 424.1M757.9 568.8L754.2 569.3M751.5 569.6L744.6 570.2M741.9 570.4L738.2 570.5M581.2 492.3L579.1 489.2M552.5 428.1L551.7 424.5M745.2 571.9L741.5 572.1M617.7 533.1L614.8 530.8M579.8 493.3L577.7 490.2M546.3 396.4L546.0 389.4M758.4 572.2L754.6 572.7M751.9 573.1L741.6 573.9M725.6 575.7L718.5 575.4M613.0 533.8L610.0 531.4M547.5 429.3L546.7 425.5M728.9 577.5L725.1 577.4M715.6 576.9L711.8 576.5M617.2 539.2L614.1 536.9M611.9 535.1L608.9 532.7M573.7 493.5L571.5 490.3M545.8 429.6L545.0 425.9M739.0 579.2L731.7 579.3M712.1 578.3L708.2 577.8M610.8 536.5L607.8 534.0M574.1 497.2L571.9 494.1M711.9 580.0L708.0 579.5M612.4 539.9L609.3 537.5M570.8 495.4L568.6 492.2M542.4 430.4L541.6 426.6M745.9 582.3L742.0 582.5M725.4 582.6L721.5 582.5M611.3 541.3L608.2 538.8M569.4 496.4L567.2 493.1M746.1 584.0L742.1 584.2M725.3 584.4L721.4 584.2M715.0 583.8L711.0 583.4M567.9 497.4L565.7 494.1M539.0 431.2L538.2 427.3M667.2 575.4L663.4 574.1M566.5 498.3L564.3 495.0M663.3 575.9L659.5 574.5M536.5 435.4L535.6 431.5M839.9 558.7L836.5 560.8M833.9 562.3L830.3 564.3M662.7 577.5L658.9 576.1M563.6 500.3L561.4 496.9M717.9 590.9L713.9 590.6M665.5 580.3L661.6 579.0M534.0 439.7L533.0 435.8M844.8 559.6L841.3 561.9M728.6 593.1L717.3 592.6M560.7 502.2L558.5 498.8M532.4 440.1L531.3 436.2M746.8 594.3L739.0 594.7M728.6 594.8L724.5 594.7M618.7 561.4L615.2 559.1M559.3 503.2L557.0 499.7M531.7 444.1L530.6 440.1M557.9 504.1L555.6 500.7M531.1 448.1L528.9 440.6M850.7 562.0L847.2 564.3M556.4 505.1L554.1 501.6M528.4 445.1L527.2 441.0M851.7 563.4L848.2 565.7M648.7 583.2L644.9 581.5M555.0 506.1L552.7 502.6M530.1 456.2L526.6 445.1M518.8 371.7L519.2 367.5M648.1 584.8L644.2 583.1M555.7 510.1L553.3 506.6M529.7 460.3L524.9 445.5M647.4 586.4L643.5 584.6M556.5 514.2L554.0 510.7M526.8 457.3L525.4 453.3M650.3 589.4L646.3 587.8M643.2 586.4L639.3 584.6M555.1 515.2L548.3 505.4M526.4 461.5L525.0 457.4M649.6 591.0L645.6 589.3M639.0 586.4L635.1 584.5M553.7 516.3L546.9 506.3M527.6 469.3L523.4 458.0M652.6 594.0L644.9 590.9M638.3 588.0L634.3 586.1M552.3 517.3L545.4 507.3M527.5 473.5L523.0 462.2M651.9 595.6L644.2 592.5M637.5 589.6L633.6 587.7M550.9 518.3L544.0 508.2M527.4 477.8L525.7 473.7M651.3 597.3L643.6 594.1M636.8 591.1L632.8 589.2M527.5 482.0L525.7 478.0M842.5 585.3L838.6 587.4M650.7 598.9L642.9 595.7M636.1 592.7L632.0 590.8M545.8 517.1L543.3 513.4M529.4 489.9L524.1 478.7M650.1 600.5L631.3 592.3M544.4 518.1L541.8 514.4M529.7 494.2L527.6 490.2M524.4 483.5L520.9 475.7M645.7 600.6L637.8 597.3M634.6 595.8L630.5 593.9M543.0 519.1L538.2 512.0M530.1 498.6L526.1 491.0M652.7 605.1L648.4 603.5M633.9 597.4L629.8 595.4M539.2 516.7L536.7 512.9M528.6 499.4L526.4 495.4M652.1 606.8L647.8 605.2M629.5 597.2L625.4 595.2M537.8 517.7L535.3 513.9M527.1 500.3L524.9 496.2M864.3 582.0L860.4 584.6M850.3 590.8L846.3 593.1M651.5 608.4L647.1 606.8M538.7 522.1L536.1 518.2M861.8 585.8L857.8 588.3M631.7 602.1L627.5 600.1M542.2 529.8L534.7 519.2M631.0 603.7L626.7 601.6M543.3 534.1L533.2 520.2M630.2 605.2L626.0 603.2M544.6 538.5L534.2 524.6M523.1 507.3L520.8 503.2M653.1 616.3L648.6 614.7M629.5 606.8L625.2 604.8M546.0 542.8L535.2 529.1M521.6 508.1L519.3 504.0M652.5 617.9L648.0 616.3M628.8 608.4L624.5 606.3M539.3 537.3L533.8 530.1M526.8 519.9L519.9 508.6M652.0 619.6L647.4 618.0M628.0 609.9L623.7 607.9M546.1 548.3L543.0 544.7M535.3 535.0L527.5 524.0M518.6 509.9L516.3 505.7M848.8 605.5L844.5 607.7M651.4 621.2L646.9 619.6M627.3 611.5L622.9 609.4M544.8 549.5L541.7 545.8M533.9 536.0L526.0 525.0M517.1 510.7L514.8 506.5M853.4 604.9L849.1 607.2M650.8 622.8L646.3 621.2M626.6 613.1L622.2 611.0M546.4 553.9L537.6 543.5M532.5 537.0L522.2 522.3M517.8 515.4L515.4 511.2M854.3 606.4L850.0 608.8M838.6 614.4L834.2 616.5M646.1 623.0L633.4 618.0M629.8 616.5L617.5 610.6M614.0 608.8L609.7 606.4M545.1 555.0L539.0 548.0M531.1 538.1L525.7 530.6M523.5 527.4L518.4 519.6M516.4 516.3L513.9 512.0M653.9 627.5L630.9 618.8L608.9 607.9M597.9 601.5L586.4 593.9M543.8 556.2L537.7 549.1M529.7 539.1L526.8 535.2M519.6 524.6L512.4 512.9M653.4 629.2L628.0 619.4M620.4 615.9L608.1 609.5M597.0 602.9L581.8 592.7M528.4 540.2L522.8 532.6M864.5 606.5L860.2 609.0M836.7 621.0L832.2 623.0M657.1 632.2L652.4 630.7M648.6 629.4L635.5 624.5M631.8 623.0L619.2 617.2M615.6 615.4L607.2 611.0M599.9 606.7L595.6 604.1M584.9 597.0L580.8 594.1M527.0 541.2L521.4 533.5M958.1 260.8L960.5 265.2M656.6 633.8L651.8 632.3M648.0 631.0L639.1 627.8M627.0 622.8L618.4 618.7M599.0 608.2L594.7 605.6M583.9 598.4L579.8 595.5M540.0 559.6L536.6 555.9M656.1 635.5L638.5 629.4M622.2 622.5L613.6 618.3M594.2 607.3L582.5 599.5M535.7 557.4L529.5 550.1M518.9 535.9L516.0 531.8M538.3 212.4L541.8 208.6M961.1 259.1L963.5 263.6M863.3 613.3L858.8 615.8M534.4 558.5L522.5 543.9M512.3 529.4L507.2 521.2M537.1 211.2L540.5 207.5M864.1 614.8L859.7 617.3M650.7 637.4L645.9 635.8M562.6 588.7L558.7 585.3M510.9 530.3L508.1 526.0M861.0 618.5L856.4 621.0M844.5 627.0L839.8 629.1M565.1 592.9L561.1 589.7M861.8 620.1L857.3 622.5M849.4 626.5L844.7 628.7M564.0 594.3L560.0 591.0M605.9 624.0L601.4 621.6M559.3 592.6L555.3 589.3M605.1 625.6L600.5 623.1M558.2 594.0L554.2 590.6M557.0 595.3L553.1 591.9M848.8 636.4L844.0 638.6M552.6 600.6L548.5 597.1M828.4 650.5L818.6 653.8M551.5 601.9L547.4 598.4M865.0 636.0L860.2 638.5M824.3 653.8L819.2 655.5M865.8 637.6L861.0 640.1M829.6 653.7L824.4 655.6M545.5 601.3L541.4 597.7M830.2 655.4L825.0 657.2M867.4 640.6L862.5 643.2M830.8 657.0L825.5 658.8M545.9 608.5L541.7 604.9M869.1 643.7L864.1 646.2M869.9 645.2L864.9 647.8M870.7 646.7L865.7 649.3M837.9 661.7L832.6 663.7M871.5 648.2L861.8 653.2M848.2 659.4L838.1 663.5M867.7 652.2L843.6 663.2M784.7 683.7L779.0 684.6M679.8 683.7L669.0 681.6M850.9 665.8L835.6 671.8M779.7 686.2L774.0 687.1M674.3 684.5L668.6 683.3M851.5 667.4L841.2 671.6M785.6 688.8L779.8 689.7M421.6 375.8L421.9 369.9M849.2 675.8L843.7 678.0M419.9 375.8L420.2 369.8M424.4 332.4L425.5 326.6M420.1 337.3L421.1 331.3M856.3 678.5L850.7 680.8M418.4 337.0L419.4 331.0M415.9 342.2L416.8 336.2M414.2 342.0L415.1 336.0M412.5 341.7L413.4 335.7M410.7 341.5L411.7 335.4M870.0 681.8L859.2 686.7M849.1 690.8L843.3 692.9M408.3 346.9L409.1 340.8M411.8 324.4L413.1 318.4M664.1 707.1L658.0 705.8M406.6 346.7L407.4 340.5M410.1 324.1L411.4 318.0M855.7 691.9L849.9 694.2M404.9 346.5L405.7 340.3M408.4 323.8L409.7 317.6M877.5 684.1L871.8 686.8M618.9 697.8L607.7 693.5M400.7 386.7L400.8 380.4M403.1 346.3L404.8 334.3M646.0 708.1L640.0 706.5M618.3 699.4L601.6 692.9M401.4 346.1L402.3 339.8M405.0 323.1L406.3 316.9M668.4 715.1L662.2 713.8M645.6 709.8L639.5 708.1M617.7 701.1L601.0 694.4M399.7 345.9L400.5 339.6M403.3 322.8L404.6 316.6M830.6 708.1L824.5 709.9M656.6 714.3L639.0 709.8M633.9 708.3L616.7 702.5M611.6 700.6L600.3 696.0M399.6 334.0L400.7 327.7M885.8 687.6L880.0 690.5M831.1 709.8L825.0 711.6M656.2 716.0L621.7 706.1M611.0 702.2L599.6 697.6M393.8 380.7L394.0 374.3M886.6 689.2L880.8 692.1M842.9 707.7L836.8 709.8M831.6 711.4L825.5 713.2M655.8 717.7L626.7 709.6M604.9 701.7L598.9 699.2M887.3 690.7L881.6 693.6M638.1 714.9L626.2 711.3M390.8 368.8L391.2 362.3M888.1 692.3L882.3 695.2M637.6 716.6L620.0 711.0M609.2 707.1L603.1 704.7M389.1 368.7L389.4 362.2M888.9 693.8L877.6 699.3M861.5 706.3L855.5 708.7M637.1 718.2L619.4 712.7M387.3 368.6L387.7 362.1M889.7 695.3L878.4 700.9M862.2 707.9L856.1 710.3M654.2 724.4L647.8 722.9M636.6 719.9L624.6 716.2M385.6 368.5L386.0 362.0M890.5 696.9L879.1 702.4M862.8 709.5L851.0 714.1M845.7 715.9L839.5 718.0M630.3 719.8L618.3 715.9M613.0 714.1L601.2 709.5M383.9 368.4L384.3 361.8M885.8 701.2L879.8 704.0M653.4 727.8L647.0 726.3M618.2 717.7L611.9 715.5M382.1 368.3L382.5 361.7M799.4 731.9L786.8 734.2M380.2 374.4L380.8 361.6M805.8 732.4L799.3 733.7M793.7 734.8L787.1 735.9M634.7 726.5L628.3 724.7M882.5 708.5L876.4 711.3M812.2 732.7L805.7 734.2M794.0 736.5L787.4 737.6M634.2 728.2L627.8 726.3M877.5 712.7L871.4 715.3M849.1 725.7L842.7 727.9M813.0 736.1L806.4 737.6M788.4 740.9L781.7 741.9M645.4 734.8L638.8 733.1M813.4 737.8L806.8 739.3M788.7 742.6L782.0 743.6M645.0 736.5L632.3 733.1M850.2 729.0L837.7 733.1M813.8 739.5L807.1 741.0M795.2 743.3L782.2 745.3M644.6 738.1L638.0 736.4M850.8 730.6L838.2 734.7M814.2 741.2L807.5 742.7M789.2 746.0L782.4 747.1M892.6 715.2L880.6 720.8M857.4 730.1L850.9 732.4M845.3 734.3L838.7 736.4M814.6 742.9L807.8 744.4M893.4 716.7L887.1 719.7M858.0 731.8L851.5 734.1M808.7 745.9L801.9 747.3M888.3 721.0L876.1 726.5M864.6 731.1L858.1 733.6M852.5 735.6L839.7 739.7M809.0 747.6L802.2 749.0M790.0 751.2L783.2 752.2M889.1 722.6L882.7 725.5M871.2 730.4L858.7 735.2M809.4 749.3L802.6 750.7M790.3 752.9L777.0 754.7M889.8 724.2L877.4 729.7M871.9 732.0L859.3 736.8M777.7 756.4L770.7 757.2M604.7 736.8L598.2 734.4M884.6 728.5L859.9 738.4M771.4 758.9L764.4 759.5M616.5 742.7L609.8 740.5M604.1 738.4L597.5 736.0M873.2 735.2L860.5 740.1M829.6 749.8L822.8 751.6M791.1 758.0L751.4 762.2M609.7 742.3L590.8 735.2M836.4 749.7L829.6 751.6M784.9 760.7L751.5 763.9M602.9 741.7L590.2 736.8M778.5 763.3L758.2 765.2M602.4 743.3L595.7 740.8M785.3 764.1L771.6 765.8M758.9 766.9L751.7 767.4M601.8 744.9L588.9 740.0M875.8 741.6L862.8 746.6M837.9 754.7L830.9 756.6M785.6 765.8L771.8 767.5M601.2 746.6L588.2 741.6M863.9 748.0L857.1 750.4M851.2 752.4L837.9 756.5M812.3 762.9L805.2 764.3M785.8 767.5L772.0 769.2M594.3 745.8L581.4 740.6M877.1 744.8L857.6 752.1M779.4 770.1L772.2 771.0M698.5 771.6L684.6 770.1M600.0 749.8L580.7 742.2M871.4 748.9L864.6 751.4M786.3 771.0L779.1 771.9M698.4 773.3L684.4 771.9M599.4 751.4L580.0 743.8M592.4 750.7L579.3 745.4M786.8 774.4L779.5 775.4M787.3 777.8L773.1 779.6M590.6 755.5L583.7 752.8M808.0 776.1L787.0 779.6M780.6 780.4L773.3 781.3M759.9 782.5L752.5 782.9M801.5 779.1L794.1 780.3M697.2 787.1L689.7 786.4M321.2 379.5L321.7 364.6M319.6 372.3L320.0 364.6M317.7 379.4L317.9 371.7M768.8 804.3L761.0 804.9M776.3 805.3L768.5 806.1M761.6 806.6L753.8 807.1M776.5 807.0L768.6 807.8M776.6 808.8L768.8 809.5M762.0 811.8L754.1 812.3M762.1 813.5L754.2 814.0M777.4 815.6L761.9 817.0M866.2 798.5L858.5 800.9M777.5 817.4L762.0 818.7M866.7 800.1L851.7 804.7M777.7 819.1L762.1 820.5M860.0 804.1L852.2 806.4M777.9 820.8L769.8 821.6M848.4 820.0L840.4 822.1M864.0 817.3L856.0 819.7M864.5 819.0L856.5 821.3M872.6 818.2L841.6 827.1M888.1 814.7L842.0 828.8M888.7 816.3L873.2 821.7M839.5 850.7L814.5 855.8M839.8 852.4L806.6 858.9M823.8 857.6L806.9 860.6M840.6 855.8L831.9 857.7M832.8 859.3L824.0 861.1M816.2 862.5L807.4 864.0M943.9 840.2L935.5 844.0M944.6 841.8L936.2 845.6M954.8 842.7L946.4 846.7M963.5 840.2L947.1 848.3M964.3 841.8L955.9 846.0M965.9 844.9L949.3 853.0M966.7 846.4L958.2 850.7M967.5 847.9L950.7 856.1M786.4 901.7L776.9 902.6M960.1 853.5L951.5 857.7M943.7 861.2L934.9 865.0M786.6 903.4L777.1 904.3M960.9 855.1L952.2 859.2M961.6 856.7L952.9 860.8M945.8 866.0L936.9 869.8M787.1 908.6L777.5 909.5M796.4 909.2L777.7 911.2M972.2 857.2L963.5 861.5M947.2 869.1L938.3 873.0M805.8 909.7L796.2 911.0M972.9 858.7L947.4 870.9M806.0 911.4L796.4 912.7M797.1 914.4L787.4 915.5M797.3 916.1L787.5 917.2M797.5 917.8L787.7 918.9M797.7 919.5L778.6 921.5M788.6 922.3L778.7 923.3M722.8 925.2L694.2 924.0M807.5 921.7L778.9 925.0M798.8 928.1L779.3 930.2M799.0 929.8L779.5 931.9M799.6 935.0L779.9 937.1M790.2 937.8L780.1 938.8M790.4 939.5L780.2 940.5M790.6 941.2L780.4 942.2M790.7 943.0L780.5 943.9M910.0 933.4L899.9 936.6M762.5 964.3L751.9 964.7M762.6 966.0L752.0 966.5M762.7 967.7L752.1 968.2M970.4 921.3L960.6 925.5M980.4 918.6L961.3 927.1M981.2 920.2L971.4 924.6M991.2 917.3L972.1 926.2M1002.0 915.8L992.3 920.6M1002.8 917.3L993.0 922.2M1004.4 920.4L994.6 925.3M980.3 943.4L970.0 947.8M179.4 644.3L174.8 634.2M981.0 945.0L970.7 949.4M931.3 964.6L920.7 968.1M981.7 946.6L971.4 951.0M180.9 655.5L176.1 645.4M992.1 943.7L981.9 948.3M952.6 960.5L942.1 964.4M992.9 945.3L972.8 954.2M963.3 958.1L952.8 962.3M983.8 951.3L973.4 955.8M1004.9 945.3L994.6 950.2M904.1 985.8L893.2 988.9M905.7 1033.9L893.9 1036.9M918.0 1034.1L906.2 1037.3M918.5 1035.7L895.2 1042.0"/>
<path stroke="#62d4c0" d="M712.3 322.8L718.4 321.2M679.8 430.5L678.7 429.2M710.6 321.5L718.0 319.5M685.3 438.6L679.0 432.2M676.9 429.7L675.2 427.4M710.1 319.8L718.9 317.6M687.0 442.4L684.7 440.4M674.1 428.8L672.3 426.3M710.8 317.8L718.5 315.9M688.0 445.3L685.5 443.4M671.2 427.7L669.5 425.2M690.1 448.9L688.6 447.9M688.0 447.4L686.5 446.4M669.0 427.6L668.0 426.1M688.0 449.6L686.5 448.5M667.6 428.5L665.9 425.8M687.1 451.0L685.5 449.9M665.4 428.3L664.4 426.7M687.2 453.2L685.7 452.2M665.4 431.6L663.6 428.8M686.3 454.7L684.7 453.6M664.0 432.6L662.9 430.9M685.3 456.1L683.7 455.0M663.4 434.7L661.5 431.9M650.9 364.9L651.8 361.6M684.3 457.5L682.7 456.4M665.6 440.5L661.7 435.3M648.2 368.8L649.3 364.0M649.6 363.0L650.6 359.7M689.9 462.9L685.5 460.4M683.4 459.0L680.4 456.9M673.7 451.5L670.0 448.0M669.3 447.3L663.9 441.2M661.5 438.0L659.4 435.0M646.2 370.0L646.6 368.0M648.0 362.6L648.5 360.6M689.0 464.4L679.4 458.3M676.1 455.8L671.1 451.4M664.9 445.0L663.6 443.5M659.2 437.7L658.0 436.0M644.2 371.2L645.2 366.1M645.9 363.6L646.4 361.6M682.7 462.7L677.3 458.9L672.2 454.8M642.0 374.0L643.9 364.2M677.8 461.4L673.6 458.2M640.3 373.8L640.6 371.7M641.1 369.0L641.9 365.3M689.4 470.5L686.1 468.7M678.1 463.8L676.4 462.5M675.5 461.8L672.5 459.5M638.6 373.5L639.8 366.6M690.1 472.8L680.9 467.7M690.9 475.1L687.4 473.4M681.9 470.3L678.6 468.2M674.7 465.6L671.6 463.3M634.4 381.5L634.5 379.3M786.4 469.7L784.5 470.9M782.0 472.4L773.8 476.7M691.8 477.4L689.7 476.4M679.5 470.9L677.6 469.7M675.1 468.0L671.9 465.7M632.6 383.2L632.8 379.2M787.3 471.1L785.4 472.4M775.0 478.0L771.3 479.7M692.7 479.7L690.6 478.8M677.1 471.4L670.9 467.1M630.8 383.1L630.9 380.9M788.3 472.6L786.3 473.8M772.4 481.1L768.7 482.6M693.7 481.9L691.6 481.1M676.1 472.9L672.8 470.6M671.7 469.8L668.4 467.4M789.2 474.0L787.3 475.3M769.7 484.0L767.6 484.8M694.7 484.2L690.9 482.6M673.7 473.3L664.5 466.4M790.2 475.5L788.2 476.8M766.9 486.9L764.6 487.7M719.3 492.0L715.1 491.4M694.1 485.8L690.2 484.2M671.2 473.7L666.3 470.1M662.4 466.9L660.6 465.3M715.3 493.2L713.0 492.8M693.5 487.4L689.5 485.8M671.7 476.2L665.2 471.4M659.8 466.9L658.1 465.3M692.9 489.0L690.6 488.2M669.2 476.5L664.2 472.8M657.3 466.9L655.5 465.2M793.0 479.8L790.9 481.2M766.7 492.4L764.4 493.2M690.4 490.0L688.2 489.0M671.4 480.1L663.1 474.2M656.1 468.2L654.3 466.5M793.9 481.3L791.8 482.6M767.3 494.1L764.9 494.8M670.5 481.6L663.6 476.7M662.4 475.8L660.5 474.3M654.9 469.4L653.1 467.7M767.8 495.7L765.4 496.5M687.3 492.4L685.0 491.4M671.2 484.1L669.1 482.7M664.6 479.6L661.0 476.9M659.8 476.0L657.9 474.4M653.7 470.7L651.9 469.0M617.0 386.7L617.0 382.1M768.3 497.4L765.9 498.1M684.7 493.2L682.4 492.1M673.8 487.7L671.6 486.4M670.3 485.6L668.2 484.2M660.3 478.6L650.7 470.2M615.3 390.7L615.4 380.0M768.9 499.0L766.4 499.8M684.0 494.8L672.5 488.9M613.6 380.4L613.8 377.9M769.4 500.7L766.9 501.5M611.8 388.7L611.8 386.1M611.9 380.4L612.1 377.8M769.9 502.3L767.4 503.1M614.3 418.2L612.2 409.4M610.2 380.3L610.3 377.6M799.6 490.0L797.3 491.4M770.5 504.0L767.9 504.8M612.6 418.7L611.0 411.9M608.3 388.8L608.3 386.1M608.6 378.0L608.8 375.4M800.5 491.5L798.3 492.9M771.0 505.6L768.4 506.4M610.9 419.1L610.2 416.5M606.6 388.8L606.6 386.1M777.8 505.0L773.2 506.7M771.5 507.3L768.9 508.1M604.9 388.9L604.9 383.9M605.0 380.0L605.2 377.3M776.3 507.4L773.7 508.3M603.1 386.7L603.4 377.2M803.3 495.8L801.0 497.3M779.0 508.2L776.4 509.2M604.8 416.0L603.3 408.8M601.4 384.4L601.7 377.0M768.7 513.5L766.0 514.3M603.6 418.7L601.2 406.9M599.7 384.3L599.7 381.5M600.0 377.4L600.2 374.6M786.8 508.8L782.0 510.8M775.9 513.1L768.7 515.3M602.6 421.3L599.5 407.1M597.9 386.7L598.0 381.5M789.6 509.4L787.0 510.6M783.1 512.2L771.5 516.3M600.9 421.8L597.8 407.4M803.0 504.2L800.6 505.6M786.0 512.9L781.1 514.9M600.5 426.9L598.5 419.4M597.5 415.2L596.9 412.4M799.7 508.1L797.2 509.5M786.6 514.5L781.7 516.5M598.9 427.4L596.8 419.8M796.2 511.9L793.6 513.2M787.3 516.1L784.6 517.2M596.5 425.5L595.7 422.7M794.8 514.6L789.8 516.9M751.1 540.1L747.9 540.4M743.1 540.8L739.9 541.0M754.0 541.4L739.9 542.8M748.8 543.8L745.5 544.1M746.2 545.8L742.9 546.1M746.3 547.5L743.0 547.8M595.0 472.3L593.2 469.5M757.8 547.8L754.5 548.3M593.5 473.2L590.3 467.9M586.4 460.8L583.7 455.3M593.6 476.6L587.5 466.5L582.2 456.0M755.5 551.7L746.3 552.7M592.1 477.5L588.8 472.2M587.5 470.1L580.6 456.7M755.7 553.4L749.4 554.2M747.0 554.4L743.5 554.7M590.7 478.5L584.5 468.2L579.0 457.5M756.0 555.1L752.5 555.6M747.1 556.1L743.6 556.4M590.9 481.9L583.7 470.3L577.5 458.2M759.2 556.4L740.8 558.3M587.8 480.4L577.2 461.6M565.0 428.3L564.2 424.9M759.4 558.1L755.9 558.6M750.4 559.3L740.8 560.0M586.3 481.3L575.6 462.4M572.1 454.6L566.6 439.9M563.4 428.7L561.9 422.3M750.6 561.0L740.9 561.8M586.6 484.8L579.2 472.9L572.8 460.4M569.3 452.4L564.1 437.7L560.2 422.7M750.8 562.7L741.0 563.5M585.1 485.8L581.5 480.2M577.0 472.6L572.5 463.9M567.7 453.1L562.9 439.7L559.2 426.0M754.1 564.1L741.1 565.2M583.7 486.7L580.0 481.1M575.5 473.4L569.6 461.8M566.1 453.7L563.7 447.4M559.1 433.0L558.2 429.5M754.3 565.8L741.2 567.0M582.3 487.7L580.2 484.7M574.0 474.3L568.2 462.8L563.1 451.0M557.4 433.4L556.5 429.9M745.0 568.5L741.3 568.7M571.0 472.3L561.5 451.6M560.6 449.1L559.3 445.6M555.8 433.9L554.1 427.2M754.7 569.2L751.0 569.7M745.1 570.2L741.4 570.4M579.4 489.6L577.3 486.5M565.1 464.5L562.3 458.2M560.1 452.7L557.7 446.1M553.3 431.2L552.4 427.6M758.1 570.5L744.7 571.9M578.0 490.6L575.9 487.5M566.4 471.1L564.7 467.7M550.8 428.5L550.0 424.8M755.1 572.7L751.4 573.1M619.2 536.5L613.7 532.1M576.5 491.6L574.4 488.4M549.2 428.9L548.3 425.2M618.2 537.8L612.6 533.5M575.1 492.5L573.0 489.4M549.1 435.7L547.4 428.8M725.6 577.5L715.1 576.8M614.5 537.2L611.5 534.8M732.3 579.3L711.6 578.2M616.1 540.6L610.4 536.2M572.2 494.5L568.3 488.4M544.9 433.3L543.3 426.3M742.4 580.7L738.5 580.9M728.9 581.0L718.2 580.5M715.3 580.3L711.4 579.9M568.9 492.6L565.0 486.4M543.2 433.7L542.3 429.9M728.8 582.7L724.9 582.6M722.0 582.5L711.2 581.7M567.5 493.6L563.6 487.3M541.5 434.1L540.6 430.3M728.8 584.5L724.8 584.4M721.9 584.2L714.5 583.7M566.0 494.5L562.1 488.2M539.9 434.6L538.9 430.7M749.7 585.4L745.7 585.7M728.8 586.2L714.3 585.4M564.6 495.4L558.8 486.1M539.1 438.4L537.3 431.1M749.8 587.2L745.8 587.5M728.7 587.9L714.2 587.2M565.1 499.3L557.3 487.0M539.3 445.6L536.4 434.9M836.9 560.5L833.4 562.6M750.0 588.9L745.9 589.2M728.7 589.6L714.0 588.9M561.7 497.3L557.6 490.9M536.7 442.7L534.7 435.3M840.8 560.1L837.4 562.3M750.1 590.6L746.1 590.9M728.7 591.4L717.5 590.9M560.2 498.3L556.1 491.8M536.0 446.6L533.9 439.2M832.4 567.1L828.8 569.1M750.3 592.3L746.2 592.6M735.9 593.1L728.1 593.1M558.8 499.2L554.7 492.7M534.4 447.1L532.2 439.7M845.7 561.1L842.3 563.3M833.3 568.6L829.6 570.6M739.5 594.7L728.1 594.8M557.3 500.1L553.2 493.6M533.8 451.1L531.5 443.6M555.9 501.1L551.7 494.4M533.3 455.1L530.9 447.6M554.4 502.0L552.1 498.5M532.9 459.1L528.2 444.6M553.0 503.0L550.7 499.4M531.3 459.7L529.9 455.7M553.6 507.0L549.2 500.3M531.0 463.8L529.5 459.8M850.5 568.4L846.8 570.7M554.3 511.1L549.8 504.4M530.8 468.0L526.6 456.8M851.4 569.8L847.8 572.1M646.7 587.9L642.8 586.2M529.2 468.6L526.3 461.0M855.6 569.1L848.7 573.6M839.2 579.2L835.3 581.3M646.0 589.5L638.6 586.2M529.1 472.8L527.4 468.8M856.5 570.6L852.9 573.0M645.4 591.1L637.8 587.8M529.0 477.0L527.3 473.0M857.5 572.0L853.8 574.4M840.8 582.2L837.0 584.3M644.7 592.7L637.1 589.3M530.7 484.8L527.2 477.3M858.5 573.4L854.8 575.9M841.7 583.7L837.8 585.9M644.0 594.3L636.4 590.9M545.0 512.9L542.5 509.2M536.6 499.5L527.3 481.6M859.4 574.9L845.5 583.5M643.3 595.9L635.6 592.5M543.5 513.8L541.1 510.1M535.1 500.4L529.2 489.5M860.4 576.3L856.6 578.8M542.1 514.8L539.6 511.0M535.6 504.7L529.5 493.8M649.5 602.1L645.3 600.4M638.3 597.5L634.2 595.6M538.4 512.4L536.0 508.6M534.2 505.6L529.9 498.2M648.8 603.7L633.4 597.2M537.0 513.3L528.4 499.0M849.4 589.3L845.4 591.5M648.2 605.3L640.2 602.1M636.9 600.7L629.0 597.0M529.1 503.8L526.9 499.8M647.6 606.9L643.3 605.3M636.2 602.2L628.3 598.5M536.4 518.7L533.8 514.8M527.6 504.7L525.3 500.7M858.3 588.0L850.7 592.5M650.9 610.0L642.7 606.9M635.5 603.8L631.2 601.9M534.9 519.6L530.1 512.2M528.2 509.1L523.8 501.5M650.3 611.6L642.0 608.5M634.8 605.4L630.5 603.5M533.5 520.6L526.5 509.6M524.6 506.4L522.3 502.3M649.7 613.3L641.4 610.1M634.1 607.0L629.8 605.0M534.5 525.0L522.9 506.9M649.1 614.9L640.7 611.7M633.4 608.6L629.0 606.6M535.5 529.5L521.4 507.7M648.5 616.5L640.1 613.3M632.7 610.1L628.3 608.2M534.1 530.5L526.6 519.5M647.9 618.1L627.6 609.7M527.8 524.5L518.4 509.4M841.1 609.4L836.7 611.5M647.3 619.8L626.9 611.3M526.3 525.4L516.9 510.3M849.6 607.0L845.3 609.3M646.7 621.4L626.1 612.9M522.5 522.8L517.6 514.9M633.9 618.2L629.4 616.3M518.7 520.0L516.1 515.8M858.9 605.8L850.8 610.3M839.3 616.0L834.9 618.0M859.8 607.3L851.6 611.8M840.1 617.6L835.6 619.6M628.4 619.6L619.9 615.6M860.7 608.8L852.4 613.4M652.8 630.8L648.1 629.2M596.1 604.4L584.4 596.7M861.5 610.3L853.2 614.9M837.4 622.6L832.8 624.6M652.3 632.5L647.6 630.9M595.2 605.9L583.4 598.1M959.6 260.0L962.0 264.4M862.4 611.8L854.0 616.4M842.3 622.3L837.7 624.4M859.3 615.5L854.8 617.9M843.0 623.8L838.4 625.9M860.1 617.0L851.6 621.6M843.7 625.4L839.1 627.5M856.9 620.8L844.0 627.2M561.5 590.0L557.6 586.7M857.7 622.3L848.9 626.7M560.4 591.3L556.5 588.0M555.9 596.6L551.9 593.2M844.5 638.4L839.6 640.5M835.6 642.1L830.7 644.1M554.8 597.9L550.8 594.5M831.7 645.5L826.7 647.4M553.7 599.3L549.6 595.8M859.1 635.2L854.3 637.6M829.0 652.1L823.9 653.9M550.4 603.2L546.2 599.7M549.3 604.6L545.1 601.0M548.2 605.9L544.0 602.3M547.0 607.2L542.8 603.6M868.3 642.1L863.3 644.7M865.3 647.6L860.3 650.1M866.1 649.1L861.1 651.6M847.5 657.8L837.5 661.9M862.3 653.0L847.7 659.6M785.0 685.4L779.2 686.3M841.7 671.4L836.2 673.4M785.3 687.1L779.5 688.0M849.9 677.4L844.3 679.6M422.7 332.1L424.9 320.9M845.4 681.1L839.7 683.2M421.0 331.8L423.2 320.5M419.3 331.5L421.5 320.2M416.7 336.7L419.8 319.8M847.2 685.9L841.5 688.0M415.0 336.4L418.1 319.4M413.3 336.2L416.5 319.1M853.7 687.1L848.0 689.3M411.6 335.9L414.8 318.7M409.0 341.3L411.9 323.9M865.6 685.8L854.6 690.5M407.3 341.0L410.2 323.6M871.5 685.0L865.8 687.6M861.0 689.7L855.2 692.1M663.7 708.8L646.5 704.7M405.6 340.8L408.5 323.3M856.3 693.5L850.5 695.8M657.7 709.3L646.0 706.3M404.7 334.8L406.8 322.9M878.2 685.6L872.5 688.3M651.7 709.6L645.6 708.0M402.2 340.3L403.1 334.1M662.6 713.9L656.5 712.5M651.3 711.3L645.1 709.7M400.5 340.1L403.4 322.3M836.2 706.3L830.1 708.3M617.2 702.7L611.2 700.4M398.8 339.8L399.7 333.5M836.8 708.0L830.6 709.9M622.1 706.3L610.6 702.1M837.3 709.6L831.2 711.6M627.2 709.8L609.9 703.7M392.1 380.7L392.5 368.4M655.4 719.4L637.6 714.8M626.7 711.4L609.3 705.3M390.4 380.7L390.8 368.3M882.8 694.9L876.9 697.7M655.0 721.1L637.1 716.4M620.4 711.2L608.7 706.9M388.6 380.7L389.1 368.2M654.6 722.7L636.6 718.1M619.9 712.8L602.5 706.3M386.9 380.6L387.4 368.1M648.3 723.0L636.2 719.8M625.1 716.4L618.8 714.3M613.6 712.4L601.8 707.9M385.3 374.5L385.6 368.0M851.5 713.9L845.3 716.1M647.9 724.7L629.8 719.7M618.7 716.1L612.5 713.9M383.5 380.6L383.9 367.9M863.5 711.1L857.3 713.5M647.5 726.4L629.3 721.3M381.7 380.5L382.2 367.8M647.1 728.1L628.8 723.0M881.7 706.9L875.7 709.7M799.8 733.6L793.2 734.9M646.7 729.7L634.2 726.4M876.8 711.1L870.7 713.8M806.2 734.1L793.5 736.6M646.2 731.4L633.8 728.1M848.5 724.1L842.2 726.2M806.5 735.8L787.6 739.3M645.8 733.1L633.3 729.7M878.2 714.2L872.0 716.9M806.9 737.5L787.9 741.0M639.3 733.2L632.8 731.4M807.2 739.2L788.2 742.7M856.2 726.9L849.8 729.2M807.6 740.9L794.7 743.4M856.8 728.5L850.3 730.8M808.0 742.6L788.7 746.1M808.3 744.2L782.7 748.8M887.6 719.5L875.4 724.9M802.4 747.2L782.9 750.5M858.6 733.4L852.0 735.7M802.7 748.9L789.5 751.2M877.2 727.9L870.8 730.6M803.1 750.6L789.8 753.0M877.9 729.5L871.4 732.2M841.2 742.9L834.5 744.8M809.8 751.0L802.9 752.4M790.6 754.6L777.2 756.5M810.1 752.7L803.2 754.1M790.8 756.3L770.9 758.9M836.0 748.0L829.1 749.9M810.5 754.4L790.6 758.1M879.9 734.3L861.1 741.7M810.8 756.1L784.4 760.8M880.6 735.9L861.6 743.3M811.2 757.8L804.2 759.2M791.7 761.4L778.0 763.3M596.1 741.0L589.5 738.4M881.3 737.4L862.2 744.9M811.6 759.5L804.5 760.9M798.5 762.0L784.8 764.2M772.1 765.7L758.4 767.0M844.3 752.8L837.4 754.8M792.2 764.8L785.1 765.9M772.3 767.5L765.1 768.2M759.0 768.6L751.8 769.1M857.6 750.3L850.7 752.6M792.5 766.5L785.3 767.6M792.7 768.3L785.6 769.3M779.6 771.9L772.3 772.7M786.5 772.7L772.5 774.4M780.0 775.3L772.7 776.1M787.0 776.1L772.9 777.8M773.8 781.2L759.4 782.5M773.9 783.0L759.6 784.2M704.3 785.9L696.8 785.3M704.2 787.7L696.7 787.1M704.0 791.1L696.4 790.5M319.5 379.4L319.7 371.8M769.0 806.0L761.1 806.6M769.1 807.8L761.3 808.4M769.3 809.5L761.4 810.1M776.8 810.5L768.9 811.2M865.1 795.2L850.3 799.7M777.2 813.9L761.7 815.3M865.6 796.8L858.0 799.2M858.9 800.8L851.2 803.0M840.2 854.1L823.4 857.7M832.4 857.6L823.7 859.4M815.9 860.8L807.1 862.3M825.2 864.4L816.3 866.0M956.3 845.8L947.8 849.8M965.1 843.3L948.6 851.4M951.9 857.5L943.2 861.4M952.7 859.0L943.9 863.0M953.4 860.6L944.6 864.6M962.4 858.2L945.3 866.2M963.2 859.8L954.4 863.9M946.5 867.5L937.6 871.4M963.9 861.3L946.7 869.3M806.3 913.2L796.6 914.4M806.5 914.9L796.8 916.2M806.8 916.6L797.0 917.9M807.0 918.3L797.2 919.6M807.2 920.0L788.1 922.4M908.4 928.5L898.4 931.6M908.9 930.1L898.9 933.3M928.4 925.2L918.5 928.7M909.5 931.7L899.4 934.9M992.0 918.8L972.8 927.8M992.7 920.4L973.5 929.4M1005.2 921.9L995.3 926.8M940.8 959.4L930.3 963.1M177.8 645.1L173.2 634.9M991.4 942.1L981.2 946.8M176.3 645.8L171.6 635.6M993.6 946.8L983.3 951.5M1004.1 943.7L984.0 953.1M955.1 966.9L944.5 970.9M893.7 988.7L882.6 991.6M917.5 1032.4L905.7 1035.7M918.9 1037.4L895.6 1043.6M919.9 1040.7L896.4 1047.0M920.4 1042.4L908.4 1045.7"/>
<path stroke="#3cd46e" d="M679.3 432.6L676.6 429.3M685.1 440.7L681.9 437.9M677.2 432.7L673.8 428.4M685.9 443.7L682.6 440.9M671.9 428.8L670.9 427.3M689.0 448.2L687.6 447.1M686.9 446.7L683.4 443.9M669.8 428.7L668.8 427.2M689.2 450.4L687.6 449.3M687.0 448.8L684.4 446.9M681.7 444.7L674.6 437.7M668.3 429.7L667.3 428.1M685.9 450.2L684.4 449.1M675.6 441.3L673.3 438.9M667.7 431.8L665.1 427.9M686.1 452.4L684.5 451.3M666.2 432.7L665.2 431.2M685.1 453.9L683.5 452.7M665.7 434.9L663.7 432.1M684.1 455.3L682.5 454.1M666.0 438.3L663.1 434.3M683.1 456.7L679.1 453.7M670.6 446.1L665.3 440.1M649.2 364.5L649.8 362.6M680.9 457.2L678.0 455.1M676.0 453.5L673.4 451.2M670.4 448.4L669.0 446.9M646.5 368.5L648.1 362.1M679.8 458.6L675.7 455.5M645.1 366.6L646.0 363.1M640.5 372.2L641.2 368.5M687.8 473.6L681.4 470.1M784.9 470.6L781.5 472.7M690.2 476.7L686.6 474.9M681.0 471.8L679.1 470.6M785.8 472.1L774.5 478.2M691.1 479.0L689.0 478.0M678.6 472.4L676.7 471.1M786.8 473.6L781.7 476.5M777.3 478.8L772.0 481.2M692.0 481.2L689.9 480.3M673.2 470.9L671.3 469.5M787.7 475.0L784.1 477.2M776.5 481.2L774.3 482.1M773.1 482.6L769.3 484.2M691.3 482.8L689.2 481.9M675.2 474.3L673.3 473.0M788.6 476.5L786.6 477.7M770.4 485.6L766.4 487.1M674.3 475.8L670.8 473.4M666.7 470.4L662.0 466.5M791.1 476.9L789.1 478.2M767.4 488.6L763.4 489.9M717.2 493.5L714.8 493.2M673.3 477.2L671.3 475.9M665.6 471.8L659.5 466.6M792.0 478.4L790.0 479.7M766.2 490.8L763.9 491.5M691.1 488.3L688.8 487.4M672.4 478.7L668.8 476.2M664.6 473.1L662.7 471.6M660.1 469.5L656.9 466.6M791.3 480.9L784.2 485.0M663.5 474.5L655.7 467.8M792.3 482.4L785.0 486.6M769.1 493.5L766.8 494.2M688.0 490.8L685.7 489.8M672.2 482.6L670.1 481.3M664.0 477.0L662.0 475.5M660.9 474.6L654.5 469.1M793.2 483.8L791.0 485.1M685.4 491.6L683.2 490.6M673.0 485.1L670.8 483.8M669.6 483.0L667.5 481.6M661.4 477.2L659.4 475.6M658.2 474.7L653.4 470.4M794.1 485.3L791.9 486.6M682.9 492.3L680.6 491.2M677.4 489.6L673.4 487.4M795.0 486.8L792.8 488.1M613.5 388.7L613.7 379.9M795.9 488.2L793.7 489.6M611.8 386.7L611.9 379.9M796.8 489.7L794.6 491.1M610.1 388.8L610.2 379.8M776.6 501.8L770.0 504.1M608.3 386.7L608.3 384.0M608.5 380.2L608.6 377.5M779.2 502.6L770.5 505.8M606.6 386.7L606.6 384.0M606.6 382.3L606.9 377.4M801.5 492.9L799.2 494.4M781.9 503.3L777.3 505.2M773.6 506.5L771.1 507.4M604.9 384.4L605.0 379.5M802.4 494.4L800.1 495.8M784.7 504.0L775.8 507.6M774.2 508.2L769.4 509.7M787.4 504.7L778.6 508.4M776.9 509.1L767.8 512.0M802.3 498.5L799.9 500.0M790.2 505.2L779.4 510.0L768.2 513.7M599.7 382.0L600.0 376.9M803.3 500.0L798.8 502.6M791.0 506.8L786.3 509.0M782.5 510.6L775.4 513.3M598.0 382.0L598.3 376.8M804.2 501.4L801.7 502.9M796.0 506.2L789.2 509.6M785.3 511.3L782.6 512.4M801.0 505.4L794.2 509.1M790.4 510.9L785.5 513.1M797.6 509.2L792.8 511.7M788.9 513.5L786.2 514.7M794.0 513.0L786.9 516.3M748.4 540.4L742.6 540.9M754.3 543.1L748.3 543.9M757.3 544.4L754.0 544.9M751.8 545.2L745.7 545.8M757.6 546.1L754.3 546.6M749.3 549.0L746.0 549.3M755.2 550.0L746.2 551.0M589.0 472.6L587.3 469.7M581.8 480.6L576.8 472.2M580.3 481.5L575.3 473.0M563.8 447.9L559.0 432.5M580.5 485.1L573.8 473.8M563.3 451.4L557.3 432.9M580.8 488.7L577.1 482.9M574.1 477.9L570.7 471.9M561.7 452.0L560.4 448.6M559.5 446.1L555.6 433.4M577.6 487.0L575.6 483.8M571.0 475.9L564.9 464.0M562.5 458.6L559.9 452.2M557.9 446.6L553.2 430.7M576.2 487.9L574.2 484.7M567.9 473.9L566.2 470.6M565.0 468.2L559.6 456.1L555.1 443.6M551.6 431.6L550.7 428.0M566.4 474.7L559.1 459.5M551.6 438.4L549.0 428.4M564.9 475.6L558.8 463.2M550.0 438.9L549.0 435.2M571.8 490.7L569.8 487.5M564.9 479.3L557.3 463.9M551.3 448.9L545.7 429.2M568.5 488.8L561.7 477.0L555.7 464.6M550.8 452.6L544.8 432.8M739.0 580.9L728.4 581.0M718.7 580.6L714.8 580.3M565.3 486.9L557.0 471.5M548.1 450.0L546.8 446.3M544.1 437.0L543.1 433.2M742.5 582.5L738.6 582.6M732.3 582.8L728.3 582.7M563.8 487.7L555.4 472.3M542.4 437.5L541.4 433.7M742.6 584.2L738.7 584.4M732.3 584.5L728.3 584.5M562.3 488.6L553.9 473.0M541.7 441.2L539.7 434.1M746.2 585.7L742.2 586.0M732.3 586.2L728.3 586.2M559.1 486.5L553.9 476.9M542.0 448.4L538.9 437.9M746.3 587.4L742.3 587.7M732.3 587.9L728.2 587.9M666.6 577.0L662.8 575.7M557.6 487.4L553.9 480.8M540.4 448.9L539.2 445.1M746.4 589.2L742.4 589.4M732.3 589.7L728.2 589.6M666.1 578.7L662.2 577.3M557.9 491.3L554.1 484.7M539.9 452.8L536.5 442.2M834.7 563.8L831.2 565.8M746.5 590.9L742.5 591.1M732.3 591.4L728.2 591.4M556.4 492.2L554.3 488.7M537.1 450.0L535.9 446.1M841.8 561.6L838.3 563.7M746.7 592.6L735.4 593.1M554.9 493.1L552.8 489.6M536.6 453.9L534.2 446.6M553.4 494.0L549.6 487.2M536.2 457.9L533.7 450.6M846.7 562.5L843.2 564.8M834.1 570.1L830.5 572.1M552.0 494.9L549.8 491.3M534.6 458.5L533.2 454.6M847.6 564.0L844.1 566.3M552.4 498.9L548.3 492.1M545.0 486.1L541.4 479.1M534.2 462.6L532.8 458.6M550.9 499.8L546.8 493.0M543.5 486.9L539.9 479.8M532.6 463.2L531.1 459.2M849.5 566.9L845.9 569.2M549.5 500.7L545.3 493.9M532.4 467.3L530.8 463.4M550.0 504.9L547.7 501.2M838.3 577.7L834.5 579.7M548.6 505.8L546.3 502.2M530.6 472.1L529.0 468.1M547.1 506.7L544.8 503.1M543.1 500.2L540.9 496.5M853.3 572.7L846.3 577.1M840.0 580.7L836.1 582.8M545.7 507.7L543.3 504.0M541.6 501.1L537.4 494.0M854.2 574.2L847.2 578.6M544.2 508.6L541.9 504.9M540.1 502.0L530.5 484.4M855.2 575.6L841.2 584.0M542.8 509.6L540.4 505.8M538.6 502.9L536.4 499.1M846.0 583.3L842.1 585.5M541.3 510.5L538.9 506.7M537.1 503.8L534.9 499.9M857.1 578.5L849.8 583.0M539.9 511.5L535.4 504.2M861.4 577.7L857.6 580.2M536.3 509.0L533.9 505.1M862.3 579.2L858.5 581.7M852.1 585.7L844.6 590.0M863.3 580.6L859.5 583.1M856.4 585.1L849.0 589.5M640.6 602.3L636.4 600.4M535.5 514.3L528.9 503.4M860.8 584.3L849.9 591.0M643.8 605.4L635.7 602.0M534.1 515.2L527.4 504.3M643.1 607.0L635.0 603.6M530.4 512.7L528.0 508.7M642.5 608.7L634.3 605.2M526.7 510.0L524.4 506.0M641.8 610.3L633.6 606.8M641.2 611.9L632.9 608.3M640.5 613.5L632.2 609.9M844.9 607.5L840.6 609.6M841.8 611.0L837.4 613.1M850.4 608.5L846.1 610.8M840.8 619.1L836.3 621.2M841.5 620.7L837.0 622.8M854.5 616.2L850.0 618.5M855.3 617.7L850.8 620.0M847.9 623.4L843.3 625.6M840.0 640.3L835.1 642.3M853.9 635.9L844.7 640.2M836.2 643.8L831.3 645.7M832.4 647.1L827.3 649.0M864.6 646.0L859.6 648.5M837.3 660.1L832.1 662.0M852.2 655.8L847.0 658.0M850.5 679.0L844.9 681.2M846.0 682.7L840.3 684.8M851.8 682.2L840.9 686.4M852.4 683.9L846.8 686.1M853.1 685.5L842.1 689.7M848.5 689.1L842.7 691.3M866.3 687.4L860.5 689.9M872.2 686.5L866.5 689.2M663.4 710.5L657.2 709.1M857.0 695.1L851.1 697.4M663.0 712.2L651.2 709.5M403.0 334.6L405.1 322.6M879.0 687.2L873.2 689.9M656.9 712.6L650.8 711.2M879.7 688.7L874.0 691.5M880.5 690.3L874.7 693.0M881.2 691.8L875.4 694.6M882.0 693.4L876.2 696.2M860.9 704.7L854.8 707.1M878.8 700.7L872.9 703.4M619.3 714.4L613.1 712.3M385.2 380.6L385.4 374.0M879.5 702.2L873.6 705.0M880.3 703.8L874.3 706.5M857.8 713.4L840.0 719.7M881.0 705.4L875.0 708.1M869.8 710.4L857.9 715.2M852.6 717.1L840.6 721.3M876.1 709.5L864.3 714.5M853.2 718.8L841.1 722.9M871.1 713.6L864.9 716.1M853.8 720.4L841.6 724.6M871.8 715.1L865.6 717.7M878.9 715.8L872.7 718.5M879.6 717.4L873.4 720.1M880.3 719.0L874.1 721.7M881.1 720.6L874.7 723.3M864.0 729.5L857.5 731.9M870.6 728.8L864.1 731.3M859.2 735.0L840.3 741.3M803.4 752.3L790.1 754.7M803.7 754.0L790.3 756.4M804.7 759.1L791.2 761.5M843.8 751.1L836.9 753.2M863.3 746.4L843.8 752.9M811.9 761.2L804.9 762.6M798.8 763.7L791.7 764.9M765.6 768.1L758.5 768.7M772.5 769.2L765.3 769.9M807.7 774.4L800.4 775.7M794.1 776.8L786.8 777.9M773.6 779.5L766.2 780.2M759.8 780.7L752.4 781.2M704.1 789.4L696.5 788.8M769.4 811.2L761.5 811.8M777.0 812.2L761.6 813.5M858.4 799.1L850.7 801.4M824.2 859.3L815.4 860.9M824.5 861.0L815.7 862.6M824.8 862.7L816.0 864.3M954.9 863.7L946.0 867.7M918.4 926.9L908.4 930.3M918.9 928.6L909.0 931.9M919.5 930.2L909.5 933.5M993.5 922.0L974.2 931.0M994.2 923.5L974.9 932.5M995.0 925.1L975.6 934.1M986.3 931.1L976.3 935.7M1005.9 923.5L996.1 928.4M987.0 932.7L977.0 937.3M1006.7 925.0L996.8 930.0M987.8 934.3L977.7 938.9M1007.5 926.6L997.6 931.5M988.5 935.8L978.4 940.4M990.7 940.6L980.5 945.2M941.4 961.0L930.9 964.7M931.9 966.2L921.3 969.7M932.5 967.8L921.8 971.4M1012.2 935.8L992.4 945.5M953.3 962.1L942.7 966.0M1013.0 937.4L993.2 947.0M963.9 959.7L943.3 967.7M1013.8 938.9L1003.7 943.9M964.6 961.4L943.9 969.3M934.7 974.4L924.0 978.0M904.6 987.5L883.1 993.3M905.1 989.2L883.5 995.0M915.6 1025.7L892.7 1031.9M916.1 1027.4L893.1 1033.6M916.5 1029.1L893.5 1035.2M917.0 1030.7L905.3 1034.0M919.4 1039.1L896.0 1045.3"/>
<path stroke="#14c41e" d="M682.3 438.2L676.8 432.4M683.0 441.2L680.7 439.1M677.5 435.8L673.9 431.5M672.7 429.8L671.6 428.4M683.8 444.2L678.6 439.4M678.0 438.9L675.0 435.6M670.5 429.8L669.5 428.3M684.8 447.2L681.3 444.3M675.0 438.1L673.7 436.7M669.1 430.8L668.0 429.2M684.8 449.4L683.3 448.3M681.6 446.9L675.2 440.9M673.7 439.3L672.4 437.9M668.5 432.9L667.4 431.3M684.9 451.6L683.4 450.5M675.3 443.5L670.4 438.1L666.0 432.3M683.9 453.0L682.3 451.9M674.1 444.7L669.5 439.8L665.4 434.5M682.9 454.4L677.9 450.5M671.8 444.9L665.7 437.9M679.5 454.0L675.6 450.9M674.9 450.2L670.2 445.7M678.4 455.4L675.7 453.2M687.1 475.1L680.6 471.5M782.1 476.3L776.9 479.0M690.4 480.5L686.7 478.8M677.7 473.8L675.7 472.6M784.5 476.9L782.5 478.1M779.7 479.5L776.0 481.4M774.8 481.9L772.7 482.8M787.0 477.5L785.0 478.7M778.9 481.9L769.9 485.8M690.7 484.4L688.5 483.5M789.5 478.0L787.5 479.2M772.7 486.6L767.0 488.7M690.0 486.0L687.8 485.1M790.4 479.4L785.0 482.6M768.0 490.2L765.7 491.0M689.3 487.6L687.1 486.7M663.1 471.9L659.7 469.1M784.6 484.8L782.4 485.9M768.6 491.8L766.2 492.6M688.6 489.2L686.4 488.2M785.4 486.3L783.2 487.5M686.1 490.0L683.9 489.0M673.9 483.7L671.7 482.4M791.5 484.9L787.6 487.1M769.7 495.1L767.3 495.9M683.6 490.8L679.5 488.8M676.4 487.1L672.5 484.9M772.2 496.0L767.8 497.5M681.0 491.5L677.0 489.4M774.7 496.9L768.4 499.2M775.3 498.6L768.9 500.8M777.9 499.4L769.5 502.5M797.8 491.2L789.9 495.7M778.6 501.0L776.1 502.0M608.3 384.5L608.5 379.7M798.7 492.6L796.4 494.0M781.2 501.8L778.8 502.8M606.6 384.5L606.7 381.8M783.9 502.5L781.5 503.5M794.7 499.0L784.2 504.2M801.4 497.0L799.1 498.5M793.5 501.6L787.0 504.9M800.4 499.7L789.8 505.5M799.3 502.4L790.5 507.0M802.2 502.7L795.5 506.4M794.7 508.8L789.9 511.2M793.3 511.5L788.4 513.7M754.5 544.8L751.3 545.3M754.8 546.5L745.8 547.6M755.0 548.3L748.8 549.0M577.4 483.3L573.8 477.4M575.9 484.2L570.7 475.5M572.7 482.4L567.7 473.5M555.2 444.1L551.5 431.1M574.7 488.8L572.7 485.7M568.0 477.6L566.1 474.3M559.3 460.0L557.9 456.5M555.7 450.8L551.5 437.9M573.3 489.8L571.2 486.6M568.1 481.3L564.6 475.1M551.9 445.2L549.8 438.4M570.0 487.9L564.7 478.9M555.9 465.1L554.3 461.5M557.2 471.9L554.1 465.3M549.2 453.2L547.9 449.5M547.0 446.8L543.9 436.5M739.1 582.6L731.7 582.8M555.6 472.7L552.5 466.0M547.6 453.8L544.2 443.6M543.3 440.8L542.3 437.0M739.2 584.4L731.7 584.5M554.1 473.5L550.9 466.7M545.9 454.4L541.5 440.8M554.1 477.3L549.4 467.4M543.2 451.7L541.9 447.9M554.2 481.2L550.7 474.5M541.5 452.3L540.2 448.4M554.3 485.2L552.4 481.6M542.3 459.5L539.7 452.3M837.8 562.0L834.3 564.1M743.0 591.1L738.9 591.3M554.6 489.1L552.6 485.6M540.7 460.1L537.0 449.5M553.1 490.0L551.1 486.4M539.1 460.7L536.4 453.5M538.8 464.7L536.0 457.5M550.1 491.7L544.6 481.6M537.2 465.4L534.4 458.1M835.0 571.6L831.3 573.6M548.6 492.6L544.8 485.7M541.6 479.5L539.8 475.7M535.6 466.0L534.1 462.1M848.6 565.4L845.0 567.7M547.1 493.4L543.2 486.5M534.0 466.7L532.4 462.7M540.2 484.4L538.3 480.6M837.5 576.2L833.7 578.2M546.0 498.4L543.8 494.7M532.2 471.5L530.6 467.5M544.5 499.3L542.3 495.6M849.1 573.3L838.7 579.4M545.1 503.5L542.8 499.8M541.1 496.9L539.0 493.1M530.6 476.3L528.9 472.4M846.7 576.8L839.6 581.0M537.7 494.4L528.8 476.6M847.6 578.3L840.4 582.5M540.7 506.2L538.4 502.5M539.2 507.2L536.9 503.4M850.3 582.8L842.9 587.0M858.0 580.0L843.8 588.5M858.9 581.4L851.6 586.0M859.9 582.9L856.0 585.3M852.8 613.1L848.4 615.4M853.6 614.6L849.2 617.0M847.1 621.9L842.5 624.0M852.0 621.4L847.4 623.6M840.7 641.9L835.8 643.9M850.3 639.5L845.4 641.7M836.9 645.4L831.9 647.3M859.9 636.8L846.1 643.3M860.6 638.3L851.3 642.9M861.4 639.9L852.0 644.4M834.2 652.0L829.1 653.9M862.2 641.4L852.8 646.0M863.0 642.9L858.0 645.4M840.1 653.4L830.3 657.2M840.8 655.0L830.9 658.8M836.7 658.5L831.5 660.4M842.1 658.2L836.9 660.2M861.5 651.4L851.7 656.0M851.2 680.6L845.5 682.9M867.0 689.0L855.9 693.7M857.6 696.7L851.7 699.0M858.3 698.3L852.4 700.6M858.9 699.9L853.0 702.2M859.6 701.5L853.6 703.9M860.2 703.1L854.2 705.5M878.1 699.1L861.1 706.5M873.3 703.2L861.7 708.1M874.0 704.8L862.4 709.7M874.7 706.3L863.0 711.3M875.4 707.9L869.3 710.6M858.4 715.0L852.2 717.3M854.4 722.0L848.1 724.3M855.0 723.6L848.6 725.9M855.6 725.3L849.2 727.5M876.5 726.3L870.1 729.0M847.4 740.9L840.8 743.0M841.7 744.5L835.0 746.5M805.0 760.8L798.0 762.1M799.1 765.4L792.0 766.6M765.8 769.8L751.9 770.8M806.0 765.9L792.2 768.3M772.7 770.9L752.0 772.5M793.0 770.0L785.8 771.0M759.3 773.8L752.1 774.3M759.5 775.5L752.2 776.0M807.3 772.7L800.1 774.0M800.9 775.7L793.6 776.9M766.7 780.2L759.3 780.8M995.8 926.6L985.8 931.4M996.5 928.2L986.6 932.9M997.3 929.7L987.3 934.5M998.0 931.3L988.0 936.1M1008.3 928.1L979.1 942.0M989.9 939.0L979.8 943.6M1011.4 934.3L1001.4 939.3M933.0 969.5L922.3 973.0M933.6 971.1L922.9 974.7M944.4 969.1L923.4 976.3"/>
<path stroke="#12b21c" d="M681.1 439.5L677.2 435.4M674.2 431.9L672.4 429.4M679.0 439.8L677.7 438.5M675.4 436.0L670.2 429.4M674.1 437.1L672.9 435.7M671.5 434.0L668.8 430.4M683.7 448.6L681.2 446.5M672.8 438.2L670.7 435.7M670.1 435.1L668.2 432.5M677.3 445.4L674.9 443.1M682.7 452.2L681.2 451.0M675.1 445.7L673.7 444.3M678.3 450.8L675.7 448.6M675.0 447.9L671.5 444.5M676.0 451.2L674.5 449.9M689.5 478.2L687.4 477.3M683.2 475.0L678.2 472.1M687.1 479.0L685.0 478.0M679.2 474.8L677.2 473.6M783.0 477.8L779.3 479.8M689.7 482.1L684.3 479.5M676.7 475.3L674.8 474.0M785.4 478.4L778.4 482.1M689.0 483.7L686.8 482.7M787.9 479.0L780.2 483.2L772.3 486.7M688.3 485.3L686.1 484.3M674.9 478.2L672.9 476.9M785.5 482.4L772.9 488.3M769.8 489.5L767.5 490.4M674.0 479.7L672.0 478.4M782.9 485.7L775.4 489.2M770.4 491.2L768.1 492.0M686.8 488.4L682.9 486.6M674.7 482.2L671.0 479.8M783.7 487.3L781.4 488.4M780.1 489.0L774.2 491.6M772.8 492.1L768.7 493.6M684.3 489.2L680.3 487.3M675.6 484.7L673.4 483.4M788.0 486.9L782.2 489.9M771.6 494.4L769.2 495.3M680.0 489.0L676.0 486.9M792.4 486.4L788.4 488.7M785.2 490.3L777.4 494.0M774.1 495.3L771.7 496.2M793.2 487.8L791.0 489.2M784.2 492.8L774.2 497.1M794.1 489.3L791.9 490.7M781.1 496.1L774.9 498.7M795.0 490.8L790.9 493.2M779.9 498.6L777.5 499.6M784.5 498.4L778.1 501.2M796.8 493.8L788.7 498.3M787.2 499.0L780.8 502.0M799.6 494.1L791.7 498.7L783.5 502.7M800.5 495.6L794.3 499.2M799.5 498.2L793.1 501.8M574.4 485.2L572.5 482.0M572.9 486.1L567.7 477.2M558.1 456.9L555.5 450.4M571.5 487.0L567.8 480.9M559.0 463.7L557.5 460.2M553.0 448.3L551.8 444.7M557.5 464.4L555.9 460.9M552.4 452.0L551.2 448.4M554.5 462.0L553.1 458.4M552.0 455.8L550.7 452.1M554.3 465.8L552.7 462.2M550.4 456.4L549.0 452.7M552.7 466.5L551.2 462.9M548.8 457.0L547.4 453.3M544.3 444.0L543.2 440.3M551.1 467.2L545.8 453.9M742.7 585.9L731.7 586.2M549.6 467.9L543.0 451.2M739.3 587.8L731.7 587.9M551.0 475.0L549.2 471.3M545.2 462.1L541.4 451.8M735.8 589.6L731.7 589.7M552.6 482.1L549.2 475.3M543.6 462.8L542.1 459.0M735.8 591.4L731.7 591.4M552.8 486.0L547.6 476.0M542.0 463.4L540.5 459.6M838.7 563.5L832.0 567.3M551.3 486.8L547.7 480.0M540.4 464.1L538.9 460.3M842.7 563.1L839.2 565.2M549.8 487.7L546.1 480.8M540.2 468.1L538.6 464.3M843.6 564.5L833.7 570.4M544.8 482.0L541.4 475.0M538.6 468.8L537.0 464.9M844.5 566.0L837.7 570.1M540.0 476.2L538.3 472.4M537.0 469.4L535.4 465.6M835.8 573.1L832.1 575.2M540.1 480.3L533.8 466.2M846.3 568.9L842.7 571.1M836.6 574.7L832.9 576.7M545.6 494.3L540.0 484.0M538.5 481.0L536.7 477.2M533.8 470.8L532.2 466.9M847.3 570.4L843.6 572.6M548.0 501.7L545.8 498.0M544.1 495.2L542.0 491.4M848.2 571.9L837.9 577.9M546.5 502.6L544.3 498.9M542.6 496.0L540.5 492.3M532.2 475.6L530.5 471.7M539.2 493.6L537.1 489.7M543.6 504.4L541.3 500.7M542.1 505.3L539.8 501.6M845.7 609.0L841.4 611.2M842.6 612.5L838.2 614.6M851.2 610.1L846.8 612.3M843.3 614.1L838.9 616.2M852.0 611.6L839.6 617.8M848.9 615.2L840.3 619.3M845.2 640.0L840.3 642.1M854.7 637.4L849.9 639.7M845.9 641.5L836.4 645.5M846.6 643.1L841.6 645.3M837.5 647.0L827.9 650.7M851.8 642.6L846.8 644.9M838.2 648.6L828.5 652.3M852.5 644.2L847.5 646.5M838.8 650.2L833.8 652.2M839.5 651.8L829.7 655.5M858.5 645.2L853.5 647.6M849.4 649.4L839.7 653.6M863.8 644.5L840.3 655.2M860.0 648.3L845.7 654.8M841.4 656.6L836.2 658.6M860.8 649.8L841.6 658.4M873.0 688.1L867.2 690.7M873.7 689.7L867.9 692.3M874.4 691.3L868.6 693.9M875.2 692.8L869.3 695.5M864.4 697.6L858.5 700.1M877.4 697.5L871.4 700.2M866.4 702.4L860.4 704.9M864.8 714.3L852.8 718.9M865.4 715.9L859.2 718.4M853.6 738.8L847.0 741.0M860.3 738.3L841.3 744.7M860.9 739.9L841.8 746.3M842.8 747.8L836.0 749.8M843.3 749.5L836.4 751.5M862.7 744.8L843.3 751.3M805.7 764.2L798.6 765.5M806.4 767.6L792.5 770.0M766.1 773.3L758.8 773.9M800.0 770.5L786.0 772.8M807.0 771.0L786.3 774.5M759.6 777.3L752.3 777.7M800.6 774.0L786.5 776.2M773.4 777.8L752.3 779.4M1009.1 929.6L989.5 939.2M1010.6 932.7L1000.6 937.7M942.0 962.6L931.4 966.4M1001.8 939.1L991.7 943.9M942.6 964.2L932.0 968.0M943.2 965.9L932.6 969.6"/>
<path stroke="#10a018" d="M673.2 436.1L671.2 433.6M671.0 436.1L669.8 434.7M683.8 450.8L677.0 445.1M681.6 451.3L674.7 445.3M676.0 448.9L674.6 447.6M687.9 477.5L682.7 474.8M685.5 478.2L678.8 474.5M684.7 479.8L679.5 476.9M678.3 476.2L676.3 475.0M687.3 482.9L681.8 480.2M677.4 477.7L673.8 475.5M686.5 484.5L681.0 481.8M676.5 479.2L674.5 478.0M773.4 488.2L769.3 489.7M687.5 486.9L680.2 483.3M675.6 480.7L673.6 479.4M775.8 489.0L769.9 491.3M683.3 486.8L679.4 484.8M781.9 488.1L779.7 489.2M774.7 491.4L772.4 492.3M680.8 487.5L675.1 484.4M782.7 489.7L771.1 494.6M788.8 488.4L784.8 490.6M777.9 493.8L773.6 495.5M791.5 488.9L783.7 493.0M792.3 490.4L780.7 496.3M791.3 493.0L789.0 494.2M783.8 496.8L779.4 498.8M790.3 495.5L784.0 498.6M789.2 498.0L786.8 499.2M557.7 460.6L556.3 457.1M555.2 454.5L552.8 447.8M556.1 461.3L554.7 457.8M553.6 455.1L552.3 451.5M553.2 458.9L551.8 455.3M552.9 462.7L550.2 455.9M551.4 463.4L548.6 456.5M742.8 587.7L738.8 587.8M549.4 471.8L545.0 461.7M742.9 589.4L735.3 589.6M549.4 475.7L543.4 462.3M739.4 591.3L735.3 591.4M547.9 476.5L541.8 463.0M547.9 480.5L546.1 476.8M543.2 470.7L540.2 463.6M839.6 565.0L832.8 568.8M546.4 481.3L544.5 477.6M541.7 471.4L540.0 467.6M541.6 475.5L538.4 468.3M838.2 569.8L834.5 571.9M538.5 472.8L536.8 469.0M845.4 567.5L838.6 571.6M843.1 570.9L836.2 574.9M536.9 477.7L533.6 470.3M844.0 572.4L837.0 576.4M542.2 491.9L532.0 471.0M540.7 492.7L532.0 475.2M537.4 490.2L530.4 475.9M846.5 610.6L842.1 612.7M847.3 612.1L842.9 614.3M849.6 616.7L841.1 620.9M850.4 618.3L841.8 622.5M851.2 619.8L846.7 622.1M842.1 645.1L837.1 647.1M847.3 644.7L837.7 648.8M848.0 646.3L838.4 650.4M853.2 645.8L839.0 652.0M854.0 647.4L848.9 649.6M846.1 654.6L841.0 656.8M867.7 690.5L856.5 695.3M868.4 692.1L857.2 696.9M869.1 693.7L857.8 698.5M869.8 695.3L863.9 697.8M875.9 694.4L870.0 697.1M865.1 699.2L859.1 701.7M871.9 700.0L865.9 702.6M859.6 718.2L853.4 720.6M866.1 717.5L854.0 722.2M872.5 716.7L866.2 719.3M863.4 727.9L856.9 730.3M859.7 736.6L853.1 739.0M842.3 746.2L835.5 748.2M861.5 741.5L842.3 748.0M862.1 743.1L842.8 749.6M805.4 762.5L798.3 763.8M772.8 772.6L765.6 773.3M806.7 769.3L799.5 770.6M773.0 774.4L759.0 775.6M773.2 776.1L759.1 777.3M1009.9 931.2L990.2 940.8M1001.1 937.5L991.0 942.3M943.8 967.5L933.1 971.3"/>
<path stroke="#0e8c14" d="M679.9 477.2L677.9 476.0M682.3 480.5L677.0 477.5M681.5 482.0L679.4 480.8M678.2 480.2L676.1 479.0M680.6 483.5L678.5 482.4M679.8 485.0L674.3 481.9M789.5 494.0L783.3 497.0M556.5 457.6L555.1 454.1M554.8 458.2L553.4 454.7M546.3 477.3L543.0 470.3M544.7 478.0L541.5 471.0M839.0 571.3L835.4 573.4M870.5 696.9L864.6 699.4M876.6 696.0L859.8 703.3M866.7 719.1L854.5 723.8M873.2 718.3L866.9 720.9M861.5 723.1L855.1 725.4M862.1 724.7L855.7 727.1M862.7 726.3L856.3 728.7M875.9 724.7L863.5 729.7"/>
<path stroke="#0c7a10" d="M679.8 481.1L677.7 479.9M679.0 482.6L675.2 480.4M867.4 720.7L861.0 723.2M875.2 723.1L868.8 725.7"/>
<path stroke="#0a660e" d="M873.8 719.9L861.7 724.9M874.5 721.5L862.3 726.5M869.3 725.6L862.9 728.1"/></g>
<path d="M469.0 454.9 L478.0 450.9 L486.0 452.9 L492.0 448.9 L499.0 437.9 L501.0 432.9 L510.0 432.9 L514.0 428.9 M451.0 519.9 L460.0 522.9 L466.0 523.5 L471.0 516.9 L476.0 511.5 L480.0 513.9 L484.0 521.9 L490.0 525.9 L493.0 515.9 L498.0 519.9 L502.0 529.9 L510.0 531.9 L518.0 529.9 L524.0 533.8 L526.0 547.8 L528.9 556.0 M539.9 448.9 L547.9 445.9 L550.9 451.9 L547.9 457.9 L543.9 459.9 L547.9 467.9 L545.9 477.9 L547.9 487.9 L541.9 497.9 L537.9 505.9 L535.9 513.9 L537.9 519.9 L526.0 529.9 L524.0 533.8 M563.9 459.9 L568.9 457.9 L571.9 461.9 L567.9 469.9 L563.9 479.9 L567.9 487.9 L571.9 491.9 M568.9 457.9 L579.9 465.9 L587.9 467.9 M617.9 513.9 L611.9 513.9 L603.9 515.9 L600.9 520.9 L599.9 527.9 L597.9 547.8 L583.9 551.8 L579.9 549.8 L575.9 556.0 M486.0 615.9 L492.0 613.9 L500.0 616.9 L506.0 620.9 L514.0 615.9 L526.0 608.9 L528.9 618.9 L539.9 625.9 L547.9 623.9 L555.9 621.9 L563.9 625.9 L575.9 625.9 L587.9 627.9 L599.9 631.9 L611.9 633.9 L625.9 635.9 L631.9 639.9 L635.9 651.9 L639.9 659.9 L647.9 664.9 L653.8 669.9 L657.8 672.9 M482.0 693.9 L488.0 697.9 L490.0 706.9 L493.0 705.9 L500.0 701.9 L512.0 694.9 L520.0 693.9 L528.0 691.9 L539.9 685.9 L547.9 682.9 L555.9 682.9 L559.9 687.9 L565.9 689.9 M528.9 672.9 L531.9 679.9 L539.9 685.9 M647.9 664.9 L640.9 666.9 L635.9 671.9 L632.9 677.9 L639.9 682.9 L651.9 683.9 M674.8 593.0 L681.8 596.0 L687.8 603.0 L693.8 602.0 L700.0 597.0 L707.8 598.0 L714.8 602.0 M583.9 551.0 L597.9 549.0 L600.9 559.0 L606.9 566.0 L613.9 567.0 M518.0 540.0 L520.0 548.0 L528.0 554.0 L529.9 568.0 L526.0 580.0 L528.0 592.0 L528.9 608.9 M563.9 625.9 L561.9 635.9 L553.9 645.9 L547.9 651.9 L543.9 663.9 L535.9 671.9 L528.9 672.9 M625.9 635.9 L629.9 619.9 L633.9 606.0 L629.9 598.0 L631.9 588.0 L625.9 576.0 L619.9 566.0 L613.9 567.0 M611.9 691.9 L613.9 699.9 L611.9 709.9 L615.9 715.9 L607.9 715.9 L599.9 717.9 L591.9 719.9 L587.9 711.9 L583.9 703.9" stroke="#808080" stroke-width="0.95" fill="none" stroke-linejoin="round"/>
<path d="M84.5 363.0 L93.7 353.7 L97.0 360.0 L112.5 362.0 L115.0 367.5 L120.7 370.0 L111.2 378.7 L112.0 396.9 L106.2 392.4 L100.5 397.4 L100.5 403.7 L98.0 409.9 L92.5 412.4 L95.0 418.7 L99.5 426.2 L93.7 434.9 L90.5 447.4 L89.5 454.9 L84.5 460.4 M578.5 45.0 L584.1 56.6 L591.0 65.0 L593.8 76.1 L591.0 77.5 L596.6 85.8 L595.2 88.6 L600.7 83.8 L616.0 85.8 L627.1 87.2 L629.3 91.3 L624.3 99.7 L620.2 105.2 L613.2 109.4 L606.3 117.7 L599.3 123.3 L593.8 128.8 L595.2 137.1 L602.1 141.3 L599.3 145.5 L606.3 149.6 L610.5 159.3 L613.2 163.5 L621.5 159.9 L631.3 159.3 L639.6 161.3 L643.8 160.7 L652.1 166.3 L659.0 168.2 L654.9 174.6 L656.2 182.9 L667.3 188.5 L668.7 195.4 L666.0 206.5 L665.4 216.2 L660.4 226.0 L656.2 230.9 L664.6 242.6 L674.3 249.6 L679.8 257.9 L678.5 263.4 L670.1 266.2 L663.2 273.1 L657.6 267.6 L650.7 262.9 L643.8 264.8 L639.6 271.8 L635.4 281.5 L636.0 289.8 L631.3 295.3 L618.8 298.1 L607.7 302.3 L602.1 309.2 L599.3 314.8 L592.4 317.6 L591.0 323.1 L596.6 328.6 L598.0 340.0 M599.3 330.0 L599.8 345.0 L594.8 347.5 L587.3 348.0 L581.1 353.7 L579.9 360.0 L584.9 362.5 L586.1 367.5 L579.9 371.2 L573.6 370.0 L572.4 365.0 L577.4 360.0 L579.9 360.0 M576.1 371.2 L577.4 380.0 L573.6 387.5 L577.4 394.9 L572.4 404.9 L571.1 414.9 L577.4 424.9 L579.9 434.9 L578.6 439.9 L582.4 449.9 L589.8 459.9 L592.3 469.9 L597.3 474.9 L599.8 468.6 L602.3 477.4 L609.8 479.9 L611.1 489.9 L614.8 502.4 L619.8 509.9 L627.3 514.9 L632.3 522.4 L642.3 527.4 L647.3 537.3 L648.5 543.6 L653.5 542.3 L656.0 536.1 L667.3 536.1 L673.5 547.3 L679.8 553.6 L689.8 557.5 L703.5 552.5 L712.3 557.5 L721.0 561.2 L724.8 558.7 L723.5 565.0 L719.8 572.5 L721.0 582.4 L721.0 589.9 L717.3 604.9 L714.8 608.7 L717.3 613.7 L704.8 622.4 L694.8 629.9 L687.3 642.4 L691.0 649.9 L684.8 666.1 L677.3 674.9 L668.6 682.4 L667.3 688.6 L662.3 693.6 L669.8 699.9 L666.1 709.8 L662.3 719.8 L663.6 734.8 L664.8 757.3 M537.4 346.2 L539.9 353.7 L552.4 357.5 L558.6 357.0 L558.6 351.2 L564.9 351.2 L572.4 355.0 L577.4 360.0 M537.4 346.2 L517.4 351.2 L514.9 362.5 L512.4 371.2 L492.4 386.2 L488.7 403.7 L478.7 411.2 L476.2 422.4 L473.7 439.9 L466.2 443.7 L464.9 452.4 L468.7 457.4 L467.4 464.9 L459.9 466.1 L454.9 472.4 L448.7 473.6 L446.2 484.9 L441.2 499.9 L435.0 504.9 L436.2 509.9 L444.9 514.9 L449.9 518.6 L450.0 519.5 L440.0 523.7 L438.7 530.0 L436.2 537.5 L437.0 550.0 L440.0 558.7 L440.0 565.5 L451.2 567.0 L458.7 579.9 L467.5 604.9 L478.7 606.2 L485.0 613.7 L488.7 619.9 L483.7 627.4 L490.0 636.1 L496.2 642.4 L493.7 654.9 L486.2 657.4 L483.7 672.4 L476.2 679.9 L480.0 686.1 L482.5 692.4 L476.2 699.9 L466.2 707.3 L460.0 709.8 M665.0 757.5 L673.7 753.7 L681.2 752.5 L687.5 748.7 L700.0 755.0 L712.5 763.7 L724.9 771.2 L734.9 780.0 L729.9 786.2 L733.7 792.5 L743.7 799.9 L744.9 806.2 L751.2 808.7 L749.9 814.9 L742.4 816.2 L738.7 818.7 L743.7 826.2 L748.7 829.9 L747.4 834.9 L752.4 842.4 L759.9 847.4 L768.7 856.1 L777.4 859.9 L773.7 869.9 L777.4 874.9 L784.9 877.4 L786.1 894.9 L796.1 893.6 L798.6 904.9 L793.6 912.4 L797.4 918.6 L803.6 923.6 L814.9 922.4 L826.1 926.1 L837.4 932.3 L843.6 928.6 L842.4 919.9 L847.4 917.4 L843.6 906.1 L838.6 898.6 L847.4 892.4 L854.9 896.1 L861.1 897.4 L869.8 892.4 L876.1 892.4 L884.8 902.4 L889.8 898.6 L902.3 909.9 L912.3 909.9 L909.8 924.9 L916.0 939.8 L917.3 953.6 L923.5 954.8 L927.3 946.1 L933.5 943.6 L931.0 933.6 L939.8 929.8 L946.0 939.8 L945.3 937.4 L949.7 944.4 L957.6 949.7 L960.2 946.1 L966.4 945.3 L972.5 951.4 L976.0 947.0 L989.2 945.3 L998.9 947.9 L1004.2 951.4 L1010.3 952.3 M84.5 474.4 L102.5 479.1 L112.5 492.4 L117.0 501.1 L115.0 512.4 L105.0 528.6 L106.2 539.8 L110.5 542.3 L112.5 553.6 L105.7 567.3 L108.7 570.3 L112.5 569.3 L117.5 571.6 L125.0 572.3 L133.7 571.1 L136.2 568.6 L138.7 567.3 L142.4 564.1 L154.9 564.1 L159.4 567.3 L166.2 576.1 L184.9 586.1 L192.4 584.3 L197.4 589.8 L202.5 602.5 L206.2 611.2 L212.4 615.0 L214.4 611.2 L218.7 613.7 L220.7 625.0 L229.9 624.2 L236.2 623.7 L238.7 627.0 L249.9 628.2 L257.9 623.2 L263.7 628.7 L272.4 637.5 L282.4 647.9 L276.2 653.7 L271.9 661.9 L275.4 671.2 L284.9 667.9 L286.9 659.9 L303.6 667.9 L311.1 674.9 L318.6 682.9 L321.1 696.2 L326.9 697.9 L324.9 704.9 L322.4 706.1 L327.9 713.6 L331.1 714.9 L330.4 721.1 L324.9 725.4 L329.9 729.9 L332.9 736.9 L338.6 731.9 L347.4 730.4 L356.1 727.9 L363.6 719.9 L369.8 719.4 L377.3 721.9 L384.8 731.9 L387.3 726.1 L387.8 718.6 L393.6 711.1 L397.3 707.4 L403.6 705.6 L409.8 707.9 L418.6 712.4 L424.8 711.9 L429.8 709.9 L434.8 712.9 L439.8 711.1 L439.8 702.4 L444.8 699.9 L450.0 703.6 L452.5 704.9 L460.0 709.8 L462.5 713.6 L468.7 712.3 L470.0 717.3 L467.5 722.3 L476.2 731.1 L490.0 736.1 L497.4 734.8 L509.9 736.1 L518.7 741.1 L519.9 753.6 L524.9 759.8 L522.4 763.5 L534.9 761.0 L544.9 762.3 L549.9 756.1 L566.1 761.0 L567.4 752.3 L574.9 746.1 L579.9 741.1 L584.9 739.8 L592.4 732.3 L602.4 731.1 L619.9 729.8 L627.4 731.1 L634.9 737.3 L642.3 744.8 L656.1 752.3 L664.8 757.3 M715.2 605.5 L718.3 605.0 L719.3 608.0 L716.8 610.2 L714.3 608.7 L715.2 605.5" stroke="#000" stroke-width="3.15" fill="none" stroke-linejoin="round" stroke-linecap="round"/>
<circle cx="732" cy="386.3" r="4.9" fill="#f00" stroke="#000" stroke-width="0.8"/>
</g>
<rect x="85.5" y="45.5" width="925.0" height="1000.9" fill="none" stroke="#000" stroke-width="1.1"/>
<rect x="97.5" y="53.5" width="218" height="49.5" fill="#fff" stroke="#000" stroke-width="1.3"/>
<text x="102.3" y="73.0" font-size="17.2" text-anchor="start" textLength="69.0" lengthAdjust="spacingAndGlyphs">Product:</text>
<text x="177.0" y="73.0" font-size="17.2" text-anchor="start" textLength="34.5" lengthAdjust="spacingAndGlyphs">0.8°</text>
<text x="216.3" y="73.0" font-size="17.2" text-anchor="start" textLength="93.0" lengthAdjust="spacingAndGlyphs">Reflectivity</text>
<text x="102.3" y="92.9" font-size="17.2" text-anchor="start" textLength="46.5" lengthAdjust="spacingAndGlyphs">Data:</text>
<text x="152.7" y="92.9" font-size="17.2" text-anchor="start" textLength="43.5" lengthAdjust="spacingAndGlyphs">DWD</text>
<text x="351.5" y="38.5" font-size="40.8" text-anchor="start" textLength="198.0" lengthAdjust="spacingAndGlyphs">20.11.2025</text>
<text x="560.5" y="38.5" font-size="40.8" text-anchor="start" textLength="100.5" lengthAdjust="spacingAndGlyphs">12:15</text>
<text x="672.0" y="38.5" font-size="40.8" text-anchor="start" textLength="70.5" lengthAdjust="spacingAndGlyphs">UTC</text>
<text x="20.7" y="166.1" font-size="17.5" text-anchor="start" textLength="57.3" lengthAdjust="spacingAndGlyphs">50.5°N</text>
<text x="10.0" y="311.1" font-size="17.5" text-anchor="start" textLength="68.0" lengthAdjust="spacingAndGlyphs">50.25°N</text>
<text x="37.5" y="455.1" font-size="17.5" text-anchor="start" textLength="40.5" lengthAdjust="spacingAndGlyphs">50°N</text>
<text x="10.0" y="598.1" font-size="17.5" text-anchor="start" textLength="68.0" lengthAdjust="spacingAndGlyphs">49.75°N</text>
<text x="20.7" y="740.1" font-size="17.5" text-anchor="start" textLength="57.3" lengthAdjust="spacingAndGlyphs">49.5°N</text>
<text x="10.0" y="882.1" font-size="17.5" text-anchor="start" textLength="68.0" lengthAdjust="spacingAndGlyphs">49.25°N</text>
<text x="37.5" y="1023.1" font-size="17.5" text-anchor="start" textLength="40.5" lengthAdjust="spacingAndGlyphs">49°N</text>
<text x="144.6" y="1067.3" font-size="17.5" text-anchor="start" textLength="28.0" lengthAdjust="spacingAndGlyphs">5°E</text>
<text x="321.3" y="1067.3" font-size="17.5" text-anchor="start" textLength="44.6" lengthAdjust="spacingAndGlyphs">5.5°E</text>
<text x="514.6" y="1067.3" font-size="17.5" text-anchor="start" textLength="28.0" lengthAdjust="spacingAndGlyphs">6°E</text>
<text x="691.3" y="1067.3" font-size="17.5" text-anchor="start" textLength="44.6" lengthAdjust="spacingAndGlyphs">6.5°E</text>
<text x="884.6" y="1067.3" font-size="17.5" text-anchor="start" textLength="28.0" lengthAdjust="spacingAndGlyphs">7°E</text>
<rect x="1068.6" y="963.92" width="45.2" height="32.78" fill="#6678a8"/>
<rect x="1068.6" y="931.74" width="45.2" height="32.78" fill="#5469a5"/>
<rect x="1068.6" y="899.56" width="45.2" height="32.78" fill="#4560a5"/>
<rect x="1068.6" y="867.39" width="45.2" height="32.78" fill="#4a7cb5"/>
<rect x="1068.6" y="835.21" width="45.2" height="32.78" fill="#5a9dc8"/>
<rect x="1068.6" y="803.03" width="45.2" height="32.78" fill="#65c0dc"/>
<rect x="1068.6" y="770.85" width="45.2" height="32.78" fill="#62d4c0"/>
<rect x="1068.6" y="738.67" width="45.2" height="32.78" fill="#3cd46e"/>
<rect x="1068.6" y="706.49" width="45.2" height="32.78" fill="#14c41e"/>
<rect x="1068.6" y="674.31" width="45.2" height="32.78" fill="#12b21c"/>
<rect x="1068.6" y="642.14" width="45.2" height="32.78" fill="#10a018"/>
<rect x="1068.6" y="609.96" width="45.2" height="32.78" fill="#0e8c14"/>
<rect x="1068.6" y="577.78" width="45.2" height="32.78" fill="#0c7a10"/>
<rect x="1068.6" y="545.60" width="45.2" height="32.78" fill="#0a660e"/>
<rect x="1068.6" y="513.42" width="45.2" height="32.78" fill="#457a08"/>
<rect x="1068.6" y="481.24" width="45.2" height="32.78" fill="#b0b008"/>
<rect x="1068.6" y="449.06" width="45.2" height="32.78" fill="#ffd800"/>
<rect x="1068.6" y="416.89" width="45.2" height="32.78" fill="#ffb800"/>
<rect x="1068.6" y="384.71" width="45.2" height="32.78" fill="#ff9a00"/>
<rect x="1068.6" y="352.53" width="45.2" height="32.78" fill="#ff7f00"/>
<rect x="1068.6" y="320.35" width="45.2" height="32.78" fill="#e20000"/>
<rect x="1068.6" y="288.17" width="45.2" height="32.78" fill="#c00000"/>
<rect x="1068.6" y="255.99" width="45.2" height="32.78" fill="#a00000"/>
<rect x="1068.6" y="223.81" width="45.2" height="32.78" fill="#7a0000"/>
<rect x="1068.6" y="191.64" width="45.2" height="32.78" fill="#ffdcff"/>
<rect x="1068.6" y="159.46" width="45.2" height="32.78" fill="#ffb0ff"/>
<rect x="1068.6" y="127.28" width="45.2" height="32.78" fill="#ff64ff"/>
<rect x="1068.6" y="95.10" width="45.2" height="32.78" fill="#e632e6"/>
<rect x="1068.6" y="95.4" width="45.2" height="901.0" fill="none" stroke="#000" stroke-width="1.1"/>
<path d="M1113.8 996.4h5" stroke="#000" stroke-width="1.1"/>
<text x="1124.3" y="1006.6" font-size="29.6" text-anchor="start" textLength="16.5" lengthAdjust="spacingAndGlyphs">0</text>
<path d="M1113.8 867.7h5" stroke="#000" stroke-width="1.1"/>
<text x="1123.3" y="877.9" font-size="29.6" text-anchor="start" textLength="33.0" lengthAdjust="spacingAndGlyphs">10</text>
<path d="M1113.8 739.0h5" stroke="#000" stroke-width="1.1"/>
<text x="1123.3" y="749.2" font-size="29.6" text-anchor="start" textLength="33.0" lengthAdjust="spacingAndGlyphs">20</text>
<path d="M1113.8 610.3h5" stroke="#000" stroke-width="1.1"/>
<text x="1123.3" y="620.5" font-size="29.6" text-anchor="start" textLength="33.0" lengthAdjust="spacingAndGlyphs">30</text>
<path d="M1113.8 481.5h5" stroke="#000" stroke-width="1.1"/>
<text x="1123.3" y="491.7" font-size="29.6" text-anchor="start" textLength="33.0" lengthAdjust="spacingAndGlyphs">40</text>
<path d="M1113.8 352.8h5" stroke="#000" stroke-width="1.1"/>
<text x="1123.3" y="363.0" font-size="29.6" text-anchor="start" textLength="33.0" lengthAdjust="spacingAndGlyphs">50</text>
<path d="M1113.8 224.1h5" stroke="#000" stroke-width="1.1"/>
<text x="1123.3" y="234.3" font-size="29.6" text-anchor="start" textLength="33.0" lengthAdjust="spacingAndGlyphs">60</text>
<path d="M1113.8 95.4h5" stroke="#000" stroke-width="1.1"/>
<text x="1123.3" y="105.6" font-size="29.6" text-anchor="start" textLength="33.0" lengthAdjust="spacingAndGlyphs">70</text>
<text transform="translate(1187.3 576) rotate(-90)" font-size="30.5" textLength="54.5" lengthAdjust="spacingAndGlyphs">dBZ</text>
</svg></body></html>
